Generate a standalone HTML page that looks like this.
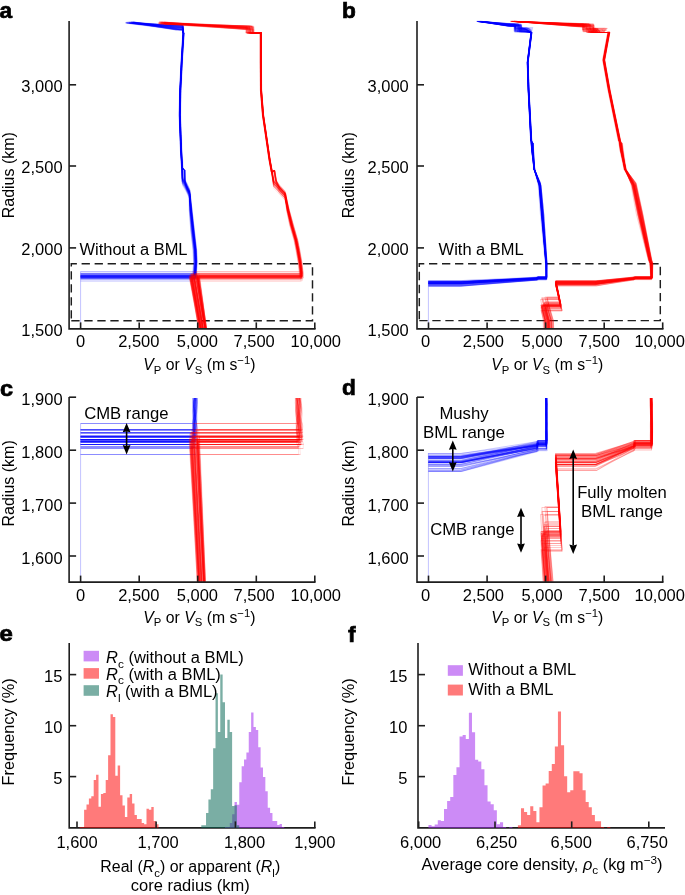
<!DOCTYPE html>
<html><head><meta charset="utf-8"><style>
html,body{margin:0;padding:0;background:#fff;}
svg{display:block;will-change:transform;}
text{font-family:"Liberation Sans",sans-serif;fill:#000;}
</style></head><body>
<svg width="685" height="895" viewBox="0 0 685 895">
<rect width="685" height="895" fill="#fff"/>
<defs><clipPath id="clipA"><rect x="69" y="0" width="260" height="329.3"/></clipPath><clipPath id="clipC"><rect x="69" y="397.9" width="260" height="184.5"/></clipPath><clipPath id="clipB"><rect x="417" y="0" width="260" height="329.3"/></clipPath><clipPath id="clipD"><rect x="417" y="397.9" width="260" height="184.5"/></clipPath></defs>
<path d="M71.3,320.8 H312.5 V263.8 H71.3 V320.8" fill="none" stroke="#1e1e1e" stroke-width="1.45" stroke-dasharray="8.3 4.72" stroke-dashoffset="0"/>
<path d="M419.3,320.6 H660.3 V263.8 H419.3 V320.6" fill="none" stroke="#1e1e1e" stroke-width="1.45" stroke-dasharray="8.3 4.72" stroke-dashoffset="0"/>
<g clip-path="url(#clipA)">
<polyline points="131.9,23.4 176.7,29.4 182.2,29.4 183.1,33.0 183.4,33.0 181.7,60.0 180.2,90.0 179.7,115.0 181.0,150.0 181.9,165.0 182.4,178.9 186.4,185.9 189.5,192.4 190.7,210.0 192.7,230.0 195.0,250.0 195.5,262.0 194.9,272.0 194.9,277.5 80.6,277.5" fill="none" stroke="#0000ff" stroke-width="0.5" stroke-opacity="0.27" stroke-linejoin="miter" stroke-miterlimit="2"/>
<polyline points="131.3,22.5 175.1,26.9 182.3,26.9 182.7,33.0 182.9,33.0 181.2,60.0 179.7,90.0 179.2,115.0 180.5,150.0 181.4,165.0 181.6,167.5 184.0,170.5 184.2,181.4 185.9,187.7 189.0,194.2 189.8,210.0 191.6,230.0 193.9,250.0 194.4,262.0 193.8,272.0 193.8,276.7 80.6,276.7" fill="none" stroke="#0000ff" stroke-width="0.5" stroke-opacity="0.27" stroke-linejoin="miter" stroke-miterlimit="2"/>
<polyline points="130.6,21.8 176.6,27.4 182.7,27.4 183.0,33.0 183.6,33.0 181.9,60.0 180.4,90.0 179.9,115.0 181.2,150.0 182.1,165.0 182.6,181.4 186.6,188.4 189.6,194.9 189.7,210.0 191.2,230.0 193.5,250.0 194.0,262.0 193.4,271.5 80.6,271.5" fill="none" stroke="#0000ff" stroke-width="0.5" stroke-opacity="0.27" stroke-linejoin="miter" stroke-miterlimit="2"/>
<polyline points="128.6,23.2 175.2,25.5 183.0,25.5 182.8,33.0 183.8,33.0 182.1,60.0 180.6,90.0 180.1,115.0 181.4,150.0 182.3,165.0 182.5,167.5 184.9,170.5 185.1,181.6 186.8,188.1 189.9,194.6 191.1,210.0 193.1,230.0 195.4,250.0 195.9,262.0 195.3,272.0 195.2,277.1 80.6,277.1" fill="none" stroke="#0000ff" stroke-width="0.5" stroke-opacity="0.27" stroke-linejoin="miter" stroke-miterlimit="2"/>
<polyline points="133.1,22.2 179.2,29.9 182.6,29.9 182.8,33.0 183.7,33.0 182.0,60.0 180.5,90.0 180.0,115.0 181.3,150.0 182.2,165.0 182.7,180.4 186.7,187.4 189.8,193.9 191.1,210.0 193.2,230.0 195.5,250.0 196.0,262.0 195.4,272.0 195.3,275.5 80.6,275.5" fill="none" stroke="#0000ff" stroke-width="0.5" stroke-opacity="0.27" stroke-linejoin="miter" stroke-miterlimit="2"/>
<polyline points="128.6,22.2 176.3,29.8 182.3,29.8 182.8,33.0 183.6,33.0 181.9,60.0 180.4,90.0 179.9,115.0 181.2,150.0 182.1,165.0 182.6,185.5 186.6,192.5 189.6,199.0 190.2,210.0 192.0,230.0 194.3,250.0 194.8,262.0 194.2,272.0 194.1,278.0 80.6,278.0" fill="none" stroke="#0000ff" stroke-width="0.5" stroke-opacity="0.27" stroke-linejoin="miter" stroke-miterlimit="2"/>
<polyline points="126.4,23.2 175.9,25.9 183.3,25.9 182.8,33.0 183.3,33.0 181.6,60.0 180.1,90.0 179.6,115.0 180.9,150.0 181.8,165.0 182.3,178.9 186.3,185.9 189.4,192.4 191.3,210.0 193.5,230.0 195.8,250.0 196.3,262.0 195.7,272.0 195.7,277.5 80.6,277.5" fill="none" stroke="#0000ff" stroke-width="0.5" stroke-opacity="0.27" stroke-linejoin="miter" stroke-miterlimit="2"/>
<polyline points="129.4,23.2 178.5,26.8 182.7,26.8 183.7,33.0 183.3,33.0 181.6,60.0 180.1,90.0 179.6,115.0 180.9,150.0 181.8,165.0 182.3,183.0 186.3,190.0 189.5,196.5 191.5,210.0 193.8,230.0 196.1,250.0 196.6,262.0 196.0,272.0 195.9,279.0 80.6,279.0" fill="none" stroke="#0000ff" stroke-width="0.5" stroke-opacity="0.27" stroke-linejoin="miter" stroke-miterlimit="2"/>
<polyline points="130.4,23.3 179.6,27.5 182.7,27.5 183.3,33.0 183.3,33.0 181.6,60.0 180.1,90.0 179.6,115.0 180.9,150.0 181.8,165.0 182.3,183.4 186.3,190.4 189.3,196.9 189.9,210.0 191.7,230.0 194.0,250.0 194.5,262.0 193.9,272.0 193.8,275.9 80.6,275.9" fill="none" stroke="#0000ff" stroke-width="0.5" stroke-opacity="0.27" stroke-linejoin="miter" stroke-miterlimit="2"/>
<polyline points="131.7,22.0 179.0,25.8 183.4,25.8 183.8,33.0 183.4,33.0 181.7,60.0 180.2,90.0 179.7,115.0 181.0,150.0 181.9,165.0 182.1,167.5 184.5,170.5 184.7,181.5 186.4,187.9 189.4,194.4 189.5,210.0 191.1,230.0 193.4,250.0 193.9,262.0 193.3,272.0 193.2,281.0 80.6,281.0" fill="none" stroke="#0000ff" stroke-width="0.5" stroke-opacity="0.27" stroke-linejoin="miter" stroke-miterlimit="2"/>
<polyline points="132.4,22.0 180.8,29.9 182.4,29.9 182.6,33.0 183.3,33.0 181.6,60.0 180.1,90.0 179.6,115.0 180.9,150.0 181.8,165.0 182.0,167.5 184.4,170.5 184.6,181.0 186.3,186.9 189.4,193.4 190.7,210.0 192.7,230.0 195.0,250.0 195.5,262.0 194.9,272.0 194.9,276.4 80.6,276.4" fill="none" stroke="#0000ff" stroke-width="0.5" stroke-opacity="0.27" stroke-linejoin="miter" stroke-miterlimit="2"/>
<polyline points="128.4,23.3 178.3,27.3 182.4,27.3 182.8,33.0 183.2,33.0 181.5,60.0 180.0,90.0 179.5,115.0 180.8,150.0 181.7,165.0 182.2,183.6 186.2,190.6 189.3,197.1 190.9,210.0 193.1,230.0 195.4,250.0 195.9,262.0 195.3,272.0 195.3,274.3 80.6,274.3" fill="none" stroke="#0000ff" stroke-width="0.5" stroke-opacity="0.27" stroke-linejoin="miter" stroke-miterlimit="2"/>
<polyline points="132.7,22.6 177.6,25.5 183.3,25.5 183.1,33.0 183.3,33.0 181.6,60.0 180.1,90.0 179.6,115.0 180.9,150.0 181.8,165.0 182.3,180.7 186.3,187.7 189.3,194.2 189.8,210.0 191.5,230.0 193.8,250.0 194.3,262.0 193.7,272.0 193.6,278.5 80.6,278.5" fill="none" stroke="#0000ff" stroke-width="0.5" stroke-opacity="0.27" stroke-linejoin="miter" stroke-miterlimit="2"/>
<polyline points="129.3,23.3 176.6,25.8 183.6,25.8 183.3,33.0 183.7,33.0 182.0,60.0 180.5,90.0 180.0,115.0 181.3,150.0 182.2,165.0 182.4,167.5 184.8,170.5 185.0,180.7 186.7,186.4 189.8,192.9 191.6,210.0 193.8,230.0 196.1,250.0 196.6,262.0 196.0,272.0 195.9,278.0 80.6,278.0" fill="none" stroke="#0000ff" stroke-width="0.5" stroke-opacity="0.27" stroke-linejoin="miter" stroke-miterlimit="2"/>
<polyline points="131.7,22.4 180.3,28.3 182.5,28.3 183.8,33.0 183.5,33.0 181.8,60.0 180.3,90.0 179.8,115.0 181.1,150.0 182.0,165.0 182.5,179.4 186.5,186.4 189.7,192.9 191.4,210.0 193.6,230.0 195.9,250.0 196.4,262.0 195.8,272.0 195.7,277.1 80.6,277.1" fill="none" stroke="#0000ff" stroke-width="0.5" stroke-opacity="0.27" stroke-linejoin="miter" stroke-miterlimit="2"/>
<polyline points="132.8,22.8 178.4,25.5 183.0,25.5 183.4,33.0 183.0,33.0 181.3,60.0 179.8,90.0 179.3,115.0 180.6,150.0 181.5,165.0 182.0,181.3 186.0,188.3 189.1,194.8 190.7,210.0 192.8,230.0 195.1,250.0 195.6,262.0 195.0,271.5 80.6,271.5" fill="none" stroke="#0000ff" stroke-width="0.5" stroke-opacity="0.27" stroke-linejoin="miter" stroke-miterlimit="2"/>
<polyline points="131.1,22.0 175.5,28.1 182.4,28.1 183.5,33.0 183.2,33.0 181.5,60.0 180.0,90.0 179.5,115.0 180.8,150.0 181.7,165.0 181.9,167.5 184.3,170.5 184.5,179.4 186.2,183.9 189.3,190.4 190.3,210.0 192.2,230.0 194.5,250.0 195.0,262.0 194.4,272.0 194.3,279.3 80.6,279.3" fill="none" stroke="#0000ff" stroke-width="0.5" stroke-opacity="0.27" stroke-linejoin="miter" stroke-miterlimit="2"/>
<polyline points="133.8,22.7 176.3,26.0 182.2,26.0 183.2,33.0 183.4,33.0 181.7,60.0 180.2,90.0 179.7,115.0 181.0,150.0 181.9,165.0 182.4,178.5 186.4,185.5 189.5,192.0 190.8,210.0 192.9,230.0 195.2,250.0 195.7,262.0 195.1,272.0 195.0,275.5 80.6,275.5" fill="none" stroke="#0000ff" stroke-width="0.5" stroke-opacity="0.27" stroke-linejoin="miter" stroke-miterlimit="2"/>
<polyline points="133.6,23.2 179.3,25.6 182.5,25.6 183.0,33.0 183.5,33.0 181.8,60.0 180.3,90.0 179.8,115.0 181.1,150.0 182.0,165.0 182.5,176.2 186.5,183.2 189.5,189.7 189.3,210.0 190.7,230.0 193.0,250.0 193.5,262.0 192.9,272.0 192.8,274.3 80.6,274.3" fill="none" stroke="#0000ff" stroke-width="0.5" stroke-opacity="0.27" stroke-linejoin="miter" stroke-miterlimit="2"/>
<polyline points="125.7,22.5 179.4,28.6 183.2,28.6 183.4,33.0 183.5,33.0 181.8,60.0 180.3,90.0 179.8,115.0 181.1,150.0 182.0,165.0 182.2,167.5 184.6,170.5 184.8,182.2 186.5,189.4 189.6,195.9 190.5,210.0 192.4,230.0 194.7,250.0 195.2,262.0 194.6,272.0 194.6,279.3 80.6,279.3" fill="none" stroke="#0000ff" stroke-width="0.5" stroke-opacity="0.27" stroke-linejoin="miter" stroke-miterlimit="2"/>
<polyline points="129.3,22.1 175.8,30.0 182.1,30.0 183.0,33.0 183.8,33.0 182.1,60.0 180.6,90.0 180.1,115.0 181.4,150.0 182.3,165.0 182.5,167.5 184.9,170.5 185.1,183.1 186.8,191.3 189.9,197.8 191.4,210.0 193.6,230.0 195.9,250.0 196.4,262.0 195.8,272.0 195.7,275.5 80.6,275.5" fill="none" stroke="#0000ff" stroke-width="0.5" stroke-opacity="0.27" stroke-linejoin="miter" stroke-miterlimit="2"/>
<polyline points="132.9,21.8 180.2,29.8 182.1,29.8 183.5,33.0 183.5,33.0 181.8,60.0 180.3,90.0 179.8,115.0 181.1,150.0 182.0,165.0 182.5,178.2 186.5,185.2 189.6,191.7 191.1,210.0 193.2,230.0 195.5,250.0 196.0,262.0 195.4,272.0 195.4,275.5 80.6,275.5" fill="none" stroke="#0000ff" stroke-width="0.5" stroke-opacity="0.27" stroke-linejoin="miter" stroke-miterlimit="2"/>
<polyline points="127.4,22.8 180.5,28.9 182.5,28.9 182.8,33.0 183.5,33.0 181.8,60.0 180.3,90.0 179.8,115.0 181.1,150.0 182.0,165.0 182.5,179.8 186.5,186.8 189.6,193.3 190.8,210.0 192.8,230.0 195.1,250.0 195.6,262.0 195.0,272.0 195.0,276.4 80.6,276.4" fill="none" stroke="#0000ff" stroke-width="0.5" stroke-opacity="0.27" stroke-linejoin="miter" stroke-miterlimit="2"/>
<polyline points="131.4,22.2 177.5,27.5 183.1,27.5 183.7,33.0 183.4,33.0 181.7,60.0 180.2,90.0 179.7,115.0 181.0,150.0 181.9,165.0 182.1,167.5 184.5,170.5 184.7,180.9 186.4,186.9 189.5,193.4 190.8,210.0 192.8,230.0 195.1,250.0 195.6,262.0 195.0,272.0 195.0,276.4 80.6,276.4" fill="none" stroke="#0000ff" stroke-width="0.5" stroke-opacity="0.27" stroke-linejoin="miter" stroke-miterlimit="2"/>
<polyline points="131.3,22.0 180.7,27.1 182.6,27.1 182.9,33.0 183.8,33.0 182.1,60.0 180.6,90.0 180.1,115.0 181.4,150.0 182.3,165.0 182.5,167.5 184.9,170.5 185.1,181.7 186.8,188.3 190.0,194.8 191.4,210.0 193.5,230.0 195.8,250.0 196.3,262.0 195.7,272.0 195.7,277.5 80.6,277.5" fill="none" stroke="#0000ff" stroke-width="0.5" stroke-opacity="0.27" stroke-linejoin="miter" stroke-miterlimit="2"/>
<polyline points="126.4,22.1 180.8,29.8 182.6,29.8 183.6,33.0 183.4,33.0 181.7,60.0 180.2,90.0 179.7,115.0 181.0,150.0 181.9,165.0 182.4,179.7 186.4,186.7 189.6,193.2 191.2,210.0 193.4,230.0 195.7,250.0 196.2,262.0 195.6,272.0 195.6,275.5 80.6,275.5" fill="none" stroke="#0000ff" stroke-width="0.5" stroke-opacity="0.27" stroke-linejoin="miter" stroke-miterlimit="2"/>
<polyline points="133.9,22.2 178.7,26.4 183.1,26.4 183.0,33.0 183.5,33.0 181.8,60.0 180.3,90.0 179.8,115.0 181.1,150.0 182.0,165.0 182.5,178.9 186.5,185.9 189.6,192.4 190.8,210.0 192.8,230.0 195.1,250.0 195.6,262.0 195.0,272.0 194.9,276.4 80.6,276.4" fill="none" stroke="#0000ff" stroke-width="0.5" stroke-opacity="0.27" stroke-linejoin="miter" stroke-miterlimit="2"/>
<polyline points="128.6,21.9 179.7,26.6 182.3,26.6 183.5,33.0 183.6,33.0 181.9,60.0 180.4,90.0 179.9,115.0 181.2,150.0 182.1,165.0 182.3,167.5 184.7,170.5 184.9,180.3 186.6,185.6 189.7,192.1 190.6,210.0 192.5,230.0 194.8,250.0 195.3,262.0 194.7,272.0 194.7,276.4 80.6,276.4" fill="none" stroke="#0000ff" stroke-width="0.5" stroke-opacity="0.27" stroke-linejoin="miter" stroke-miterlimit="2"/>
<polyline points="132.9,22.7 176.8,25.6 182.6,25.6 183.5,33.0 183.3,33.0 181.6,60.0 180.1,90.0 179.6,115.0 180.9,150.0 181.8,165.0 182.0,167.5 184.4,170.5 184.6,179.8 186.3,184.6 189.4,191.1 190.7,210.0 192.7,230.0 195.0,250.0 195.5,262.0 194.9,272.0 194.9,276.4 80.6,276.4" fill="none" stroke="#0000ff" stroke-width="0.5" stroke-opacity="0.27" stroke-linejoin="miter" stroke-miterlimit="2"/>
<polyline points="130.5,22.4 180.6,29.9 183.4,29.9 183.1,33.0 183.5,33.0 181.8,60.0 180.3,90.0 179.8,115.0 181.1,150.0 182.0,165.0 182.2,167.5 184.6,170.5 184.8,181.5 186.5,187.9 189.6,194.4 191.0,210.0 193.1,230.0 195.4,250.0 195.9,262.0 195.3,272.0 195.3,276.7 80.6,276.7" fill="none" stroke="#0000ff" stroke-width="0.5" stroke-opacity="0.27" stroke-linejoin="miter" stroke-miterlimit="2"/>
<polyline points="125.9,22.4 175.6,27.7 182.9,27.7 183.4,33.0 183.6,33.0 181.9,60.0 180.4,90.0 179.9,115.0 181.2,150.0 182.1,165.0 182.6,183.4 186.6,190.4 189.7,196.9 191.2,210.0 193.3,230.0 195.6,250.0 196.1,262.0 195.5,272.0 195.4,275.5 80.6,275.5" fill="none" stroke="#0000ff" stroke-width="0.5" stroke-opacity="0.27" stroke-linejoin="miter" stroke-miterlimit="2"/>
<polyline points="126.8,22.7 175.1,27.3 183.0,27.3 183.7,33.0 183.7,33.0 182.0,60.0 180.5,90.0 180.0,115.0 181.3,150.0 182.2,165.0 182.4,167.5 184.8,170.5 185.0,179.3 186.7,183.6 189.8,190.1 191.6,210.0 193.8,230.0 196.1,250.0 196.6,262.0 196.0,272.0 195.9,279.0 80.6,279.0" fill="none" stroke="#0000ff" stroke-width="0.5" stroke-opacity="0.27" stroke-linejoin="miter" stroke-miterlimit="2"/>
<polyline points="132.7,23.1 176.0,28.1 182.4,28.1 183.1,33.0 184.1,33.0 182.4,60.0 180.9,90.0 180.4,115.0 181.7,150.0 182.6,165.0 182.8,167.5 185.2,170.5 185.4,182.4 187.1,189.8 190.3,196.3 192.0,210.0 194.2,230.0 196.5,250.0 197.0,262.0 196.4,272.0 196.4,278.0 80.6,278.0" fill="none" stroke="#0000ff" stroke-width="0.5" stroke-opacity="0.27" stroke-linejoin="miter" stroke-miterlimit="2"/>
<polyline points="131.2,22.5 177.7,27.1 182.0,27.1 183.3,33.0 183.4,33.0 181.7,60.0 180.2,90.0 179.7,115.0 181.0,150.0 181.9,165.0 182.4,177.7 186.4,184.7 189.5,191.2 191.1,210.0 193.2,230.0 195.5,250.0 196.0,262.0 195.4,272.0 195.4,275.5 80.6,275.5" fill="none" stroke="#0000ff" stroke-width="0.5" stroke-opacity="0.27" stroke-linejoin="miter" stroke-miterlimit="2"/>
<polyline points="133.9,23.2 175.8,26.9 183.6,26.9 183.5,33.0 183.6,33.0 181.9,60.0 180.4,90.0 179.9,115.0 181.2,150.0 182.1,165.0 182.6,180.8 186.6,187.8 189.7,194.3 191.0,210.0 193.1,230.0 195.4,250.0 195.9,262.0 195.3,272.0 195.2,274.3 80.6,274.3" fill="none" stroke="#0000ff" stroke-width="0.5" stroke-opacity="0.27" stroke-linejoin="miter" stroke-miterlimit="2"/>
<polyline points="126.9,23.3 176.0,25.2 183.1,25.2 183.7,33.0 183.4,33.0 181.7,60.0 180.2,90.0 179.7,115.0 181.0,150.0 181.9,165.0 182.1,167.5 184.5,170.5 184.7,180.1 186.4,185.2 189.5,191.7 190.6,210.0 192.6,230.0 194.9,250.0 195.4,262.0 194.8,272.0 194.8,278.0 80.6,278.0" fill="none" stroke="#0000ff" stroke-width="0.5" stroke-opacity="0.27" stroke-linejoin="miter" stroke-miterlimit="2"/>
<polyline points="132.0,23.1 175.3,25.9 182.4,25.9 183.4,33.0 183.2,33.0 181.5,60.0 180.0,90.0 179.5,115.0 180.8,150.0 181.7,165.0 182.2,177.8 186.2,184.8 189.4,191.3 191.3,210.0 193.5,230.0 195.8,250.0 196.3,262.0 195.7,272.0 195.7,277.1 80.6,277.1" fill="none" stroke="#0000ff" stroke-width="0.5" stroke-opacity="0.27" stroke-linejoin="miter" stroke-miterlimit="2"/>
<polyline points="129.6,23.3 175.8,28.1 182.4,28.1 182.8,33.0 183.4,33.0 181.7,60.0 180.2,90.0 179.7,115.0 181.0,150.0 181.9,165.0 182.1,167.5 184.5,170.5 184.7,180.4 186.4,185.9 189.5,192.4 190.6,210.0 192.5,230.0 194.8,250.0 195.3,262.0 194.7,272.0 194.6,281.0 80.6,281.0" fill="none" stroke="#0000ff" stroke-width="0.5" stroke-opacity="0.27" stroke-linejoin="miter" stroke-miterlimit="2"/>
<polyline points="125.4,23.3 178.3,28.9 182.2,28.9 182.8,33.0 183.2,33.0 181.5,60.0 180.0,90.0 179.5,115.0 180.8,150.0 181.7,165.0 182.2,180.7 186.2,187.7 189.3,194.2 190.0,210.0 191.8,230.0 194.1,250.0 194.6,262.0 194.0,272.0 194.0,275.9 80.6,275.9" fill="none" stroke="#0000ff" stroke-width="0.5" stroke-opacity="0.27" stroke-linejoin="miter" stroke-miterlimit="2"/>
<polyline points="132.9,22.2 179.3,28.5 182.9,28.5 183.1,33.0 183.2,33.0 181.5,60.0 180.0,90.0 179.5,115.0 180.8,150.0 181.7,165.0 182.2,178.3 186.2,185.3 189.3,191.8 191.2,210.0 193.5,230.0 195.8,250.0 196.3,262.0 195.7,272.0 195.7,277.1 80.6,277.1" fill="none" stroke="#0000ff" stroke-width="0.5" stroke-opacity="0.27" stroke-linejoin="miter" stroke-miterlimit="2"/>
<polyline points="129.5,22.9 180.0,29.9 183.4,29.9 183.1,33.0 183.9,33.0 182.2,60.0 180.7,90.0 180.2,115.0 181.5,150.0 182.4,165.0 182.9,177.2 186.9,184.2 189.9,190.7 191.0,210.0 193.0,230.0 195.3,250.0 195.8,262.0 195.2,272.0 195.1,277.1 80.6,277.1" fill="none" stroke="#0000ff" stroke-width="0.5" stroke-opacity="0.27" stroke-linejoin="miter" stroke-miterlimit="2"/>
<polyline points="133.3,23.2 175.4,29.1 183.5,29.1 183.7,33.0 183.5,33.0 181.8,60.0 180.3,90.0 179.8,115.0 181.1,150.0 182.0,165.0 182.2,167.5 184.6,170.5 184.8,179.8 186.5,184.6 189.7,191.1 191.6,210.0 193.9,230.0 196.2,250.0 196.7,262.0 196.1,272.0 196.0,277.1 80.6,277.1" fill="none" stroke="#0000ff" stroke-width="0.5" stroke-opacity="0.27" stroke-linejoin="miter" stroke-miterlimit="2"/>
<polyline points="134.0,23.2 178.0,26.6 183.0,26.6 182.6,33.0 183.5,33.0 181.8,60.0 180.3,90.0 179.8,115.0 181.1,150.0 182.0,165.0 182.5,178.1 186.5,185.1 189.5,191.6 190.3,210.0 192.1,230.0 194.4,250.0 194.9,262.0 194.3,272.0 194.2,278.5 80.6,278.5" fill="none" stroke="#0000ff" stroke-width="0.5" stroke-opacity="0.27" stroke-linejoin="miter" stroke-miterlimit="2"/>
<polyline points="133.8,22.1 176.7,26.3 183.1,26.3 183.2,33.0 182.7,33.0 181.0,60.0 179.5,90.0 179.0,115.0 180.3,150.0 181.2,165.0 181.4,167.5 183.8,170.5 184.0,179.9 185.7,184.8 188.8,191.3 190.8,210.0 193.1,230.0 195.4,250.0 195.9,262.0 195.3,272.0 195.3,277.1 80.6,277.1" fill="none" stroke="#0000ff" stroke-width="0.5" stroke-opacity="0.27" stroke-linejoin="miter" stroke-miterlimit="2"/>
<polyline points="130.1,23.0 179.5,27.3 183.0,27.3 183.0,33.0 183.2,33.0 181.5,60.0 180.0,90.0 179.5,115.0 180.8,150.0 181.7,165.0 182.2,179.0 186.2,186.0 189.3,192.5 190.4,210.0 192.3,230.0 194.6,250.0 195.1,262.0 194.5,272.0 194.5,276.7 80.6,276.7" fill="none" stroke="#0000ff" stroke-width="0.5" stroke-opacity="0.27" stroke-linejoin="miter" stroke-miterlimit="2"/>
<polyline points="127.0,23.0 180.9,26.6 182.2,26.6 183.8,33.0 183.7,33.0 182.0,60.0 180.5,90.0 180.0,115.0 181.3,150.0 182.2,165.0 182.4,167.5 184.8,170.5 185.0,180.4 186.7,185.8 189.8,192.3 191.0,210.0 193.0,230.0 195.3,250.0 195.8,262.0 195.2,272.0 195.1,275.2 80.6,275.2" fill="none" stroke="#0000ff" stroke-width="0.5" stroke-opacity="0.27" stroke-linejoin="miter" stroke-miterlimit="2"/>
<polyline points="133.5,22.7 177.6,28.7 183.2,28.7 183.1,33.0 183.3,33.0 181.6,60.0 180.1,90.0 179.6,115.0 180.9,150.0 181.8,165.0 182.3,178.8 186.3,185.8 189.4,192.3 190.8,210.0 192.8,230.0 195.1,250.0 195.6,262.0 195.0,272.0 195.0,273.7 80.6,273.7" fill="none" stroke="#0000ff" stroke-width="0.5" stroke-opacity="0.27" stroke-linejoin="miter" stroke-miterlimit="2"/>
<polyline points="131.2,22.4 179.7,25.9 182.8,25.9 183.8,33.0 183.0,33.0 181.3,60.0 179.8,90.0 179.3,115.0 180.6,150.0 181.5,165.0 181.7,167.5 184.1,170.5 184.3,180.0 186.0,184.9 189.0,191.4 189.2,210.0 190.8,230.0 193.1,250.0 193.6,262.0 193.0,272.0 192.9,276.4 80.6,276.4" fill="none" stroke="#0000ff" stroke-width="0.5" stroke-opacity="0.27" stroke-linejoin="miter" stroke-miterlimit="2"/>
<polyline points="128.5,22.2 175.3,29.9 182.6,29.9 182.6,33.0 183.4,33.0 181.7,60.0 180.2,90.0 179.7,115.0 181.0,150.0 181.9,165.0 182.4,179.0 186.4,186.0 189.4,192.5 190.2,210.0 192.0,230.0 194.3,250.0 194.8,262.0 194.2,272.0 194.1,278.0 80.6,278.0" fill="none" stroke="#0000ff" stroke-width="0.5" stroke-opacity="0.27" stroke-linejoin="miter" stroke-miterlimit="2"/>
<polyline points="132.6,22.3 177.8,29.1 182.9,29.1 182.8,33.0 183.9,33.0 182.2,60.0 180.7,90.0 180.2,115.0 181.5,150.0 182.4,165.0 182.9,178.3 186.9,185.3 190.0,191.8 191.8,210.0 194.0,230.0 196.3,250.0 196.8,262.0 196.2,272.0 196.2,278.0 80.6,278.0" fill="none" stroke="#0000ff" stroke-width="0.5" stroke-opacity="0.27" stroke-linejoin="miter" stroke-miterlimit="2"/>
<polyline points="133.5,22.0 179.7,29.1 183.3,29.1 183.4,33.0 183.1,33.0 181.4,60.0 179.9,90.0 179.4,115.0 180.7,150.0 181.6,165.0 182.1,179.5 186.1,186.5 189.2,193.0 190.4,210.0 192.5,230.0 194.8,250.0 195.3,262.0 194.7,272.0 194.6,276.4 80.6,276.4" fill="none" stroke="#0000ff" stroke-width="0.5" stroke-opacity="0.27" stroke-linejoin="miter" stroke-miterlimit="2"/>
<polyline points="132.0,23.2 177.6,27.7 182.9,27.7 182.9,33.0 184.0,33.0 182.3,60.0 180.8,90.0 180.3,115.0 181.6,150.0 182.5,165.0 182.7,167.5 185.1,170.5 185.3,181.5 187.0,188.0 190.2,194.5 192.1,210.0 194.4,230.0 196.7,250.0 197.2,262.0 196.6,272.0 196.6,278.0 80.6,278.0" fill="none" stroke="#0000ff" stroke-width="0.5" stroke-opacity="0.27" stroke-linejoin="miter" stroke-miterlimit="2"/>
<polyline points="125.6,22.9 178.7,28.2 183.5,28.2 183.0,33.0 182.8,33.0 181.1,60.0 179.6,90.0 179.1,115.0 180.4,150.0 181.3,165.0 181.8,181.3 185.8,188.3 189.0,194.8 190.8,210.0 193.0,230.0 195.3,250.0 195.8,262.0 195.2,272.0 195.2,275.2 80.6,275.2" fill="none" stroke="#0000ff" stroke-width="0.5" stroke-opacity="0.27" stroke-linejoin="miter" stroke-miterlimit="2"/>
<polyline points="134.1,23.1 178.9,27.5 182.5,27.5 183.0,33.0 183.8,33.0 182.1,60.0 180.6,90.0 180.1,115.0 181.4,150.0 182.3,165.0 182.5,167.5 184.9,170.5 185.1,180.2 186.8,185.4 189.9,191.9 191.1,210.0 193.1,230.0 195.4,250.0 195.9,262.0 195.3,272.0 195.3,273.3 80.6,273.3" fill="none" stroke="#0000ff" stroke-width="0.5" stroke-opacity="0.27" stroke-linejoin="miter" stroke-miterlimit="2"/>
<polyline points="131.4,22.9 176.3,28.0 182.7,28.0 183.5,33.0 183.2,33.0 181.5,60.0 180.0,90.0 179.5,115.0 180.8,150.0 181.7,165.0 181.9,167.5 184.3,170.5 184.5,179.9 186.2,184.8 189.3,191.3 190.8,210.0 192.9,230.0 195.2,250.0 195.7,262.0 195.1,272.0 195.0,275.9 80.6,275.9" fill="none" stroke="#0000ff" stroke-width="0.5" stroke-opacity="0.27" stroke-linejoin="miter" stroke-miterlimit="2"/>
<polyline points="129.3,22.4 175.1,29.6 182.9,29.6 183.7,33.0 183.8,33.0 182.1,60.0 180.6,90.0 180.1,115.0 181.4,150.0 182.3,165.0 182.8,181.0 186.8,188.0 189.8,194.5 190.4,210.0 192.2,230.0 194.5,250.0 195.0,262.0 194.4,272.0 194.3,275.9 80.6,275.9" fill="none" stroke="#0000ff" stroke-width="0.5" stroke-opacity="0.27" stroke-linejoin="miter" stroke-miterlimit="2"/>
<polyline points="131.7,23.0 180.1,28.9 182.1,28.9 183.4,33.0 183.5,33.0 181.8,60.0 180.3,90.0 179.8,115.0 181.1,150.0 182.0,165.0 182.5,180.6 186.5,187.6 189.6,194.1 190.7,210.0 192.6,230.0 194.9,250.0 195.4,262.0 194.8,272.0 194.8,273.3 80.6,273.3" fill="none" stroke="#0000ff" stroke-width="0.5" stroke-opacity="0.27" stroke-linejoin="miter" stroke-miterlimit="2"/>
<polyline points="131.1,22.5 178.8,26.8 182.6,26.8 183.5,33.0 184.0,33.0 182.3,60.0 180.8,90.0 180.3,115.0 181.6,150.0 182.5,165.0 183.0,182.2 187.0,189.2 190.2,195.7 192.1,210.0 194.4,230.0 196.7,250.0 197.2,262.0 196.6,272.0 196.6,273.3 80.6,273.3" fill="none" stroke="#0000ff" stroke-width="0.5" stroke-opacity="0.27" stroke-linejoin="miter" stroke-miterlimit="2"/>
<polyline points="125.3,22.5 176.6,26.4 182.9,26.4 183.6,33.0 183.3,33.0 181.6,60.0 180.1,90.0 179.6,115.0 180.9,150.0 181.8,165.0 182.3,177.8 186.3,184.8 189.4,191.3 190.8,210.0 192.8,230.0 195.1,250.0 195.6,262.0 195.0,272.0 195.0,274.7 80.6,274.7" fill="none" stroke="#0000ff" stroke-width="0.5" stroke-opacity="0.27" stroke-linejoin="miter" stroke-miterlimit="2"/>
<polyline points="132.1,22.5 179.7,26.3 182.1,26.3 183.6,33.0 183.3,33.0 181.6,60.0 180.1,90.0 179.6,115.0 180.9,150.0 181.8,165.0 182.3,178.7 186.3,185.7 189.4,192.2 190.7,210.0 192.7,230.0 195.0,250.0 195.5,262.0 194.9,272.0 194.9,276.4 80.6,276.4" fill="none" stroke="#0000ff" stroke-width="0.5" stroke-opacity="0.27" stroke-linejoin="miter" stroke-miterlimit="2"/>
<polyline points="132.4,22.8 175.9,28.2 182.6,28.2 183.2,33.0 184.5,33.0 182.8,60.0 181.3,90.0 180.8,115.0 182.1,150.0 183.0,165.0 183.5,180.7 187.5,187.7 190.6,194.2 191.9,210.0 194.0,230.0 196.3,250.0 196.8,262.0 196.2,272.0 196.1,278.0 80.6,278.0" fill="none" stroke="#0000ff" stroke-width="0.5" stroke-opacity="0.27" stroke-linejoin="miter" stroke-miterlimit="2"/>
<polyline points="125.9,22.4 178.6,29.5 182.2,29.5 183.8,33.0 183.6,33.0 181.9,60.0 180.4,90.0 179.9,115.0 181.2,150.0 182.1,165.0 182.3,167.5 184.7,170.5 184.9,178.7 186.6,182.3 189.7,188.8 191.2,210.0 193.4,230.0 195.7,250.0 196.2,262.0 195.6,272.0 195.5,273.3 80.6,273.3" fill="none" stroke="#0000ff" stroke-width="0.5" stroke-opacity="0.27" stroke-linejoin="miter" stroke-miterlimit="2"/>
<polyline points="125.8,23.0 175.9,29.9 183.5,29.9 183.4,33.0 184.0,33.0 182.3,60.0 180.8,90.0 180.3,115.0 181.6,150.0 182.5,165.0 183.0,177.2 187.0,184.2 190.1,190.7 191.1,210.0 193.0,230.0 195.3,250.0 195.8,262.0 195.2,272.0 195.2,276.4 80.6,276.4" fill="none" stroke="#0000ff" stroke-width="0.5" stroke-opacity="0.27" stroke-linejoin="miter" stroke-miterlimit="2"/>
<polyline points="133.7,22.8 180.1,25.5 182.7,25.5 183.0,33.0 183.3,33.0 181.6,60.0 180.1,90.0 179.6,115.0 180.9,150.0 181.8,165.0 182.3,181.4 186.3,188.4 189.4,194.9 191.1,210.0 193.2,230.0 195.5,250.0 196.0,262.0 195.4,272.0 195.4,277.1 80.6,277.1" fill="none" stroke="#0000ff" stroke-width="0.5" stroke-opacity="0.27" stroke-linejoin="miter" stroke-miterlimit="2"/>
<polyline points="125.8,22.9 180.4,29.9 182.3,29.9 183.2,33.0 183.2,33.0 181.5,60.0 180.0,90.0 179.5,115.0 180.8,150.0 181.7,165.0 181.9,167.5 184.3,170.5 184.5,180.7 186.2,186.4 189.3,192.9 190.4,210.0 192.4,230.0 194.7,250.0 195.2,262.0 194.6,272.0 194.6,274.7 80.6,274.7" fill="none" stroke="#0000ff" stroke-width="0.5" stroke-opacity="0.27" stroke-linejoin="miter" stroke-miterlimit="2"/>
<polyline points="127.3,22.0 178.4,29.6 182.3,29.6 183.5,33.0 183.5,33.0 181.8,60.0 180.3,90.0 179.8,115.0 181.1,150.0 182.0,165.0 182.5,180.8 186.5,187.8 189.6,194.3 191.3,210.0 193.5,230.0 195.8,250.0 196.3,262.0 195.7,272.0 195.7,274.3 80.6,274.3" fill="none" stroke="#0000ff" stroke-width="0.5" stroke-opacity="0.27" stroke-linejoin="miter" stroke-miterlimit="2"/>
<polyline points="129.7,23.3 175.1,29.3 182.8,29.3 183.6,33.0 184.0,33.0 182.3,60.0 180.8,90.0 180.3,115.0 181.6,150.0 182.5,165.0 183.0,183.3 187.0,190.3 190.1,196.8 191.3,210.0 193.3,230.0 195.6,250.0 196.1,262.0 195.5,272.0 195.4,273.7 80.6,273.7" fill="none" stroke="#0000ff" stroke-width="0.5" stroke-opacity="0.27" stroke-linejoin="miter" stroke-miterlimit="2"/>
<polyline points="130.1,21.8 178.2,27.6 183.5,27.6 182.9,33.0 183.0,33.0 181.3,60.0 179.8,90.0 179.3,115.0 180.6,150.0 181.5,165.0 181.7,167.5 184.1,170.5 184.3,182.1 186.0,189.2 189.0,195.7 190.1,210.0 192.0,230.0 194.3,250.0 194.8,262.0 194.2,272.0 194.1,277.5 80.6,277.5" fill="none" stroke="#0000ff" stroke-width="0.5" stroke-opacity="0.27" stroke-linejoin="miter" stroke-miterlimit="2"/>
<polyline points="129.0,22.7 175.8,25.6 183.4,25.6 182.8,33.0 183.8,33.0 182.1,60.0 180.6,90.0 180.1,115.0 181.4,150.0 182.3,165.0 182.5,167.5 184.9,170.5 185.1,181.0 186.8,187.0 189.8,193.5 190.2,210.0 191.9,230.0 194.2,250.0 194.7,262.0 194.1,272.0 194.1,275.5 80.6,275.5" fill="none" stroke="#0000ff" stroke-width="0.5" stroke-opacity="0.27" stroke-linejoin="miter" stroke-miterlimit="2"/>
<polyline points="133.7,22.5 176.5,29.8 183.0,29.8 183.0,33.0 183.8,33.0 182.1,60.0 180.6,90.0 180.1,115.0 181.4,150.0 182.3,165.0 182.8,182.3 186.8,189.3 189.9,195.8 191.3,210.0 193.4,230.0 195.7,250.0 196.2,262.0 195.6,272.0 195.5,276.7 80.6,276.7" fill="none" stroke="#0000ff" stroke-width="0.5" stroke-opacity="0.27" stroke-linejoin="miter" stroke-miterlimit="2"/>
<polyline points="164.8,23.5 248.5,28.2 248.7,33.0 261.4,33.0 260.6,33.0 260.6,60.0 260.8,90.0 262.8,115.0 269.4,160.0 271.6,172.0 273.4,181.9 279.3,187.9 284.7,193.9 287.2,210.0 290.7,225.0 295.0,240.0 297.0,250.0 299.1,262.0 300.3,272.0 300.6,277.5 193.8,277.5" fill="none" stroke="#ff0000" stroke-width="0.5" stroke-opacity="0.27" stroke-linejoin="miter" stroke-miterlimit="2"/>
<polyline points="164.8,22.9 246.6,27.5 246.7,33.0 261.7,33.0 260.1,33.0 260.1,60.0 260.3,90.0 262.3,115.0 268.9,160.0 271.1,172.0 273.6,170.5 275.3,181.9 278.8,189.7 284.4,195.7 287.7,210.0 291.5,225.0 295.8,240.0 297.8,250.0 299.9,262.0 301.1,272.0 301.3,276.7 191.9,276.7" fill="none" stroke="#ff0000" stroke-width="0.5" stroke-opacity="0.27" stroke-linejoin="miter" stroke-miterlimit="2"/>
<polyline points="165.0,23.9 252.2,26.2 252.8,33.0 261.2,33.0 261.0,33.0 261.0,60.0 261.2,90.0 263.2,115.0 269.8,160.0 272.0,172.0 273.8,184.4 279.7,190.4 285.1,196.4 287.4,210.0 290.7,225.0 295.0,240.0 297.0,250.0 299.1,262.0 300.3,271.5 193.2,271.5" fill="none" stroke="#ff0000" stroke-width="0.5" stroke-opacity="0.27" stroke-linejoin="miter" stroke-miterlimit="2"/>
<polyline points="165.7,23.0 249.7,29.2 248.9,33.0 260.9,33.0 260.7,33.0 260.7,60.0 260.9,90.0 262.9,115.0 269.5,160.0 271.7,172.0 274.2,170.5 275.9,182.1 279.4,190.1 284.9,196.1 287.5,210.0 291.0,225.0 295.3,240.0 297.3,250.0 299.4,262.0 300.6,272.0 300.9,277.1 197.7,277.1" fill="none" stroke="#ff0000" stroke-width="0.5" stroke-opacity="0.27" stroke-linejoin="miter" stroke-miterlimit="2"/>
<polyline points="164.6,23.8 252.4,29.7 252.9,33.0 261.0,33.0 261.1,33.0 261.1,60.0 261.3,90.0 263.3,115.0 269.9,160.0 272.1,172.0 273.9,183.4 279.8,189.4 285.2,195.4 287.4,210.0 290.7,225.0 295.0,240.0 297.0,250.0 299.1,262.0 300.3,272.0 300.5,275.5 194.4,275.5" fill="none" stroke="#ff0000" stroke-width="0.5" stroke-opacity="0.27" stroke-linejoin="miter" stroke-miterlimit="2"/>
<polyline points="164.2,23.4 246.7,28.5 247.5,33.0 261.6,33.0 261.2,33.0 261.2,60.0 261.4,90.0 263.4,115.0 270.0,160.0 272.2,172.0 274.0,188.5 279.9,194.5 285.4,200.5 288.2,210.0 291.8,225.0 296.1,240.0 298.1,250.0 300.2,262.0 301.4,272.0 301.7,278.0 190.9,278.0" fill="none" stroke="#ff0000" stroke-width="0.5" stroke-opacity="0.27" stroke-linejoin="miter" stroke-miterlimit="2"/>
<polyline points="165.6,23.1 251.2,26.1 252.1,33.0 261.2,33.0 261.0,33.0 261.0,60.0 261.2,90.0 263.2,115.0 269.8,160.0 272.0,172.0 273.8,181.9 279.7,187.9 285.0,193.9 286.5,210.0 289.5,225.0 293.8,240.0 295.8,250.0 297.9,262.0 299.1,272.0 299.4,277.5 198.2,277.5" fill="none" stroke="#ff0000" stroke-width="0.5" stroke-opacity="0.27" stroke-linejoin="miter" stroke-miterlimit="2"/>
<polyline points="159.3,23.7 246.0,27.7 245.4,33.0 261.3,33.0 260.8,33.0 260.8,60.0 261.0,90.0 263.0,115.0 269.6,160.0 271.8,172.0 273.6,186.0 279.5,192.0 285.0,198.0 287.7,210.0 291.2,225.0 295.5,240.0 297.5,250.0 299.6,262.0 300.8,272.0 301.2,279.0 192.4,279.0" fill="none" stroke="#ff0000" stroke-width="0.5" stroke-opacity="0.27" stroke-linejoin="miter" stroke-miterlimit="2"/>
<polyline points="163.4,24.1 253.0,29.6 252.5,33.0 261.4,33.0 260.7,33.0 260.7,60.0 260.9,90.0 262.9,115.0 269.5,160.0 271.7,172.0 273.5,186.4 279.4,192.4 284.9,198.4 287.7,210.0 291.3,225.0 295.6,240.0 297.6,250.0 299.7,262.0 300.9,272.0 301.1,275.9 198.9,275.9" fill="none" stroke="#ff0000" stroke-width="0.5" stroke-opacity="0.27" stroke-linejoin="miter" stroke-miterlimit="2"/>
<polyline points="164.5,22.8 247.3,29.8 247.3,33.0 261.1,33.0 261.3,33.0 261.3,60.0 261.5,90.0 263.5,115.0 270.1,160.0 272.3,172.0 274.8,170.5 276.5,182.0 280.0,189.9 285.5,195.9 288.4,210.0 292.1,225.0 296.4,240.0 298.4,250.0 300.5,262.0 301.7,272.0 302.2,281.0 196.6,281.0" fill="none" stroke="#ff0000" stroke-width="0.5" stroke-opacity="0.27" stroke-linejoin="miter" stroke-miterlimit="2"/>
<polyline points="159.0,23.2 253.4,27.0 253.8,33.0 260.9,33.0 261.2,33.0 261.2,60.0 261.4,90.0 263.4,115.0 270.0,160.0 272.2,172.0 274.7,170.5 276.4,181.5 279.9,188.9 285.3,194.9 287.7,210.0 291.2,225.0 295.5,240.0 297.5,250.0 299.6,262.0 300.8,272.0 301.0,276.4 189.6,276.4" fill="none" stroke="#ff0000" stroke-width="0.5" stroke-opacity="0.27" stroke-linejoin="miter" stroke-miterlimit="2"/>
<polyline points="159.4,22.5 248.5,26.2 249.0,33.0 261.1,33.0 261.4,33.0 261.4,60.0 261.6,90.0 263.6,115.0 270.2,160.0 272.4,172.0 274.2,186.6 280.1,192.6 285.5,198.6 288.0,210.0 291.5,225.0 295.8,240.0 297.8,250.0 299.9,262.0 301.1,272.0 301.2,274.3 192.6,274.3" fill="none" stroke="#ff0000" stroke-width="0.5" stroke-opacity="0.27" stroke-linejoin="miter" stroke-miterlimit="2"/>
<polyline points="161.0,21.9 248.8,28.4 248.0,33.0 260.9,33.0 260.7,33.0 260.7,60.0 260.9,90.0 262.9,115.0 269.5,160.0 271.7,172.0 273.5,183.7 279.4,189.7 284.9,195.7 287.7,210.0 291.3,225.0 295.6,240.0 297.6,250.0 299.7,262.0 300.9,272.0 301.2,278.5 196.8,278.5" fill="none" stroke="#ff0000" stroke-width="0.5" stroke-opacity="0.27" stroke-linejoin="miter" stroke-miterlimit="2"/>
<polyline points="160.9,23.0 249.8,26.0 249.2,33.0 261.3,33.0 260.7,33.0 260.7,60.0 260.9,90.0 262.9,115.0 269.5,160.0 271.7,172.0 274.2,170.5 275.9,181.2 279.4,188.4 285.0,194.4 288.2,210.0 292.0,225.0 296.3,240.0 298.3,250.0 300.4,262.0 301.6,272.0 301.9,278.0 189.9,278.0" fill="none" stroke="#ff0000" stroke-width="0.5" stroke-opacity="0.27" stroke-linejoin="miter" stroke-miterlimit="2"/>
<polyline points="163.7,22.1 252.5,28.4 252.5,33.0 261.3,33.0 261.3,33.0 261.3,60.0 261.5,90.0 263.5,115.0 270.1,160.0 272.3,172.0 274.1,182.4 280.0,188.4 285.6,194.4 289.1,210.0 293.0,225.0 297.3,240.0 299.3,250.0 301.4,262.0 302.6,272.0 302.8,277.1 197.8,277.1" fill="none" stroke="#ff0000" stroke-width="0.5" stroke-opacity="0.27" stroke-linejoin="miter" stroke-miterlimit="2"/>
<polyline points="162.1,22.0 251.3,27.9 251.7,33.0 261.1,33.0 260.8,33.0 260.8,60.0 261.0,90.0 263.0,115.0 269.6,160.0 271.8,172.0 273.6,184.3 279.5,190.3 285.1,196.3 288.2,210.0 292.0,225.0 296.3,240.0 298.3,250.0 300.4,262.0 301.5,271.5 196.7,271.5" fill="none" stroke="#ff0000" stroke-width="0.5" stroke-opacity="0.27" stroke-linejoin="miter" stroke-miterlimit="2"/>
<polyline points="163.2,23.0 248.3,28.6 248.3,33.0 261.3,33.0 261.1,33.0 261.1,60.0 261.3,90.0 263.3,115.0 269.9,160.0 272.1,172.0 274.6,170.5 276.3,179.9 279.8,185.9 285.4,191.9 288.8,210.0 292.7,225.0 297.0,240.0 299.0,250.0 301.1,262.0 302.3,272.0 302.7,279.3 190.2,279.3" fill="none" stroke="#ff0000" stroke-width="0.5" stroke-opacity="0.27" stroke-linejoin="miter" stroke-miterlimit="2"/>
<polyline points="163.4,24.0 247.9,29.4 247.8,33.0 260.8,33.0 261.2,33.0 261.2,60.0 261.4,90.0 263.4,115.0 270.0,160.0 272.2,172.0 274.0,181.5 279.9,187.5 285.5,193.5 288.9,210.0 292.8,225.0 297.1,240.0 299.1,250.0 301.2,262.0 302.4,272.0 302.6,275.5 193.7,275.5" fill="none" stroke="#ff0000" stroke-width="0.5" stroke-opacity="0.27" stroke-linejoin="miter" stroke-miterlimit="2"/>
<polyline points="158.6,22.5 252.7,26.2 253.5,33.0 261.0,33.0 260.8,33.0 260.8,60.0 261.0,90.0 263.0,115.0 269.6,160.0 271.8,172.0 273.6,179.2 279.5,185.2 285.2,191.2 289.2,210.0 293.3,225.0 297.6,240.0 299.6,250.0 301.7,262.0 302.9,272.0 303.1,274.3 191.8,274.3" fill="none" stroke="#ff0000" stroke-width="0.5" stroke-opacity="0.27" stroke-linejoin="miter" stroke-miterlimit="2"/>
<polyline points="160.5,23.6 248.4,27.8 249.3,33.0 261.1,33.0 260.3,33.0 260.3,60.0 260.5,90.0 262.5,115.0 269.1,160.0 271.3,172.0 273.8,170.5 275.5,182.7 279.0,191.4 284.4,197.4 287.0,210.0 290.5,225.0 294.8,240.0 296.8,250.0 298.9,262.0 300.1,272.0 300.5,279.3 194.9,279.3" fill="none" stroke="#ff0000" stroke-width="0.5" stroke-opacity="0.27" stroke-linejoin="miter" stroke-miterlimit="2"/>
<polyline points="161.1,22.7 250.2,27.6 249.9,33.0 260.9,33.0 260.6,33.0 260.6,60.0 260.8,90.0 262.8,115.0 269.4,160.0 271.6,172.0 274.1,170.5 275.8,183.6 279.3,193.3 284.8,199.3 287.8,210.0 291.5,225.0 295.8,240.0 297.8,250.0 299.9,262.0 301.1,272.0 301.3,275.5 191.9,275.5" fill="none" stroke="#ff0000" stroke-width="0.5" stroke-opacity="0.27" stroke-linejoin="miter" stroke-miterlimit="2"/>
<polyline points="165.2,23.9 252.6,27.5 253.5,33.0 261.0,33.0 260.8,33.0 260.8,60.0 261.0,90.0 263.0,115.0 269.6,160.0 271.8,172.0 273.6,181.2 279.5,187.2 285.0,193.2 288.0,210.0 291.7,225.0 296.0,240.0 298.0,250.0 300.1,262.0 301.3,272.0 301.5,275.5 194.5,275.5" fill="none" stroke="#ff0000" stroke-width="0.5" stroke-opacity="0.27" stroke-linejoin="miter" stroke-miterlimit="2"/>
<polyline points="160.9,23.2 247.8,28.2 246.8,33.0 261.1,33.0 260.4,33.0 260.4,60.0 260.6,90.0 262.6,115.0 269.2,160.0 271.4,172.0 273.2,182.8 279.1,188.8 284.8,194.8 288.3,210.0 292.2,225.0 296.5,240.0 298.5,250.0 300.6,262.0 301.8,272.0 302.1,276.4 193.8,276.4" fill="none" stroke="#ff0000" stroke-width="0.5" stroke-opacity="0.27" stroke-linejoin="miter" stroke-miterlimit="2"/>
<polyline points="159.4,23.6 252.4,28.6 252.4,33.0 261.0,33.0 261.3,33.0 261.3,60.0 261.5,90.0 263.5,115.0 270.1,160.0 272.3,172.0 274.8,170.5 276.5,181.4 280.0,188.9 285.6,194.9 288.8,210.0 292.7,225.0 297.0,240.0 299.0,250.0 301.1,262.0 302.3,272.0 302.5,276.4 197.6,276.4" fill="none" stroke="#ff0000" stroke-width="0.5" stroke-opacity="0.27" stroke-linejoin="miter" stroke-miterlimit="2"/>
<polyline points="163.7,24.0 254.0,29.4 253.6,33.0 261.0,33.0 260.7,33.0 260.7,60.0 260.9,90.0 262.9,115.0 269.5,160.0 271.7,172.0 274.2,170.5 275.9,182.2 279.4,190.3 284.9,196.3 287.6,210.0 291.2,225.0 295.5,240.0 297.5,250.0 299.6,262.0 300.8,272.0 301.1,277.5 198.8,277.5" fill="none" stroke="#ff0000" stroke-width="0.5" stroke-opacity="0.27" stroke-linejoin="miter" stroke-miterlimit="2"/>
<polyline points="165.2,22.7 247.5,27.4 248.3,33.0 260.8,33.0 260.8,33.0 260.8,60.0 261.0,90.0 263.0,115.0 269.6,160.0 271.8,172.0 273.6,182.7 279.5,188.7 284.9,194.7 286.9,210.0 290.1,225.0 294.4,240.0 296.4,250.0 298.5,262.0 299.7,272.0 299.9,275.5 197.1,275.5" fill="none" stroke="#ff0000" stroke-width="0.5" stroke-opacity="0.27" stroke-linejoin="miter" stroke-miterlimit="2"/>
<polyline points="159.7,24.1 249.8,26.1 250.7,33.0 261.2,33.0 261.4,33.0 261.4,60.0 261.6,90.0 263.6,115.0 270.2,160.0 272.4,172.0 274.2,181.9 280.1,187.9 285.6,193.9 288.4,210.0 292.1,225.0 296.4,240.0 298.4,250.0 300.5,262.0 301.7,272.0 301.9,276.4 191.6,276.4" fill="none" stroke="#ff0000" stroke-width="0.5" stroke-opacity="0.27" stroke-linejoin="miter" stroke-miterlimit="2"/>
<polyline points="165.6,24.2 253.1,27.2 252.6,33.0 260.9,33.0 261.1,33.0 261.1,60.0 261.3,90.0 263.3,115.0 269.9,160.0 272.1,172.0 274.6,170.5 276.3,180.8 279.8,187.6 285.4,193.6 288.7,210.0 292.5,225.0 296.8,240.0 298.8,250.0 300.9,262.0 302.1,272.0 302.3,276.4 196.5,276.4" fill="none" stroke="#ff0000" stroke-width="0.5" stroke-opacity="0.27" stroke-linejoin="miter" stroke-miterlimit="2"/>
<polyline points="161.0,23.0 253.9,27.2 253.4,33.0 261.6,33.0 260.3,33.0 260.3,60.0 260.5,90.0 262.5,115.0 269.1,160.0 271.3,172.0 273.8,170.5 275.5,180.3 279.0,186.6 284.6,192.6 287.7,210.0 291.5,225.0 295.8,240.0 297.8,250.0 299.9,262.0 301.1,272.0 301.3,276.4 195.9,276.4" fill="none" stroke="#ff0000" stroke-width="0.5" stroke-opacity="0.27" stroke-linejoin="miter" stroke-miterlimit="2"/>
<polyline points="162.8,22.7 247.7,28.3 247.0,33.0 261.0,33.0 261.1,33.0 261.1,60.0 261.3,90.0 263.3,115.0 269.9,160.0 272.1,172.0 274.6,170.5 276.3,182.0 279.8,189.9 285.3,195.9 288.1,210.0 291.6,225.0 295.9,240.0 297.9,250.0 300.0,262.0 301.2,272.0 301.5,276.7 195.8,276.7" fill="none" stroke="#ff0000" stroke-width="0.5" stroke-opacity="0.27" stroke-linejoin="miter" stroke-miterlimit="2"/>
<polyline points="160.3,22.7 250.5,29.6 250.4,33.0 261.7,33.0 261.1,33.0 261.1,60.0 261.3,90.0 263.3,115.0 269.9,160.0 272.1,172.0 273.9,186.4 279.8,192.4 285.3,198.4 288.3,210.0 292.0,225.0 296.3,240.0 298.3,250.0 300.4,262.0 301.6,272.0 301.7,275.5 199.5,275.5" fill="none" stroke="#ff0000" stroke-width="0.5" stroke-opacity="0.27" stroke-linejoin="miter" stroke-miterlimit="2"/>
<polyline points="160.1,24.0 250.2,26.6 249.4,33.0 261.3,33.0 260.2,33.0 260.2,60.0 260.4,90.0 262.4,115.0 269.0,160.0 271.2,172.0 273.7,170.5 275.4,179.8 278.9,185.6 284.5,191.6 287.8,210.0 291.6,225.0 295.9,240.0 297.9,250.0 300.0,262.0 301.2,272.0 301.6,279.0 191.1,279.0" fill="none" stroke="#ff0000" stroke-width="0.5" stroke-opacity="0.27" stroke-linejoin="miter" stroke-miterlimit="2"/>
<polyline points="158.8,23.5 248.0,27.5 248.8,33.0 260.8,33.0 261.1,33.0 261.1,60.0 261.3,90.0 263.3,115.0 269.9,160.0 272.1,172.0 274.6,170.5 276.3,182.9 279.8,191.8 285.1,197.8 287.1,210.0 290.3,225.0 294.6,240.0 296.6,250.0 298.7,262.0 299.9,272.0 300.3,278.0 194.9,278.0" fill="none" stroke="#ff0000" stroke-width="0.5" stroke-opacity="0.27" stroke-linejoin="miter" stroke-miterlimit="2"/>
<polyline points="159.2,22.1 249.8,27.7 249.0,33.0 261.2,33.0 260.6,33.0 260.6,60.0 260.8,90.0 262.8,115.0 269.4,160.0 271.6,172.0 273.4,180.7 279.3,186.7 284.9,192.7 288.1,210.0 292.0,225.0 296.3,240.0 298.3,250.0 300.4,262.0 301.6,272.0 301.8,275.5 194.4,275.5" fill="none" stroke="#ff0000" stroke-width="0.5" stroke-opacity="0.27" stroke-linejoin="miter" stroke-miterlimit="2"/>
<polyline points="164.1,22.0 253.4,26.6 253.1,33.0 261.6,33.0 260.4,33.0 260.4,60.0 260.6,90.0 262.6,115.0 269.2,160.0 271.4,172.0 273.2,183.8 279.1,189.8 284.5,195.8 287.0,210.0 290.5,225.0 294.8,240.0 296.8,250.0 298.9,262.0 300.1,272.0 300.2,274.3 190.7,274.3" fill="none" stroke="#ff0000" stroke-width="0.5" stroke-opacity="0.27" stroke-linejoin="miter" stroke-miterlimit="2"/>
<polyline points="160.7,23.1 253.0,28.4 253.1,33.0 261.7,33.0 260.9,33.0 260.9,60.0 261.1,90.0 263.1,115.0 269.7,160.0 271.9,172.0 274.4,170.5 276.1,180.6 279.6,187.2 285.3,193.2 289.4,210.0 293.6,225.0 297.9,240.0 299.9,250.0 302.0,262.0 303.2,272.0 303.5,278.0 195.6,278.0" fill="none" stroke="#ff0000" stroke-width="0.5" stroke-opacity="0.27" stroke-linejoin="miter" stroke-miterlimit="2"/>
<polyline points="162.7,23.0 249.5,26.6 250.2,33.0 260.9,33.0 260.6,33.0 260.6,60.0 260.8,90.0 262.8,115.0 269.4,160.0 271.6,172.0 273.4,180.8 279.3,186.8 284.8,192.8 287.6,210.0 291.1,225.0 295.4,240.0 297.4,250.0 299.5,262.0 300.7,272.0 301.0,277.1 191.4,277.1" fill="none" stroke="#ff0000" stroke-width="0.5" stroke-opacity="0.27" stroke-linejoin="miter" stroke-miterlimit="2"/>
<polyline points="159.9,23.3 246.1,27.5 246.2,33.0 261.2,33.0 260.9,33.0 260.9,60.0 261.1,90.0 263.1,115.0 269.7,160.0 271.9,172.0 274.4,170.5 276.1,180.9 279.6,187.9 285.0,193.9 287.5,210.0 290.9,225.0 295.2,240.0 297.2,250.0 299.3,262.0 300.5,272.0 301.0,281.0 198.8,281.0" fill="none" stroke="#ff0000" stroke-width="0.5" stroke-opacity="0.27" stroke-linejoin="miter" stroke-miterlimit="2"/>
<polyline points="158.2,23.7 253.1,27.1 253.5,33.0 260.8,33.0 260.7,33.0 260.7,60.0 260.9,90.0 262.9,115.0 269.5,160.0 271.7,172.0 273.5,183.7 279.4,189.7 284.9,195.7 287.3,210.0 290.7,225.0 295.0,240.0 297.0,250.0 299.1,262.0 300.3,272.0 300.5,275.9 197.9,275.9" fill="none" stroke="#ff0000" stroke-width="0.5" stroke-opacity="0.27" stroke-linejoin="miter" stroke-miterlimit="2"/>
<polyline points="159.5,21.8 253.0,29.7 252.6,33.0 261.0,33.0 260.8,33.0 260.8,60.0 261.0,90.0 263.0,115.0 269.6,160.0 271.8,172.0 273.6,181.3 279.5,187.3 285.0,193.3 287.8,210.0 291.3,225.0 295.6,240.0 297.6,250.0 299.7,262.0 300.9,272.0 301.2,277.1 196.8,277.1" fill="none" stroke="#ff0000" stroke-width="0.5" stroke-opacity="0.27" stroke-linejoin="miter" stroke-miterlimit="2"/>
<polyline points="159.0,22.1 246.2,29.5 247.1,33.0 261.1,33.0 260.5,33.0 260.5,60.0 260.7,90.0 262.7,115.0 269.3,160.0 271.5,172.0 273.3,180.2 279.2,186.2 284.6,192.2 286.7,210.0 290.0,225.0 294.3,240.0 296.3,250.0 298.4,262.0 299.6,272.0 299.9,277.1 190.5,277.1" fill="none" stroke="#ff0000" stroke-width="0.5" stroke-opacity="0.27" stroke-linejoin="miter" stroke-miterlimit="2"/>
<polyline points="164.3,23.8 251.1,29.2 251.3,33.0 261.1,33.0 261.2,33.0 261.2,60.0 261.4,90.0 263.4,115.0 270.0,160.0 272.2,172.0 274.7,170.5 276.4,180.3 279.9,186.6 285.5,192.6 288.5,210.0 292.1,225.0 296.4,240.0 298.4,250.0 300.5,262.0 301.7,272.0 302.0,277.1 197.0,277.1" fill="none" stroke="#ff0000" stroke-width="0.5" stroke-opacity="0.27" stroke-linejoin="miter" stroke-miterlimit="2"/>
<polyline points="164.7,23.8 246.7,26.8 246.1,33.0 260.8,33.0 261.1,33.0 261.1,60.0 261.3,90.0 263.3,115.0 269.9,160.0 272.1,172.0 273.9,181.1 279.8,187.1 285.3,193.1 288.4,210.0 292.2,225.0 296.5,240.0 298.5,250.0 300.6,262.0 301.8,272.0 302.1,278.5 191.1,278.5" fill="none" stroke="#ff0000" stroke-width="0.5" stroke-opacity="0.27" stroke-linejoin="miter" stroke-miterlimit="2"/>
<polyline points="164.1,22.7 251.0,28.6 250.8,33.0 261.2,33.0 261.0,33.0 261.0,60.0 261.2,90.0 263.2,115.0 269.8,160.0 272.0,172.0 274.5,170.5 276.2,180.4 279.7,186.8 285.2,192.8 288.2,210.0 291.8,225.0 296.1,240.0 298.1,250.0 300.2,262.0 301.4,272.0 301.7,277.1 198.3,277.1" fill="none" stroke="#ff0000" stroke-width="0.5" stroke-opacity="0.27" stroke-linejoin="miter" stroke-miterlimit="2"/>
<polyline points="164.0,22.1 250.6,27.7 250.6,33.0 261.7,33.0 260.8,33.0 260.8,60.0 261.0,90.0 263.0,115.0 269.6,160.0 271.8,172.0 273.6,182.0 279.5,188.0 285.0,194.0 288.1,210.0 291.8,225.0 296.1,240.0 298.1,250.0 300.2,262.0 301.4,272.0 301.7,276.7 191.5,276.7" fill="none" stroke="#ff0000" stroke-width="0.5" stroke-opacity="0.27" stroke-linejoin="miter" stroke-miterlimit="2"/>
<polyline points="161.3,23.3 247.6,28.8 246.8,33.0 261.0,33.0 260.8,33.0 260.8,60.0 261.0,90.0 263.0,115.0 269.6,160.0 271.8,172.0 274.3,170.5 276.0,180.9 279.5,187.8 285.0,193.8 287.7,210.0 291.2,225.0 295.5,240.0 297.5,250.0 299.6,262.0 300.8,272.0 301.0,275.2 193.2,275.2" fill="none" stroke="#ff0000" stroke-width="0.5" stroke-opacity="0.27" stroke-linejoin="miter" stroke-miterlimit="2"/>
<polyline points="162.9,22.6 249.6,28.6 249.9,33.0 260.9,33.0 260.8,33.0 260.8,60.0 261.0,90.0 263.0,115.0 269.6,160.0 271.8,172.0 273.6,181.8 279.5,187.8 285.2,193.8 288.8,210.0 292.8,225.0 297.1,240.0 299.1,250.0 301.2,262.0 302.4,272.0 302.5,273.7 193.4,273.7" fill="none" stroke="#ff0000" stroke-width="0.5" stroke-opacity="0.27" stroke-linejoin="miter" stroke-miterlimit="2"/>
<polyline points="162.0,23.2 246.8,29.6 246.9,33.0 261.5,33.0 260.5,33.0 260.5,60.0 260.7,90.0 262.7,115.0 269.3,160.0 271.5,172.0 274.0,170.5 275.7,180.5 279.2,186.9 284.6,192.9 286.7,210.0 289.9,225.0 294.2,240.0 296.2,250.0 298.3,262.0 299.5,272.0 299.8,276.4 197.7,276.4" fill="none" stroke="#ff0000" stroke-width="0.5" stroke-opacity="0.27" stroke-linejoin="miter" stroke-miterlimit="2"/>
<polyline points="165.3,22.3 250.2,28.8 250.8,33.0 261.2,33.0 260.5,33.0 260.5,60.0 260.7,90.0 262.7,115.0 269.3,160.0 271.5,172.0 273.3,182.0 279.2,188.0 284.7,194.0 287.8,210.0 291.5,225.0 295.8,240.0 297.8,250.0 299.9,262.0 301.1,272.0 301.4,278.0 191.2,278.0" fill="none" stroke="#ff0000" stroke-width="0.5" stroke-opacity="0.27" stroke-linejoin="miter" stroke-miterlimit="2"/>
<polyline points="159.8,22.2 249.4,27.4 248.4,33.0 261.5,33.0 260.9,33.0 260.9,60.0 261.1,90.0 263.1,115.0 269.7,160.0 271.9,172.0 273.7,181.3 279.6,187.3 285.1,193.3 287.8,210.0 291.4,225.0 295.7,240.0 297.7,250.0 299.8,262.0 301.0,272.0 301.3,278.0 192.2,278.0" fill="none" stroke="#ff0000" stroke-width="0.5" stroke-opacity="0.27" stroke-linejoin="miter" stroke-miterlimit="2"/>
<polyline points="159.7,22.6 252.2,26.5 251.5,33.0 261.7,33.0 261.4,33.0 261.4,60.0 261.6,90.0 263.6,115.0 270.2,160.0 272.4,172.0 274.2,182.5 280.1,188.5 285.6,194.5 288.4,210.0 292.0,225.0 296.3,240.0 298.3,250.0 300.4,262.0 301.6,272.0 301.9,276.4 197.3,276.4" fill="none" stroke="#ff0000" stroke-width="0.5" stroke-opacity="0.27" stroke-linejoin="miter" stroke-miterlimit="2"/>
<polyline points="159.0,23.0 249.9,27.8 250.0,33.0 261.7,33.0 261.0,33.0 261.0,60.0 261.2,90.0 263.2,115.0 269.8,160.0 272.0,172.0 274.5,170.5 276.2,182.0 279.7,190.0 285.4,196.0 289.1,210.0 293.2,225.0 297.5,240.0 299.5,250.0 301.6,262.0 302.8,272.0 303.1,278.0 193.9,278.0" fill="none" stroke="#ff0000" stroke-width="0.5" stroke-opacity="0.27" stroke-linejoin="miter" stroke-miterlimit="2"/>
<polyline points="160.5,22.7 252.9,28.4 252.8,33.0 261.3,33.0 261.2,33.0 261.2,60.0 261.4,90.0 263.4,115.0 270.0,160.0 272.2,172.0 274.0,184.3 279.9,190.3 285.4,196.3 288.2,210.0 291.7,225.0 296.0,240.0 298.0,250.0 300.1,262.0 301.3,272.0 301.5,275.2 197.1,275.2" fill="none" stroke="#ff0000" stroke-width="0.5" stroke-opacity="0.27" stroke-linejoin="miter" stroke-miterlimit="2"/>
<polyline points="163.6,23.1 253.1,26.2 252.2,33.0 261.1,33.0 261.0,33.0 261.0,60.0 261.2,90.0 263.2,115.0 269.8,160.0 272.0,172.0 274.5,170.5 276.2,180.7 279.7,187.4 285.2,193.4 288.4,210.0 292.1,225.0 296.4,240.0 298.4,250.0 300.5,262.0 301.7,272.0 301.8,273.3 198.7,273.3" fill="none" stroke="#ff0000" stroke-width="0.5" stroke-opacity="0.27" stroke-linejoin="miter" stroke-miterlimit="2"/>
<polyline points="164.4,23.1 252.3,27.4 251.8,33.0 261.1,33.0 260.5,33.0 260.5,60.0 260.7,90.0 262.7,115.0 269.3,160.0 271.5,172.0 274.0,170.5 275.7,180.4 279.2,186.8 284.7,192.8 287.7,210.0 291.4,225.0 295.7,240.0 297.7,250.0 299.8,262.0 301.0,272.0 301.2,275.9 193.4,275.9" fill="none" stroke="#ff0000" stroke-width="0.5" stroke-opacity="0.27" stroke-linejoin="miter" stroke-miterlimit="2"/>
<polyline points="159.5,21.8 247.2,28.4 246.2,33.0 261.5,33.0 261.0,33.0 261.0,60.0 261.2,90.0 263.2,115.0 269.8,160.0 272.0,172.0 273.8,184.0 279.7,190.0 285.4,196.0 289.1,210.0 293.2,225.0 297.5,240.0 299.5,250.0 301.6,262.0 302.8,272.0 303.0,275.9 189.9,275.9" fill="none" stroke="#ff0000" stroke-width="0.5" stroke-opacity="0.27" stroke-linejoin="miter" stroke-miterlimit="2"/>
<polyline points="157.9,23.8 251.2,26.0 250.4,33.0 261.1,33.0 261.4,33.0 261.4,60.0 261.6,90.0 263.6,115.0 270.2,160.0 272.4,172.0 274.2,183.6 280.1,189.6 285.5,195.6 287.7,210.0 291.1,225.0 295.4,240.0 297.4,250.0 299.5,262.0 300.7,272.0 300.7,273.3 196.7,273.3" fill="none" stroke="#ff0000" stroke-width="0.5" stroke-opacity="0.27" stroke-linejoin="miter" stroke-miterlimit="2"/>
<polyline points="165.6,23.8 251.6,26.2 251.3,33.0 261.4,33.0 260.3,33.0 260.3,60.0 260.5,90.0 262.5,115.0 269.1,160.0 271.3,172.0 273.1,185.2 279.0,191.2 284.7,197.2 288.5,210.0 292.5,225.0 296.8,240.0 298.8,250.0 300.9,262.0 302.1,272.0 302.2,273.3 195.3,273.3" fill="none" stroke="#ff0000" stroke-width="0.5" stroke-opacity="0.27" stroke-linejoin="miter" stroke-miterlimit="2"/>
<polyline points="164.6,23.4 252.5,27.0 253.3,33.0 261.1,33.0 260.4,33.0 260.4,60.0 260.6,90.0 262.6,115.0 269.2,160.0 271.4,172.0 273.2,180.8 279.1,186.8 284.5,192.8 287.2,210.0 290.8,225.0 295.1,240.0 297.1,250.0 299.2,262.0 300.4,272.0 300.6,274.7 189.9,274.7" fill="none" stroke="#ff0000" stroke-width="0.5" stroke-opacity="0.27" stroke-linejoin="miter" stroke-miterlimit="2"/>
<polyline points="162.0,23.2 249.8,29.4 249.2,33.0 261.0,33.0 260.4,33.0 260.4,60.0 260.6,90.0 262.6,115.0 269.2,160.0 271.4,172.0 273.2,181.7 279.1,187.7 284.7,193.7 287.8,210.0 291.5,225.0 295.8,240.0 297.8,250.0 299.9,262.0 301.1,272.0 301.4,276.4 192.8,276.4" fill="none" stroke="#ff0000" stroke-width="0.5" stroke-opacity="0.27" stroke-linejoin="miter" stroke-miterlimit="2"/>
<polyline points="164.0,24.1 249.4,27.0 249.9,33.0 261.6,33.0 261.1,33.0 261.1,60.0 261.3,90.0 263.3,115.0 269.9,160.0 272.1,172.0 273.9,183.7 279.8,189.7 285.3,195.7 288.2,210.0 291.8,225.0 296.1,240.0 298.1,250.0 300.2,262.0 301.4,272.0 301.7,278.0 199.1,278.0" fill="none" stroke="#ff0000" stroke-width="0.5" stroke-opacity="0.27" stroke-linejoin="miter" stroke-miterlimit="2"/>
<polyline points="160.9,22.2 249.6,28.5 250.5,33.0 261.8,33.0 260.1,33.0 260.1,60.0 260.3,90.0 262.3,115.0 268.9,160.0 271.1,172.0 273.6,170.5 275.3,179.2 278.8,184.3 284.3,190.3 287.2,210.0 290.8,225.0 295.1,240.0 297.1,250.0 299.2,262.0 300.4,272.0 300.5,273.3 191.7,273.3" fill="none" stroke="#ff0000" stroke-width="0.5" stroke-opacity="0.27" stroke-linejoin="miter" stroke-miterlimit="2"/>
<polyline points="161.7,22.4 247.3,26.5 246.6,33.0 261.5,33.0 261.0,33.0 261.0,60.0 261.2,90.0 263.2,115.0 269.8,160.0 272.0,172.0 273.8,180.2 279.7,186.2 285.3,192.2 288.8,210.0 292.7,225.0 297.0,240.0 299.0,250.0 301.1,262.0 302.3,272.0 302.5,276.4 189.1,276.4" fill="none" stroke="#ff0000" stroke-width="0.5" stroke-opacity="0.27" stroke-linejoin="miter" stroke-miterlimit="2"/>
<polyline points="158.3,23.1 251.7,26.8 251.0,33.0 261.7,33.0 261.3,33.0 261.3,60.0 261.5,90.0 263.5,115.0 270.1,160.0 272.3,172.0 274.1,184.4 280.0,190.4 285.5,196.4 288.2,210.0 291.8,225.0 296.1,240.0 298.1,250.0 300.2,262.0 301.4,272.0 301.7,277.1 190.6,277.1" fill="none" stroke="#ff0000" stroke-width="0.5" stroke-opacity="0.27" stroke-linejoin="miter" stroke-miterlimit="2"/>
<polyline points="158.6,24.0 248.3,29.5 247.4,33.0 261.5,33.0 260.8,33.0 260.8,60.0 261.0,90.0 263.0,115.0 269.6,160.0 271.8,172.0 274.3,170.5 276.0,181.2 279.5,188.4 285.1,194.4 288.3,210.0 292.1,225.0 296.4,240.0 298.4,250.0 300.5,262.0 301.7,272.0 301.8,274.7 192.1,274.7" fill="none" stroke="#ff0000" stroke-width="0.5" stroke-opacity="0.27" stroke-linejoin="miter" stroke-miterlimit="2"/>
<polyline points="161.8,22.3 248.2,28.3 248.4,33.0 261.5,33.0 261.0,33.0 261.0,60.0 261.2,90.0 263.2,115.0 269.8,160.0 272.0,172.0 273.8,183.8 279.7,189.8 285.3,195.8 288.3,210.0 292.0,225.0 296.3,240.0 298.3,250.0 300.4,262.0 301.6,272.0 301.8,274.3 191.1,274.3" fill="none" stroke="#ff0000" stroke-width="0.5" stroke-opacity="0.27" stroke-linejoin="miter" stroke-miterlimit="2"/>
<polyline points="157.8,22.9 250.2,28.3 250.2,33.0 260.9,33.0 261.0,33.0 261.0,60.0 261.2,90.0 263.2,115.0 269.8,160.0 272.0,172.0 273.8,186.3 279.7,192.3 285.3,198.3 288.4,210.0 292.2,225.0 296.5,240.0 298.5,250.0 300.6,262.0 301.8,272.0 301.9,273.7 196.5,273.7" fill="none" stroke="#ff0000" stroke-width="0.5" stroke-opacity="0.27" stroke-linejoin="miter" stroke-miterlimit="2"/>
<polyline points="158.6,22.3 251.6,26.1 250.6,33.0 261.4,33.0 261.5,33.0 261.5,60.0 261.7,90.0 263.7,115.0 270.3,160.0 272.5,172.0 275.0,170.5 276.7,182.6 280.2,191.2 285.5,197.2 287.8,210.0 291.1,225.0 295.4,240.0 297.4,250.0 299.5,262.0 300.7,272.0 301.0,277.5 196.4,277.5" fill="none" stroke="#ff0000" stroke-width="0.5" stroke-opacity="0.27" stroke-linejoin="miter" stroke-miterlimit="2"/>
<polyline points="164.5,22.7 250.2,27.6 251.1,33.0 261.6,33.0 261.1,33.0 261.1,60.0 261.3,90.0 263.3,115.0 269.9,160.0 272.1,172.0 274.6,170.5 276.3,181.5 279.8,189.0 285.2,195.0 287.6,210.0 291.1,225.0 295.4,240.0 297.4,250.0 299.5,262.0 300.7,272.0 300.9,275.5 192.6,275.5" fill="none" stroke="#ff0000" stroke-width="0.5" stroke-opacity="0.27" stroke-linejoin="miter" stroke-miterlimit="2"/>
<polyline points="158.9,23.7 253.8,26.1 254.6,33.0 261.4,33.0 261.1,33.0 261.1,60.0 261.3,90.0 263.3,115.0 269.9,160.0 272.1,172.0 273.9,185.3 279.8,191.3 285.3,197.3 288.5,210.0 292.3,225.0 296.6,240.0 298.6,250.0 300.7,262.0 301.9,272.0 302.2,276.7 198.3,276.7" fill="none" stroke="#ff0000" stroke-width="0.5" stroke-opacity="0.27" stroke-linejoin="miter" stroke-miterlimit="2"/>
<polyline points="193.8,277.5 203.3,328.6" fill="none" stroke="#ff0000" stroke-width="0.6" stroke-opacity="0.5" stroke-linejoin="miter" stroke-miterlimit="2"/>
<polyline points="191.9,276.7 200.0,328.6" fill="none" stroke="#ff0000" stroke-width="0.6" stroke-opacity="0.5" stroke-linejoin="miter" stroke-miterlimit="2"/>
<polyline points="193.2,271.5 202.6,328.6" fill="none" stroke="#ff0000" stroke-width="0.6" stroke-opacity="0.5" stroke-linejoin="miter" stroke-miterlimit="2"/>
<polyline points="197.7,277.1 205.9,328.6" fill="none" stroke="#ff0000" stroke-width="0.6" stroke-opacity="0.5" stroke-linejoin="miter" stroke-miterlimit="2"/>
<polyline points="194.4,275.5 202.9,328.6" fill="none" stroke="#ff0000" stroke-width="0.6" stroke-opacity="0.5" stroke-linejoin="miter" stroke-miterlimit="2"/>
<polyline points="190.9,278.0 199.6,328.6" fill="none" stroke="#ff0000" stroke-width="0.6" stroke-opacity="0.5" stroke-linejoin="miter" stroke-miterlimit="2"/>
<polyline points="198.2,277.5 206.0,328.6" fill="none" stroke="#ff0000" stroke-width="0.6" stroke-opacity="0.5" stroke-linejoin="miter" stroke-miterlimit="2"/>
<polyline points="192.4,279.0 200.8,328.6" fill="none" stroke="#ff0000" stroke-width="0.6" stroke-opacity="0.5" stroke-linejoin="miter" stroke-miterlimit="2"/>
<polyline points="198.9,275.9 206.6,328.6" fill="none" stroke="#ff0000" stroke-width="0.6" stroke-opacity="0.5" stroke-linejoin="miter" stroke-miterlimit="2"/>
<polyline points="196.6,281.0 205.3,328.6" fill="none" stroke="#ff0000" stroke-width="0.6" stroke-opacity="0.5" stroke-linejoin="miter" stroke-miterlimit="2"/>
<polyline points="189.6,276.4 199.1,328.6" fill="none" stroke="#ff0000" stroke-width="0.6" stroke-opacity="0.5" stroke-linejoin="miter" stroke-miterlimit="2"/>
<polyline points="192.6,274.3 201.6,328.6" fill="none" stroke="#ff0000" stroke-width="0.6" stroke-opacity="0.5" stroke-linejoin="miter" stroke-miterlimit="2"/>
<polyline points="196.8,278.5 204.8,328.6" fill="none" stroke="#ff0000" stroke-width="0.6" stroke-opacity="0.5" stroke-linejoin="miter" stroke-miterlimit="2"/>
<polyline points="189.9,278.0 199.6,328.6" fill="none" stroke="#ff0000" stroke-width="0.6" stroke-opacity="0.5" stroke-linejoin="miter" stroke-miterlimit="2"/>
<polyline points="197.8,277.1 205.9,328.6" fill="none" stroke="#ff0000" stroke-width="0.6" stroke-opacity="0.5" stroke-linejoin="miter" stroke-miterlimit="2"/>
<polyline points="196.7,271.5 204.8,328.6" fill="none" stroke="#ff0000" stroke-width="0.6" stroke-opacity="0.5" stroke-linejoin="miter" stroke-miterlimit="2"/>
<polyline points="190.2,279.3 200.2,328.6" fill="none" stroke="#ff0000" stroke-width="0.6" stroke-opacity="0.5" stroke-linejoin="miter" stroke-miterlimit="2"/>
<polyline points="193.7,275.5 202.4,328.6" fill="none" stroke="#ff0000" stroke-width="0.6" stroke-opacity="0.5" stroke-linejoin="miter" stroke-miterlimit="2"/>
<polyline points="191.8,274.3 200.5,328.6" fill="none" stroke="#ff0000" stroke-width="0.6" stroke-opacity="0.5" stroke-linejoin="miter" stroke-miterlimit="2"/>
<polyline points="194.9,279.3 203.0,328.6" fill="none" stroke="#ff0000" stroke-width="0.6" stroke-opacity="0.5" stroke-linejoin="miter" stroke-miterlimit="2"/>
<polyline points="191.9,275.5 201.3,328.6" fill="none" stroke="#ff0000" stroke-width="0.6" stroke-opacity="0.5" stroke-linejoin="miter" stroke-miterlimit="2"/>
<polyline points="194.5,275.5 203.2,328.6" fill="none" stroke="#ff0000" stroke-width="0.6" stroke-opacity="0.5" stroke-linejoin="miter" stroke-miterlimit="2"/>
<polyline points="193.8,276.4 203.3,328.6" fill="none" stroke="#ff0000" stroke-width="0.6" stroke-opacity="0.5" stroke-linejoin="miter" stroke-miterlimit="2"/>
<polyline points="197.6,276.4 205.3,328.6" fill="none" stroke="#ff0000" stroke-width="0.6" stroke-opacity="0.5" stroke-linejoin="miter" stroke-miterlimit="2"/>
<polyline points="198.8,277.5 206.4,328.6" fill="none" stroke="#ff0000" stroke-width="0.6" stroke-opacity="0.5" stroke-linejoin="miter" stroke-miterlimit="2"/>
<polyline points="197.1,275.5 205.5,328.6" fill="none" stroke="#ff0000" stroke-width="0.6" stroke-opacity="0.5" stroke-linejoin="miter" stroke-miterlimit="2"/>
<polyline points="191.6,276.4 200.2,328.6" fill="none" stroke="#ff0000" stroke-width="0.6" stroke-opacity="0.5" stroke-linejoin="miter" stroke-miterlimit="2"/>
<polyline points="196.5,276.4 204.9,328.6" fill="none" stroke="#ff0000" stroke-width="0.6" stroke-opacity="0.5" stroke-linejoin="miter" stroke-miterlimit="2"/>
<polyline points="195.9,276.4 204.3,328.6" fill="none" stroke="#ff0000" stroke-width="0.6" stroke-opacity="0.5" stroke-linejoin="miter" stroke-miterlimit="2"/>
<polyline points="195.8,276.7 204.9,328.6" fill="none" stroke="#ff0000" stroke-width="0.6" stroke-opacity="0.5" stroke-linejoin="miter" stroke-miterlimit="2"/>
<polyline points="199.5,275.5 206.5,328.6" fill="none" stroke="#ff0000" stroke-width="0.6" stroke-opacity="0.5" stroke-linejoin="miter" stroke-miterlimit="2"/>
<polyline points="191.1,279.0 199.0,328.6" fill="none" stroke="#ff0000" stroke-width="0.6" stroke-opacity="0.5" stroke-linejoin="miter" stroke-miterlimit="2"/>
<polyline points="194.9,278.0 203.4,328.6" fill="none" stroke="#ff0000" stroke-width="0.6" stroke-opacity="0.5" stroke-linejoin="miter" stroke-miterlimit="2"/>
<polyline points="194.4,275.5 203.2,328.6" fill="none" stroke="#ff0000" stroke-width="0.6" stroke-opacity="0.5" stroke-linejoin="miter" stroke-miterlimit="2"/>
<polyline points="190.7,274.3 200.4,328.6" fill="none" stroke="#ff0000" stroke-width="0.6" stroke-opacity="0.5" stroke-linejoin="miter" stroke-miterlimit="2"/>
<polyline points="195.6,278.0 205.1,328.6" fill="none" stroke="#ff0000" stroke-width="0.6" stroke-opacity="0.5" stroke-linejoin="miter" stroke-miterlimit="2"/>
<polyline points="191.4,277.1 200.6,328.6" fill="none" stroke="#ff0000" stroke-width="0.6" stroke-opacity="0.5" stroke-linejoin="miter" stroke-miterlimit="2"/>
<polyline points="198.8,281.0 206.0,328.6" fill="none" stroke="#ff0000" stroke-width="0.6" stroke-opacity="0.5" stroke-linejoin="miter" stroke-miterlimit="2"/>
<polyline points="197.9,275.9 205.6,328.6" fill="none" stroke="#ff0000" stroke-width="0.6" stroke-opacity="0.5" stroke-linejoin="miter" stroke-miterlimit="2"/>
<polyline points="196.8,277.1 203.4,328.6" fill="none" stroke="#ff0000" stroke-width="0.6" stroke-opacity="0.5" stroke-linejoin="miter" stroke-miterlimit="2"/>
<polyline points="190.5,277.1 200.2,328.6" fill="none" stroke="#ff0000" stroke-width="0.6" stroke-opacity="0.5" stroke-linejoin="miter" stroke-miterlimit="2"/>
<polyline points="197.0,277.1 205.1,328.6" fill="none" stroke="#ff0000" stroke-width="0.6" stroke-opacity="0.5" stroke-linejoin="miter" stroke-miterlimit="2"/>
<polyline points="191.1,278.5 200.7,328.6" fill="none" stroke="#ff0000" stroke-width="0.6" stroke-opacity="0.5" stroke-linejoin="miter" stroke-miterlimit="2"/>
<polyline points="198.3,277.1 205.8,328.6" fill="none" stroke="#ff0000" stroke-width="0.6" stroke-opacity="0.5" stroke-linejoin="miter" stroke-miterlimit="2"/>
<polyline points="191.5,276.7 200.9,328.6" fill="none" stroke="#ff0000" stroke-width="0.6" stroke-opacity="0.5" stroke-linejoin="miter" stroke-miterlimit="2"/>
<polyline points="193.2,275.2 202.1,328.6" fill="none" stroke="#ff0000" stroke-width="0.6" stroke-opacity="0.5" stroke-linejoin="miter" stroke-miterlimit="2"/>
<polyline points="193.4,273.7 202.3,328.6" fill="none" stroke="#ff0000" stroke-width="0.6" stroke-opacity="0.5" stroke-linejoin="miter" stroke-miterlimit="2"/>
<polyline points="197.7,276.4 205.4,328.6" fill="none" stroke="#ff0000" stroke-width="0.6" stroke-opacity="0.5" stroke-linejoin="miter" stroke-miterlimit="2"/>
<polyline points="191.2,278.0 201.3,328.6" fill="none" stroke="#ff0000" stroke-width="0.6" stroke-opacity="0.5" stroke-linejoin="miter" stroke-miterlimit="2"/>
<polyline points="192.2,278.0 201.7,328.6" fill="none" stroke="#ff0000" stroke-width="0.6" stroke-opacity="0.5" stroke-linejoin="miter" stroke-miterlimit="2"/>
<polyline points="197.3,276.4 205.8,328.6" fill="none" stroke="#ff0000" stroke-width="0.6" stroke-opacity="0.5" stroke-linejoin="miter" stroke-miterlimit="2"/>
<polyline points="193.9,278.0 202.7,328.6" fill="none" stroke="#ff0000" stroke-width="0.6" stroke-opacity="0.5" stroke-linejoin="miter" stroke-miterlimit="2"/>
<polyline points="197.1,275.2 205.1,328.6" fill="none" stroke="#ff0000" stroke-width="0.6" stroke-opacity="0.5" stroke-linejoin="miter" stroke-miterlimit="2"/>
<polyline points="198.7,273.3 206.2,328.6" fill="none" stroke="#ff0000" stroke-width="0.6" stroke-opacity="0.5" stroke-linejoin="miter" stroke-miterlimit="2"/>
<polyline points="193.4,275.9 201.9,328.6" fill="none" stroke="#ff0000" stroke-width="0.6" stroke-opacity="0.5" stroke-linejoin="miter" stroke-miterlimit="2"/>
<polyline points="189.9,275.9 200.6,328.6" fill="none" stroke="#ff0000" stroke-width="0.6" stroke-opacity="0.5" stroke-linejoin="miter" stroke-miterlimit="2"/>
<polyline points="196.7,273.3 205.2,328.6" fill="none" stroke="#ff0000" stroke-width="0.6" stroke-opacity="0.5" stroke-linejoin="miter" stroke-miterlimit="2"/>
<polyline points="195.3,273.3 203.4,328.6" fill="none" stroke="#ff0000" stroke-width="0.6" stroke-opacity="0.5" stroke-linejoin="miter" stroke-miterlimit="2"/>
<polyline points="189.9,274.7 198.5,328.6" fill="none" stroke="#ff0000" stroke-width="0.6" stroke-opacity="0.5" stroke-linejoin="miter" stroke-miterlimit="2"/>
<polyline points="192.8,276.4 202.6,328.6" fill="none" stroke="#ff0000" stroke-width="0.6" stroke-opacity="0.5" stroke-linejoin="miter" stroke-miterlimit="2"/>
<polyline points="199.1,278.0 206.6,328.6" fill="none" stroke="#ff0000" stroke-width="0.6" stroke-opacity="0.5" stroke-linejoin="miter" stroke-miterlimit="2"/>
<polyline points="191.7,273.3 201.0,328.6" fill="none" stroke="#ff0000" stroke-width="0.6" stroke-opacity="0.5" stroke-linejoin="miter" stroke-miterlimit="2"/>
<polyline points="189.1,276.4 198.9,328.6" fill="none" stroke="#ff0000" stroke-width="0.6" stroke-opacity="0.5" stroke-linejoin="miter" stroke-miterlimit="2"/>
<polyline points="190.6,277.1 200.7,328.6" fill="none" stroke="#ff0000" stroke-width="0.6" stroke-opacity="0.5" stroke-linejoin="miter" stroke-miterlimit="2"/>
<polyline points="192.1,274.7 201.2,328.6" fill="none" stroke="#ff0000" stroke-width="0.6" stroke-opacity="0.5" stroke-linejoin="miter" stroke-miterlimit="2"/>
<polyline points="191.1,274.3 199.7,328.6" fill="none" stroke="#ff0000" stroke-width="0.6" stroke-opacity="0.5" stroke-linejoin="miter" stroke-miterlimit="2"/>
<polyline points="196.5,273.7 205.0,328.6" fill="none" stroke="#ff0000" stroke-width="0.6" stroke-opacity="0.5" stroke-linejoin="miter" stroke-miterlimit="2"/>
<polyline points="196.4,277.5 204.2,328.6" fill="none" stroke="#ff0000" stroke-width="0.6" stroke-opacity="0.5" stroke-linejoin="miter" stroke-miterlimit="2"/>
<polyline points="192.6,275.5 201.6,328.6" fill="none" stroke="#ff0000" stroke-width="0.6" stroke-opacity="0.5" stroke-linejoin="miter" stroke-miterlimit="2"/>
<polyline points="198.3,276.7 204.8,328.6" fill="none" stroke="#ff0000" stroke-width="0.6" stroke-opacity="0.5" stroke-linejoin="miter" stroke-miterlimit="2"/>
</g><g clip-path="url(#clipC)">
<polyline points="80.6,442.5 192.8,442.5" fill="none" stroke="#0000ff" stroke-width="1.0" stroke-opacity="0.26" stroke-linejoin="miter" stroke-miterlimit="2"/>
<polyline points="80.6,440.5 195.4,440.5" fill="none" stroke="#0000ff" stroke-width="1.0" stroke-opacity="0.26" stroke-linejoin="miter" stroke-miterlimit="2"/>
<polyline points="80.6,423.5 194.7,423.5" fill="none" stroke="#0000ff" stroke-width="1.0" stroke-opacity="0.26" stroke-linejoin="miter" stroke-miterlimit="2"/>
<polyline points="80.6,441.5 195.0,441.5" fill="none" stroke="#0000ff" stroke-width="1.0" stroke-opacity="0.26" stroke-linejoin="miter" stroke-miterlimit="2"/>
<polyline points="80.6,436.5 193.8,436.5" fill="none" stroke="#0000ff" stroke-width="1.0" stroke-opacity="0.26" stroke-linejoin="miter" stroke-miterlimit="2"/>
<polyline points="80.6,444.5 195.4,444.5" fill="none" stroke="#0000ff" stroke-width="1.0" stroke-opacity="0.26" stroke-linejoin="miter" stroke-miterlimit="2"/>
<polyline points="80.6,442.5 194.6,442.5" fill="none" stroke="#0000ff" stroke-width="1.0" stroke-opacity="0.26" stroke-linejoin="miter" stroke-miterlimit="2"/>
<polyline points="80.6,447.5 194.5,447.5" fill="none" stroke="#0000ff" stroke-width="1.0" stroke-opacity="0.26" stroke-linejoin="miter" stroke-miterlimit="2"/>
<polyline points="80.6,437.5 195.5,437.5" fill="none" stroke="#0000ff" stroke-width="1.0" stroke-opacity="0.26" stroke-linejoin="miter" stroke-miterlimit="2"/>
<polyline points="80.6,454.5 195.6,454.5" fill="none" stroke="#0000ff" stroke-width="1.0" stroke-opacity="0.26" stroke-linejoin="miter" stroke-miterlimit="2"/>
<polyline points="80.6,439.5 193.7,439.5" fill="none" stroke="#0000ff" stroke-width="1.0" stroke-opacity="0.26" stroke-linejoin="miter" stroke-miterlimit="2"/>
<polyline points="80.6,432.5 193.5,432.5" fill="none" stroke="#0000ff" stroke-width="1.0" stroke-opacity="0.26" stroke-linejoin="miter" stroke-miterlimit="2"/>
<polyline points="80.6,446.5 193.3,446.5" fill="none" stroke="#0000ff" stroke-width="1.0" stroke-opacity="0.26" stroke-linejoin="miter" stroke-miterlimit="2"/>
<polyline points="80.6,444.5 195.5,444.5" fill="none" stroke="#0000ff" stroke-width="1.0" stroke-opacity="0.26" stroke-linejoin="miter" stroke-miterlimit="2"/>
<polyline points="80.6,441.5 193.8,441.5" fill="none" stroke="#0000ff" stroke-width="1.0" stroke-opacity="0.26" stroke-linejoin="miter" stroke-miterlimit="2"/>
<polyline points="80.6,423.5 192.7,423.5" fill="none" stroke="#0000ff" stroke-width="1.0" stroke-opacity="0.26" stroke-linejoin="miter" stroke-miterlimit="2"/>
<polyline points="80.6,448.5 193.1,448.5" fill="none" stroke="#0000ff" stroke-width="1.0" stroke-opacity="0.26" stroke-linejoin="miter" stroke-miterlimit="2"/>
<polyline points="80.6,436.5 194.3,436.5" fill="none" stroke="#0000ff" stroke-width="1.0" stroke-opacity="0.26" stroke-linejoin="miter" stroke-miterlimit="2"/>
<polyline points="80.6,432.5 194.3,432.5" fill="none" stroke="#0000ff" stroke-width="1.0" stroke-opacity="0.26" stroke-linejoin="miter" stroke-miterlimit="2"/>
<polyline points="80.6,448.5 193.9,448.5" fill="none" stroke="#0000ff" stroke-width="1.0" stroke-opacity="0.26" stroke-linejoin="miter" stroke-miterlimit="2"/>
<polyline points="80.6,436.5 195.4,436.5" fill="none" stroke="#0000ff" stroke-width="1.0" stroke-opacity="0.26" stroke-linejoin="miter" stroke-miterlimit="2"/>
<polyline points="80.6,436.5 193.8,436.5" fill="none" stroke="#0000ff" stroke-width="1.0" stroke-opacity="0.26" stroke-linejoin="miter" stroke-miterlimit="2"/>
<polyline points="80.6,439.5 194.0,439.5" fill="none" stroke="#0000ff" stroke-width="1.0" stroke-opacity="0.26" stroke-linejoin="miter" stroke-miterlimit="2"/>
<polyline points="80.6,439.5 192.2,439.5" fill="none" stroke="#0000ff" stroke-width="1.0" stroke-opacity="0.26" stroke-linejoin="miter" stroke-miterlimit="2"/>
<polyline points="80.6,442.5 192.3,442.5" fill="none" stroke="#0000ff" stroke-width="1.0" stroke-opacity="0.26" stroke-linejoin="miter" stroke-miterlimit="2"/>
<polyline points="80.6,436.5 193.7,436.5" fill="none" stroke="#0000ff" stroke-width="1.0" stroke-opacity="0.26" stroke-linejoin="miter" stroke-miterlimit="2"/>
<polyline points="80.6,439.5 196.1,439.5" fill="none" stroke="#0000ff" stroke-width="1.0" stroke-opacity="0.26" stroke-linejoin="miter" stroke-miterlimit="2"/>
<polyline points="80.6,439.5 193.5,439.5" fill="none" stroke="#0000ff" stroke-width="1.0" stroke-opacity="0.26" stroke-linejoin="miter" stroke-miterlimit="2"/>
<polyline points="80.6,439.5 192.8,439.5" fill="none" stroke="#0000ff" stroke-width="1.0" stroke-opacity="0.26" stroke-linejoin="miter" stroke-miterlimit="2"/>
<polyline points="80.6,440.5 196.5,440.5" fill="none" stroke="#0000ff" stroke-width="1.0" stroke-opacity="0.26" stroke-linejoin="miter" stroke-miterlimit="2"/>
<polyline points="80.6,436.5 194.8,436.5" fill="none" stroke="#0000ff" stroke-width="1.0" stroke-opacity="0.26" stroke-linejoin="miter" stroke-miterlimit="2"/>
<polyline points="80.6,447.5 196.0,447.5" fill="none" stroke="#0000ff" stroke-width="1.0" stroke-opacity="0.26" stroke-linejoin="miter" stroke-miterlimit="2"/>
<polyline points="80.6,444.5 193.5,444.5" fill="none" stroke="#0000ff" stroke-width="1.0" stroke-opacity="0.26" stroke-linejoin="miter" stroke-miterlimit="2"/>
<polyline points="80.6,436.5 192.9,436.5" fill="none" stroke="#0000ff" stroke-width="1.0" stroke-opacity="0.26" stroke-linejoin="miter" stroke-miterlimit="2"/>
<polyline points="80.6,432.5 194.0,432.5" fill="none" stroke="#0000ff" stroke-width="1.0" stroke-opacity="0.26" stroke-linejoin="miter" stroke-miterlimit="2"/>
<polyline points="80.6,444.5 195.5,444.5" fill="none" stroke="#0000ff" stroke-width="1.0" stroke-opacity="0.26" stroke-linejoin="miter" stroke-miterlimit="2"/>
<polyline points="80.6,441.5 193.2,441.5" fill="none" stroke="#0000ff" stroke-width="1.0" stroke-opacity="0.26" stroke-linejoin="miter" stroke-miterlimit="2"/>
<polyline points="80.6,454.5 195.8,454.5" fill="none" stroke="#0000ff" stroke-width="1.0" stroke-opacity="0.26" stroke-linejoin="miter" stroke-miterlimit="2"/>
<polyline points="80.6,437.5 195.8,437.5" fill="none" stroke="#0000ff" stroke-width="1.0" stroke-opacity="0.26" stroke-linejoin="miter" stroke-miterlimit="2"/>
<polyline points="80.6,441.5 194.7,441.5" fill="none" stroke="#0000ff" stroke-width="1.0" stroke-opacity="0.26" stroke-linejoin="miter" stroke-miterlimit="2"/>
<polyline points="80.6,441.5 193.9,441.5" fill="none" stroke="#0000ff" stroke-width="1.0" stroke-opacity="0.26" stroke-linejoin="miter" stroke-miterlimit="2"/>
<polyline points="80.6,441.5 193.0,441.5" fill="none" stroke="#0000ff" stroke-width="1.0" stroke-opacity="0.26" stroke-linejoin="miter" stroke-miterlimit="2"/>
<polyline points="80.6,446.5 194.8,446.5" fill="none" stroke="#0000ff" stroke-width="1.0" stroke-opacity="0.26" stroke-linejoin="miter" stroke-miterlimit="2"/>
<polyline points="80.6,441.5 195.9,441.5" fill="none" stroke="#0000ff" stroke-width="1.0" stroke-opacity="0.26" stroke-linejoin="miter" stroke-miterlimit="2"/>
<polyline points="80.6,440.5 194.5,440.5" fill="none" stroke="#0000ff" stroke-width="1.0" stroke-opacity="0.26" stroke-linejoin="miter" stroke-miterlimit="2"/>
<polyline points="80.6,435.5 193.5,435.5" fill="none" stroke="#0000ff" stroke-width="1.0" stroke-opacity="0.26" stroke-linejoin="miter" stroke-miterlimit="2"/>
<polyline points="80.6,430.5 195.4,430.5" fill="none" stroke="#0000ff" stroke-width="1.0" stroke-opacity="0.26" stroke-linejoin="miter" stroke-miterlimit="2"/>
<polyline points="80.6,439.5 195.7,439.5" fill="none" stroke="#0000ff" stroke-width="1.0" stroke-opacity="0.26" stroke-linejoin="miter" stroke-miterlimit="2"/>
<polyline points="80.6,444.5 193.6,444.5" fill="none" stroke="#0000ff" stroke-width="1.0" stroke-opacity="0.26" stroke-linejoin="miter" stroke-miterlimit="2"/>
<polyline points="80.6,444.5 194.0,444.5" fill="none" stroke="#0000ff" stroke-width="1.0" stroke-opacity="0.26" stroke-linejoin="miter" stroke-miterlimit="2"/>
<polyline points="80.6,439.5 195.3,439.5" fill="none" stroke="#0000ff" stroke-width="1.0" stroke-opacity="0.26" stroke-linejoin="miter" stroke-miterlimit="2"/>
<polyline points="80.6,444.5 192.8,444.5" fill="none" stroke="#0000ff" stroke-width="1.0" stroke-opacity="0.26" stroke-linejoin="miter" stroke-miterlimit="2"/>
<polyline points="80.6,435.5 196.6,435.5" fill="none" stroke="#0000ff" stroke-width="1.0" stroke-opacity="0.26" stroke-linejoin="miter" stroke-miterlimit="2"/>
<polyline points="80.6,429.5 195.9,429.5" fill="none" stroke="#0000ff" stroke-width="1.0" stroke-opacity="0.26" stroke-linejoin="miter" stroke-miterlimit="2"/>
<polyline points="80.6,437.5 195.3,437.5" fill="none" stroke="#0000ff" stroke-width="1.0" stroke-opacity="0.26" stroke-linejoin="miter" stroke-miterlimit="2"/>
<polyline points="80.6,437.5 194.2,437.5" fill="none" stroke="#0000ff" stroke-width="1.0" stroke-opacity="0.26" stroke-linejoin="miter" stroke-miterlimit="2"/>
<polyline points="80.6,429.5 194.7,429.5" fill="none" stroke="#0000ff" stroke-width="1.0" stroke-opacity="0.26" stroke-linejoin="miter" stroke-miterlimit="2"/>
<polyline points="80.6,429.5 196.7,429.5" fill="none" stroke="#0000ff" stroke-width="1.0" stroke-opacity="0.26" stroke-linejoin="miter" stroke-miterlimit="2"/>
<polyline points="80.6,433.5 195.9,433.5" fill="none" stroke="#0000ff" stroke-width="1.0" stroke-opacity="0.26" stroke-linejoin="miter" stroke-miterlimit="2"/>
<polyline points="80.6,439.5 192.9,439.5" fill="none" stroke="#0000ff" stroke-width="1.0" stroke-opacity="0.26" stroke-linejoin="miter" stroke-miterlimit="2"/>
<polyline points="80.6,444.5 195.8,444.5" fill="none" stroke="#0000ff" stroke-width="1.0" stroke-opacity="0.26" stroke-linejoin="miter" stroke-miterlimit="2"/>
<polyline points="80.6,429.5 195.8,429.5" fill="none" stroke="#0000ff" stroke-width="1.0" stroke-opacity="0.26" stroke-linejoin="miter" stroke-miterlimit="2"/>
<polyline points="80.6,439.5 193.0,439.5" fill="none" stroke="#0000ff" stroke-width="1.0" stroke-opacity="0.26" stroke-linejoin="miter" stroke-miterlimit="2"/>
<polyline points="80.6,441.5 195.6,441.5" fill="none" stroke="#0000ff" stroke-width="1.0" stroke-opacity="0.26" stroke-linejoin="miter" stroke-miterlimit="2"/>
<polyline points="80.6,433.5 194.9,433.5" fill="none" stroke="#0000ff" stroke-width="1.0" stroke-opacity="0.26" stroke-linejoin="miter" stroke-miterlimit="2"/>
<polyline points="80.6,432.5 194.6,432.5" fill="none" stroke="#0000ff" stroke-width="1.0" stroke-opacity="0.26" stroke-linejoin="miter" stroke-miterlimit="2"/>
<polyline points="80.6,430.5 193.6,430.5" fill="none" stroke="#0000ff" stroke-width="1.0" stroke-opacity="0.26" stroke-linejoin="miter" stroke-miterlimit="2"/>
<polyline points="80.6,442.5 194.0,442.5" fill="none" stroke="#0000ff" stroke-width="1.0" stroke-opacity="0.26" stroke-linejoin="miter" stroke-miterlimit="2"/>
<polyline points="80.6,436.5 195.2,436.5" fill="none" stroke="#0000ff" stroke-width="1.0" stroke-opacity="0.26" stroke-linejoin="miter" stroke-miterlimit="2"/>
<polyline points="80.6,440.5 193.1,440.5" fill="none" stroke="#0000ff" stroke-width="1.0" stroke-opacity="0.26" stroke-linejoin="miter" stroke-miterlimit="2"/>
<polyline points="194.3,394.6 193.5,398.6 192.8,402.6 192.6,406.6 192.9,410.6 193.5,414.7 194.0,418.7 194.0,422.7 193.5,426.7 192.8,430.7 192.3,434.8 192.3,438.8 192.8,442.5" fill="none" stroke="#0000ff" stroke-width="0.5" stroke-opacity="0.18" stroke-linejoin="miter" stroke-miterlimit="2"/>
<polyline points="195.7,394.6 196.6,398.4 197.1,402.2 196.6,406.0 195.7,409.8 195.1,413.6 195.4,417.4 196.3,421.2 196.7,425.1 196.1,428.9 195.2,432.7 194.8,436.5 195.4,440.5" fill="none" stroke="#0000ff" stroke-width="0.5" stroke-opacity="0.18" stroke-linejoin="miter" stroke-miterlimit="2"/>
<polyline points="195.3,394.6 195.7,397.0 196.1,399.3 196.2,401.7 196.1,404.1 195.8,406.5 195.3,408.9 194.8,411.3 194.4,413.7 194.1,416.1 194.1,418.5 194.3,420.9 194.7,423.5" fill="none" stroke="#0000ff" stroke-width="0.5" stroke-opacity="0.18" stroke-linejoin="miter" stroke-miterlimit="2"/>
<polyline points="194.8,394.6 195.6,398.5 195.3,402.4 194.2,406.3 193.6,410.2 194.3,414.1 195.1,418.0 195.0,421.9 194.0,425.9 193.3,429.8 193.9,433.7 194.9,437.6 195.0,441.5" fill="none" stroke="#0000ff" stroke-width="0.5" stroke-opacity="0.18" stroke-linejoin="miter" stroke-miterlimit="2"/>
<polyline points="194.1,394.6 193.8,398.0 193.9,401.5 194.3,405.0 194.8,408.5 195.2,412.0 195.2,415.5 194.9,419.0 194.2,422.5 193.6,425.9 193.3,429.4 193.4,432.9 193.8,436.5" fill="none" stroke="#0000ff" stroke-width="0.5" stroke-opacity="0.18" stroke-linejoin="miter" stroke-miterlimit="2"/>
<polyline points="196.4,394.6 197.2,398.7 197.5,402.8 197.1,407.0 196.2,411.1 195.5,415.3 195.7,419.4 196.4,423.6 197.1,427.7 197.0,431.9 196.2,436.0 195.4,440.2 195.4,444.5" fill="none" stroke="#0000ff" stroke-width="0.5" stroke-opacity="0.18" stroke-linejoin="miter" stroke-miterlimit="2"/>
<polyline points="195.1,394.6 195.6,398.6 195.0,402.6 193.9,406.6 193.8,410.6 194.7,414.7 195.3,418.7 194.7,422.7 193.6,426.7 193.5,430.7 194.4,434.8 195.1,438.8 194.6,442.5" fill="none" stroke="#0000ff" stroke-width="0.5" stroke-opacity="0.18" stroke-linejoin="miter" stroke-miterlimit="2"/>
<polyline points="195.8,394.6 196.3,399.0 195.1,403.4 194.3,407.8 195.2,412.2 196.0,416.7 195.0,421.1 194.0,425.5 194.8,429.9 195.8,434.3 195.1,438.8 194.0,443.2 194.5,447.5" fill="none" stroke="#0000ff" stroke-width="0.5" stroke-opacity="0.18" stroke-linejoin="miter" stroke-miterlimit="2"/>
<polyline points="194.5,394.6 194.2,398.2 194.5,401.7 195.2,405.3 195.7,408.9 195.7,412.5 195.1,416.1 194.2,419.7 193.8,423.3 193.9,426.9 194.6,430.5 195.3,434.1 195.5,437.5" fill="none" stroke="#0000ff" stroke-width="0.5" stroke-opacity="0.18" stroke-linejoin="miter" stroke-miterlimit="2"/>
<polyline points="197.5,394.6 196.4,399.5 195.9,404.5 196.5,409.4 197.4,414.4 197.3,419.4 196.2,424.3 195.5,429.3 195.9,434.3 196.9,439.2 197.2,444.2 196.5,449.1 195.6,454.5" fill="none" stroke="#0000ff" stroke-width="0.5" stroke-opacity="0.18" stroke-linejoin="miter" stroke-miterlimit="2"/>
<polyline points="196.0,394.6 195.6,398.3 195.0,402.0 194.3,405.7 193.9,409.4 194.0,413.2 194.5,416.9 195.0,420.6 195.4,424.3 195.3,428.0 194.9,431.8 194.2,435.5 193.7,439.5" fill="none" stroke="#0000ff" stroke-width="0.5" stroke-opacity="0.18" stroke-linejoin="miter" stroke-miterlimit="2"/>
<polyline points="195.0,394.6 195.3,397.7 194.7,400.9 193.8,404.0 193.3,407.2 193.5,410.4 194.3,413.5 194.8,416.7 194.7,419.9 193.9,423.0 193.2,426.2 193.0,429.3 193.5,432.5" fill="none" stroke="#0000ff" stroke-width="0.5" stroke-opacity="0.18" stroke-linejoin="miter" stroke-miterlimit="2"/>
<polyline points="194.6,394.6 195.3,398.9 195.5,403.1 195.1,407.4 194.2,411.7 193.6,416.0 193.5,420.3 194.1,424.6 194.8,428.9 195.1,433.2 194.7,437.5 193.9,441.8 193.3,446.5" fill="none" stroke="#0000ff" stroke-width="0.5" stroke-opacity="0.18" stroke-linejoin="miter" stroke-miterlimit="2"/>
<polyline points="196.2,394.6 196.3,398.7 197.1,402.8 197.7,407.0 197.3,411.1 196.3,415.3 195.7,419.4 196.0,423.6 196.9,427.7 197.4,431.9 196.9,436.0 195.9,440.2 195.5,444.5" fill="none" stroke="#0000ff" stroke-width="0.5" stroke-opacity="0.18" stroke-linejoin="miter" stroke-miterlimit="2"/>
<polyline points="192.8,394.6 192.9,398.5 193.4,402.4 193.9,406.3 194.3,410.2 194.2,414.1 193.6,418.0 192.9,421.9 192.4,425.9 192.3,429.8 192.6,433.7 193.2,437.6 193.8,441.5" fill="none" stroke="#0000ff" stroke-width="0.5" stroke-opacity="0.18" stroke-linejoin="miter" stroke-miterlimit="2"/>
<polyline points="192.9,394.6 192.7,397.0 192.6,399.3 192.8,401.7 193.1,404.1 193.5,406.5 193.8,408.9 194.1,411.3 194.1,413.7 193.9,416.1 193.6,418.5 193.1,420.9 192.7,423.5" fill="none" stroke="#0000ff" stroke-width="0.5" stroke-opacity="0.18" stroke-linejoin="miter" stroke-miterlimit="2"/>
<polyline points="193.0,394.6 192.9,399.1 193.5,403.6 194.2,408.1 194.3,412.6 193.7,417.2 192.8,421.7 192.3,426.2 192.7,430.7 193.5,435.2 194.0,439.8 193.8,444.3 193.1,448.5" fill="none" stroke="#0000ff" stroke-width="0.5" stroke-opacity="0.18" stroke-linejoin="miter" stroke-miterlimit="2"/>
<polyline points="193.4,394.6 193.1,398.0 193.3,401.5 193.9,405.0 194.5,408.5 194.6,412.0 194.2,415.5 193.4,419.0 192.8,422.5 192.6,425.9 193.1,429.4 193.8,432.9 194.3,436.5" fill="none" stroke="#0000ff" stroke-width="0.5" stroke-opacity="0.18" stroke-linejoin="miter" stroke-miterlimit="2"/>
<polyline points="194.0,394.6 194.6,397.7 195.3,400.9 195.6,404.0 195.3,407.2 194.5,410.4 193.8,413.5 193.6,416.7 194.0,419.9 194.7,423.0 195.2,426.2 195.0,429.3 194.3,432.5" fill="none" stroke="#0000ff" stroke-width="0.5" stroke-opacity="0.18" stroke-linejoin="miter" stroke-miterlimit="2"/>
<polyline points="193.8,394.6 192.8,399.1 193.2,403.6 194.2,408.1 194.0,412.6 192.8,417.2 192.4,421.7 193.5,426.2 194.0,430.7 193.1,435.2 192.2,439.8 192.8,444.3 193.9,448.5" fill="none" stroke="#0000ff" stroke-width="0.5" stroke-opacity="0.18" stroke-linejoin="miter" stroke-miterlimit="2"/>
<polyline points="194.7,394.6 194.8,398.0 195.2,401.5 195.7,405.0 196.1,408.5 196.2,412.0 195.8,415.5 195.1,419.0 194.5,422.5 194.2,425.9 194.3,429.4 194.8,432.9 195.4,436.5" fill="none" stroke="#0000ff" stroke-width="0.5" stroke-opacity="0.18" stroke-linejoin="miter" stroke-miterlimit="2"/>
<polyline points="195.3,394.6 194.4,398.0 194.5,401.5 195.5,405.0 195.9,408.5 195.2,412.0 194.1,415.5 194.1,419.0 195.0,422.5 195.6,425.9 195.1,429.4 194.1,432.9 193.8,436.5" fill="none" stroke="#0000ff" stroke-width="0.5" stroke-opacity="0.18" stroke-linejoin="miter" stroke-miterlimit="2"/>
<polyline points="193.1,394.6 193.2,398.3 193.8,402.0 194.4,405.7 194.6,409.4 194.1,413.2 193.3,416.9 192.6,420.6 192.6,424.3 193.2,428.0 193.9,431.8 194.3,435.5 194.0,439.5" fill="none" stroke="#0000ff" stroke-width="0.5" stroke-opacity="0.18" stroke-linejoin="miter" stroke-miterlimit="2"/>
<polyline points="193.8,394.6 194.4,398.3 194.4,402.0 193.7,405.7 192.8,409.4 192.4,413.2 192.8,416.9 193.5,420.6 194.0,424.3 193.8,428.0 193.1,431.8 192.4,435.5 192.2,439.5" fill="none" stroke="#0000ff" stroke-width="0.5" stroke-opacity="0.18" stroke-linejoin="miter" stroke-miterlimit="2"/>
<polyline points="194.7,394.6 194.4,398.6 193.7,402.6 193.0,406.6 192.6,410.6 192.7,414.7 193.2,418.7 193.8,422.7 194.1,426.7 194.0,430.7 193.4,434.8 192.8,438.8 192.3,442.5" fill="none" stroke="#0000ff" stroke-width="0.5" stroke-opacity="0.18" stroke-linejoin="miter" stroke-miterlimit="2"/>
<polyline points="196.0,394.6 195.9,398.0 195.2,401.5 194.4,405.0 194.0,408.5 194.1,412.0 194.7,415.5 195.3,419.0 195.5,422.5 195.1,425.9 194.4,429.4 193.8,432.9 193.7,436.5" fill="none" stroke="#0000ff" stroke-width="0.5" stroke-opacity="0.18" stroke-linejoin="miter" stroke-miterlimit="2"/>
<polyline points="197.7,394.6 197.6,398.3 197.1,402.0 196.4,405.7 195.8,409.4 195.6,413.2 195.8,416.9 196.3,420.6 196.8,424.3 197.2,428.0 197.1,431.8 196.7,435.5 196.1,439.5" fill="none" stroke="#0000ff" stroke-width="0.5" stroke-opacity="0.18" stroke-linejoin="miter" stroke-miterlimit="2"/>
<polyline points="194.2,394.6 193.4,398.3 192.8,402.0 192.8,405.7 193.4,409.4 194.0,413.2 194.3,416.9 193.9,420.6 193.2,424.3 192.5,428.0 192.3,431.8 192.8,435.5 193.5,439.5" fill="none" stroke="#0000ff" stroke-width="0.5" stroke-opacity="0.18" stroke-linejoin="miter" stroke-miterlimit="2"/>
<polyline points="194.4,394.6 194.9,398.3 194.8,402.0 194.2,405.7 193.4,409.4 192.9,413.2 193.0,416.9 193.6,420.6 194.2,424.3 194.4,428.0 194.1,431.8 193.4,435.5 192.8,439.5" fill="none" stroke="#0000ff" stroke-width="0.5" stroke-opacity="0.18" stroke-linejoin="miter" stroke-miterlimit="2"/>
<polyline points="195.7,394.6 196.6,398.4 197.1,402.2 196.5,406.0 195.4,409.8 195.2,413.6 196.0,417.4 196.7,421.2 196.3,425.1 195.3,428.9 194.9,432.7 195.7,436.5 196.5,440.5" fill="none" stroke="#0000ff" stroke-width="0.5" stroke-opacity="0.18" stroke-linejoin="miter" stroke-miterlimit="2"/>
<polyline points="195.9,394.6 195.5,398.0 194.6,401.5 194.0,405.0 194.1,408.5 194.8,412.0 195.4,415.5 195.4,419.0 194.7,422.5 193.9,425.9 193.6,429.4 194.0,432.9 194.8,436.5" fill="none" stroke="#0000ff" stroke-width="0.5" stroke-opacity="0.18" stroke-linejoin="miter" stroke-miterlimit="2"/>
<polyline points="196.7,394.6 196.4,399.0 195.4,403.4 194.7,407.8 194.8,412.2 195.6,416.7 196.2,421.1 195.9,425.5 195.0,429.9 194.3,434.3 194.5,438.8 195.4,443.2 196.0,447.5" fill="none" stroke="#0000ff" stroke-width="0.5" stroke-opacity="0.18" stroke-linejoin="miter" stroke-miterlimit="2"/>
<polyline points="194.9,394.6 195.2,398.7 194.6,402.8 193.7,407.0 193.1,411.1 193.4,415.3 194.1,419.4 194.7,423.6 194.5,427.7 193.7,431.9 193.0,436.0 192.9,440.2 193.5,444.5" fill="none" stroke="#0000ff" stroke-width="0.5" stroke-opacity="0.18" stroke-linejoin="miter" stroke-miterlimit="2"/>
<polyline points="195.0,394.6 194.4,398.0 193.7,401.5 193.3,405.0 193.3,408.5 193.7,412.0 194.3,415.5 194.7,419.0 194.8,422.5 194.5,425.9 193.9,429.4 193.3,432.9 192.9,436.5" fill="none" stroke="#0000ff" stroke-width="0.5" stroke-opacity="0.18" stroke-linejoin="miter" stroke-miterlimit="2"/>
<polyline points="194.5,394.6 194.4,397.7 194.6,400.9 195.1,404.0 195.5,407.2 195.8,410.4 195.9,413.5 195.6,416.7 195.1,419.9 194.5,423.0 194.1,426.2 193.9,429.3 194.0,432.5" fill="none" stroke="#0000ff" stroke-width="0.5" stroke-opacity="0.18" stroke-linejoin="miter" stroke-miterlimit="2"/>
<polyline points="195.5,394.6 195.6,398.7 196.3,402.8 196.9,407.0 196.9,411.1 196.1,415.3 195.3,419.4 195.0,423.6 195.5,427.7 196.3,431.9 196.7,436.0 196.3,440.2 195.5,444.5" fill="none" stroke="#0000ff" stroke-width="0.5" stroke-opacity="0.18" stroke-linejoin="miter" stroke-miterlimit="2"/>
<polyline points="195.6,394.6 194.9,398.5 193.8,402.4 193.8,406.3 194.8,410.2 195.2,414.1 194.3,418.0 193.3,421.9 193.7,425.9 194.8,429.8 194.9,433.7 193.8,437.6 193.2,441.5" fill="none" stroke="#0000ff" stroke-width="0.5" stroke-opacity="0.18" stroke-linejoin="miter" stroke-miterlimit="2"/>
<polyline points="196.0,394.6 195.1,399.5 194.8,404.5 195.3,409.4 196.0,414.4 196.3,419.4 195.7,424.3 194.8,429.3 194.4,434.3 194.7,439.2 195.5,444.2 196.1,449.1 195.8,454.5" fill="none" stroke="#0000ff" stroke-width="0.5" stroke-opacity="0.18" stroke-linejoin="miter" stroke-miterlimit="2"/>
<polyline points="197.1,394.6 197.3,398.2 196.7,401.7 195.8,405.3 195.3,408.9 195.6,412.5 196.4,416.1 196.9,419.7 196.6,423.3 195.8,426.9 195.1,430.5 195.1,434.1 195.8,437.5" fill="none" stroke="#0000ff" stroke-width="0.5" stroke-opacity="0.18" stroke-linejoin="miter" stroke-miterlimit="2"/>
<polyline points="194.9,394.6 195.6,398.5 196.1,402.4 196.1,406.3 195.5,410.2 194.6,414.1 194.1,418.0 194.2,421.9 194.8,425.9 195.5,429.8 195.8,433.7 195.4,437.6 194.7,441.5" fill="none" stroke="#0000ff" stroke-width="0.5" stroke-opacity="0.18" stroke-linejoin="miter" stroke-miterlimit="2"/>
<polyline points="194.5,394.6 195.1,398.5 194.5,402.4 193.4,406.3 193.3,410.2 194.2,414.1 194.8,418.0 194.1,421.9 193.0,425.9 193.0,429.8 194.0,433.7 194.6,437.6 193.9,441.5" fill="none" stroke="#0000ff" stroke-width="0.5" stroke-opacity="0.18" stroke-linejoin="miter" stroke-miterlimit="2"/>
<polyline points="195.1,394.6 194.0,398.5 193.3,402.4 193.9,406.3 194.8,410.2 194.5,414.1 193.4,418.0 192.9,421.9 193.8,425.9 194.6,429.8 194.1,433.7 193.0,437.6 193.0,441.5" fill="none" stroke="#0000ff" stroke-width="0.5" stroke-opacity="0.18" stroke-linejoin="miter" stroke-miterlimit="2"/>
<polyline points="195.7,394.6 195.3,398.9 194.4,403.1 193.7,407.4 193.8,411.7 194.5,416.0 195.2,420.3 195.0,424.6 194.2,428.9 193.5,433.2 193.4,437.5 194.0,441.8 194.8,446.5" fill="none" stroke="#0000ff" stroke-width="0.5" stroke-opacity="0.18" stroke-linejoin="miter" stroke-miterlimit="2"/>
<polyline points="195.2,394.6 194.9,398.5 195.1,402.4 195.7,406.3 196.3,410.2 196.4,414.1 196.0,418.0 195.3,421.9 194.6,425.9 194.4,429.8 194.7,433.7 195.3,437.6 195.9,441.5" fill="none" stroke="#0000ff" stroke-width="0.5" stroke-opacity="0.18" stroke-linejoin="miter" stroke-miterlimit="2"/>
<polyline points="195.3,394.6 195.0,398.4 195.8,402.2 196.5,406.0 196.4,409.8 195.4,413.6 194.6,417.4 194.9,421.2 195.8,425.1 196.3,428.9 195.6,432.7 194.7,436.5 194.5,440.5" fill="none" stroke="#0000ff" stroke-width="0.5" stroke-opacity="0.18" stroke-linejoin="miter" stroke-miterlimit="2"/>
<polyline points="195.0,394.6 194.3,397.9 193.9,401.3 193.9,404.7 194.3,408.1 194.8,411.5 195.3,414.9 195.4,418.3 195.1,421.7 194.6,425.0 194.0,428.4 193.5,431.8 193.5,435.5" fill="none" stroke="#0000ff" stroke-width="0.5" stroke-opacity="0.18" stroke-linejoin="miter" stroke-miterlimit="2"/>
<polyline points="195.6,394.6 195.9,397.5 196.4,400.5 196.8,403.5 197.0,406.5 196.9,409.5 196.6,412.5 196.1,415.5 195.5,418.5 195.1,421.4 194.9,424.4 195.0,427.4 195.4,430.5" fill="none" stroke="#0000ff" stroke-width="0.5" stroke-opacity="0.18" stroke-linejoin="miter" stroke-miterlimit="2"/>
<polyline points="194.6,394.6 194.8,398.3 195.4,402.0 195.9,405.7 196.1,409.4 195.9,413.2 195.2,416.9 194.5,420.6 194.1,424.3 194.2,428.0 194.7,431.8 195.3,435.5 195.7,439.5" fill="none" stroke="#0000ff" stroke-width="0.5" stroke-opacity="0.18" stroke-linejoin="miter" stroke-miterlimit="2"/>
<polyline points="195.6,394.6 194.6,398.7 193.8,402.8 194.1,407.0 195.1,411.1 195.3,415.3 194.5,419.4 193.5,423.6 193.6,427.7 194.5,431.9 195.1,436.0 194.6,440.2 193.6,444.5" fill="none" stroke="#0000ff" stroke-width="0.5" stroke-opacity="0.18" stroke-linejoin="miter" stroke-miterlimit="2"/>
<polyline points="195.6,394.6 194.6,398.7 193.8,402.8 194.0,407.0 194.9,411.1 195.4,415.3 194.7,419.4 193.7,423.6 193.4,427.7 194.2,431.9 195.1,436.0 194.9,440.2 194.0,444.5" fill="none" stroke="#0000ff" stroke-width="0.5" stroke-opacity="0.18" stroke-linejoin="miter" stroke-miterlimit="2"/>
<polyline points="196.8,394.6 196.2,398.3 195.2,402.0 194.9,405.7 195.6,409.4 196.4,413.2 196.2,416.9 195.1,420.6 194.5,424.3 195.0,428.0 196.0,431.8 196.2,435.5 195.3,439.5" fill="none" stroke="#0000ff" stroke-width="0.5" stroke-opacity="0.18" stroke-linejoin="miter" stroke-miterlimit="2"/>
<polyline points="195.0,394.6 194.1,398.7 193.1,402.8 193.3,407.0 194.4,411.1 194.4,415.3 193.3,419.4 192.6,423.6 193.5,427.7 194.4,431.9 193.8,436.0 192.7,440.2 192.8,444.5" fill="none" stroke="#0000ff" stroke-width="0.5" stroke-opacity="0.18" stroke-linejoin="miter" stroke-miterlimit="2"/>
<polyline points="197.3,394.6 197.6,397.9 197.5,401.3 197.0,404.7 196.3,408.1 195.8,411.5 195.5,414.9 195.7,418.3 196.2,421.7 196.7,425.0 197.1,428.4 197.0,431.8 196.6,435.5" fill="none" stroke="#0000ff" stroke-width="0.5" stroke-opacity="0.18" stroke-linejoin="miter" stroke-miterlimit="2"/>
<polyline points="196.6,394.6 196.4,397.5 196.1,400.3 195.5,403.2 195.0,406.1 194.6,409.0 194.5,411.9 194.6,414.8 195.0,417.7 195.5,420.6 195.8,423.5 196.0,426.4 195.9,429.5" fill="none" stroke="#0000ff" stroke-width="0.5" stroke-opacity="0.18" stroke-linejoin="miter" stroke-miterlimit="2"/>
<polyline points="196.7,394.6 195.9,398.2 195.4,401.7 195.3,405.3 195.7,408.9 196.3,412.5 196.8,416.1 196.7,419.7 196.2,423.3 195.5,426.9 195.0,430.5 194.9,434.1 195.3,437.5" fill="none" stroke="#0000ff" stroke-width="0.5" stroke-opacity="0.18" stroke-linejoin="miter" stroke-miterlimit="2"/>
<polyline points="195.8,394.6 194.8,398.2 194.2,401.7 194.7,405.3 195.6,408.9 195.8,412.5 194.9,416.1 194.0,419.7 194.0,423.3 194.9,426.9 195.6,430.5 195.2,434.1 194.2,437.5" fill="none" stroke="#0000ff" stroke-width="0.5" stroke-opacity="0.18" stroke-linejoin="miter" stroke-miterlimit="2"/>
<polyline points="194.6,394.6 195.0,397.5 195.2,400.3 195.1,403.2 194.8,406.1 194.2,409.0 193.6,411.9 193.3,414.8 193.2,417.7 193.4,420.6 193.8,423.5 194.3,426.4 194.7,429.5" fill="none" stroke="#0000ff" stroke-width="0.5" stroke-opacity="0.18" stroke-linejoin="miter" stroke-miterlimit="2"/>
<polyline points="195.5,394.6 195.6,397.5 196.2,400.3 196.8,403.2 197.1,406.1 196.8,409.0 196.1,411.9 195.4,414.8 195.1,417.7 195.2,420.6 195.8,423.5 196.4,426.4 196.7,429.5" fill="none" stroke="#0000ff" stroke-width="0.5" stroke-opacity="0.18" stroke-linejoin="miter" stroke-miterlimit="2"/>
<polyline points="197.0,394.6 197.3,397.8 197.2,401.1 196.6,404.3 195.9,407.6 195.4,410.9 195.3,414.1 195.6,417.4 196.2,420.7 196.7,423.9 196.8,427.2 196.5,430.4 195.9,433.5" fill="none" stroke="#0000ff" stroke-width="0.5" stroke-opacity="0.18" stroke-linejoin="miter" stroke-miterlimit="2"/>
<polyline points="194.7,394.6 194.0,398.3 193.5,402.0 193.3,405.7 193.5,409.4 194.1,413.2 194.6,416.9 194.8,420.6 194.6,424.3 194.1,428.0 193.5,431.8 193.0,435.5 192.9,439.5" fill="none" stroke="#0000ff" stroke-width="0.5" stroke-opacity="0.18" stroke-linejoin="miter" stroke-miterlimit="2"/>
<polyline points="195.8,394.6 196.1,398.7 196.8,402.8 197.3,407.0 197.1,411.1 196.3,415.3 195.5,419.4 195.3,423.6 195.8,427.7 196.6,431.9 197.0,436.0 196.6,440.2 195.8,444.5" fill="none" stroke="#0000ff" stroke-width="0.5" stroke-opacity="0.18" stroke-linejoin="miter" stroke-miterlimit="2"/>
<polyline points="196.3,394.6 196.4,397.5 196.3,400.3 195.9,403.2 195.4,406.1 194.9,409.0 194.5,411.9 194.3,414.8 194.4,417.7 194.6,420.6 195.0,423.5 195.5,426.4 195.8,429.5" fill="none" stroke="#0000ff" stroke-width="0.5" stroke-opacity="0.18" stroke-linejoin="miter" stroke-miterlimit="2"/>
<polyline points="193.7,394.6 194.5,398.3 194.7,402.0 194.0,405.7 193.1,409.4 192.7,413.2 193.3,416.9 194.1,420.6 194.3,424.3 193.7,428.0 192.8,431.8 192.5,435.5 193.0,439.5" fill="none" stroke="#0000ff" stroke-width="0.5" stroke-opacity="0.18" stroke-linejoin="miter" stroke-miterlimit="2"/>
<polyline points="194.9,394.6 195.8,398.5 196.0,402.4 195.0,406.3 194.1,410.2 194.3,414.1 195.3,418.0 195.7,421.9 194.9,425.9 194.0,429.8 194.0,433.7 194.9,437.6 195.6,441.5" fill="none" stroke="#0000ff" stroke-width="0.5" stroke-opacity="0.18" stroke-linejoin="miter" stroke-miterlimit="2"/>
<polyline points="195.8,394.6 195.5,397.8 195.0,401.1 194.4,404.3 193.9,407.6 193.7,410.9 193.7,414.1 194.0,417.4 194.5,420.7 194.9,423.9 195.2,427.2 195.2,430.4 194.9,433.5" fill="none" stroke="#0000ff" stroke-width="0.5" stroke-opacity="0.18" stroke-linejoin="miter" stroke-miterlimit="2"/>
<polyline points="195.1,394.6 194.3,397.7 193.5,400.9 193.2,404.0 193.8,407.2 194.6,410.4 194.8,413.5 194.1,416.7 193.2,419.9 192.9,423.0 193.4,426.2 194.2,429.3 194.6,432.5" fill="none" stroke="#0000ff" stroke-width="0.5" stroke-opacity="0.18" stroke-linejoin="miter" stroke-miterlimit="2"/>
<polyline points="195.5,394.6 194.8,397.5 194.1,400.5 193.8,403.5 194.0,406.5 194.6,409.5 195.2,412.5 195.4,415.5 195.1,418.5 194.4,421.4 193.7,424.4 193.4,427.4 193.6,430.5" fill="none" stroke="#0000ff" stroke-width="0.5" stroke-opacity="0.18" stroke-linejoin="miter" stroke-miterlimit="2"/>
<polyline points="193.3,394.6 193.0,398.6 193.1,402.6 193.7,406.6 194.2,410.6 194.5,414.7 194.1,418.7 193.4,422.7 192.7,426.7 192.4,430.7 192.7,434.8 193.3,438.8 194.0,442.5" fill="none" stroke="#0000ff" stroke-width="0.5" stroke-opacity="0.18" stroke-linejoin="miter" stroke-miterlimit="2"/>
<polyline points="196.3,394.6 197.0,398.0 197.3,401.5 196.9,405.0 196.1,408.5 195.4,412.0 195.3,415.5 195.8,419.0 196.5,422.5 196.9,425.9 196.6,429.4 195.8,432.9 195.2,436.5" fill="none" stroke="#0000ff" stroke-width="0.5" stroke-opacity="0.18" stroke-linejoin="miter" stroke-miterlimit="2"/>
<polyline points="194.7,394.6 194.2,398.4 193.4,402.2 192.7,406.0 192.8,409.8 193.4,413.6 194.0,417.4 194.2,421.2 193.7,425.1 192.9,428.9 192.4,432.7 192.5,436.5 193.1,440.5" fill="none" stroke="#0000ff" stroke-width="0.5" stroke-opacity="0.18" stroke-linejoin="miter" stroke-miterlimit="2"/>
<polyline points="300.2,442.5 193.8,442.5" fill="none" stroke="#ff0000" stroke-width="1.0" stroke-opacity="0.26" stroke-linejoin="miter" stroke-miterlimit="2"/>
<polyline points="299.8,440.5 191.9,440.5" fill="none" stroke="#ff0000" stroke-width="1.0" stroke-opacity="0.26" stroke-linejoin="miter" stroke-miterlimit="2"/>
<polyline points="296.4,423.5 193.2,423.5" fill="none" stroke="#ff0000" stroke-width="1.0" stroke-opacity="0.26" stroke-linejoin="miter" stroke-miterlimit="2"/>
<polyline points="298.5,441.5 197.7,441.5" fill="none" stroke="#ff0000" stroke-width="1.0" stroke-opacity="0.26" stroke-linejoin="miter" stroke-miterlimit="2"/>
<polyline points="297.3,436.5 194.4,436.5" fill="none" stroke="#ff0000" stroke-width="1.0" stroke-opacity="0.26" stroke-linejoin="miter" stroke-miterlimit="2"/>
<polyline points="303.5,444.5 190.9,444.5" fill="none" stroke="#ff0000" stroke-width="1.0" stroke-opacity="0.26" stroke-linejoin="miter" stroke-miterlimit="2"/>
<polyline points="300.4,442.5 198.2,442.5" fill="none" stroke="#ff0000" stroke-width="1.0" stroke-opacity="0.26" stroke-linejoin="miter" stroke-miterlimit="2"/>
<polyline points="299.2,447.5 192.4,447.5" fill="none" stroke="#ff0000" stroke-width="1.0" stroke-opacity="0.26" stroke-linejoin="miter" stroke-miterlimit="2"/>
<polyline points="299.2,437.5 198.9,437.5" fill="none" stroke="#ff0000" stroke-width="1.0" stroke-opacity="0.26" stroke-linejoin="miter" stroke-miterlimit="2"/>
<polyline points="298.5,454.5 196.6,454.5" fill="none" stroke="#ff0000" stroke-width="1.0" stroke-opacity="0.26" stroke-linejoin="miter" stroke-miterlimit="2"/>
<polyline points="299.8,439.5 189.6,439.5" fill="none" stroke="#ff0000" stroke-width="1.0" stroke-opacity="0.26" stroke-linejoin="miter" stroke-miterlimit="2"/>
<polyline points="297.8,432.5 192.6,432.5" fill="none" stroke="#ff0000" stroke-width="1.0" stroke-opacity="0.26" stroke-linejoin="miter" stroke-miterlimit="2"/>
<polyline points="299.2,446.5 196.8,446.5" fill="none" stroke="#ff0000" stroke-width="1.0" stroke-opacity="0.26" stroke-linejoin="miter" stroke-miterlimit="2"/>
<polyline points="300.8,444.5 189.9,444.5" fill="none" stroke="#ff0000" stroke-width="1.0" stroke-opacity="0.26" stroke-linejoin="miter" stroke-miterlimit="2"/>
<polyline points="300.2,441.5 197.8,441.5" fill="none" stroke="#ff0000" stroke-width="1.0" stroke-opacity="0.26" stroke-linejoin="miter" stroke-miterlimit="2"/>
<polyline points="298.5,423.5 196.7,423.5" fill="none" stroke="#ff0000" stroke-width="1.0" stroke-opacity="0.26" stroke-linejoin="miter" stroke-miterlimit="2"/>
<polyline points="303.3,448.5 190.2,448.5" fill="none" stroke="#ff0000" stroke-width="1.0" stroke-opacity="0.26" stroke-linejoin="miter" stroke-miterlimit="2"/>
<polyline points="299.6,436.5 193.7,436.5" fill="none" stroke="#ff0000" stroke-width="1.0" stroke-opacity="0.26" stroke-linejoin="miter" stroke-miterlimit="2"/>
<polyline points="300.5,432.5 191.8,432.5" fill="none" stroke="#ff0000" stroke-width="1.0" stroke-opacity="0.26" stroke-linejoin="miter" stroke-miterlimit="2"/>
<polyline points="298.6,448.5 194.9,448.5" fill="none" stroke="#ff0000" stroke-width="1.0" stroke-opacity="0.26" stroke-linejoin="miter" stroke-miterlimit="2"/>
<polyline points="299.9,436.5 191.9,436.5" fill="none" stroke="#ff0000" stroke-width="1.0" stroke-opacity="0.26" stroke-linejoin="miter" stroke-miterlimit="2"/>
<polyline points="302.5,436.5 194.5,436.5" fill="none" stroke="#ff0000" stroke-width="1.0" stroke-opacity="0.26" stroke-linejoin="miter" stroke-miterlimit="2"/>
<polyline points="302.5,439.5 193.8,439.5" fill="none" stroke="#ff0000" stroke-width="1.0" stroke-opacity="0.26" stroke-linejoin="miter" stroke-miterlimit="2"/>
<polyline points="299.4,439.5 197.6,439.5" fill="none" stroke="#ff0000" stroke-width="1.0" stroke-opacity="0.26" stroke-linejoin="miter" stroke-miterlimit="2"/>
<polyline points="300.8,442.5 198.8,442.5" fill="none" stroke="#ff0000" stroke-width="1.0" stroke-opacity="0.26" stroke-linejoin="miter" stroke-miterlimit="2"/>
<polyline points="298.2,436.5 197.1,436.5" fill="none" stroke="#ff0000" stroke-width="1.0" stroke-opacity="0.26" stroke-linejoin="miter" stroke-miterlimit="2"/>
<polyline points="303.4,439.5 191.6,439.5" fill="none" stroke="#ff0000" stroke-width="1.0" stroke-opacity="0.26" stroke-linejoin="miter" stroke-miterlimit="2"/>
<polyline points="299.3,439.5 196.5,439.5" fill="none" stroke="#ff0000" stroke-width="1.0" stroke-opacity="0.26" stroke-linejoin="miter" stroke-miterlimit="2"/>
<polyline points="301.6,439.5 195.9,439.5" fill="none" stroke="#ff0000" stroke-width="1.0" stroke-opacity="0.26" stroke-linejoin="miter" stroke-miterlimit="2"/>
<polyline points="298.3,440.5 195.8,440.5" fill="none" stroke="#ff0000" stroke-width="1.0" stroke-opacity="0.26" stroke-linejoin="miter" stroke-miterlimit="2"/>
<polyline points="303.2,436.5 199.5,436.5" fill="none" stroke="#ff0000" stroke-width="1.0" stroke-opacity="0.26" stroke-linejoin="miter" stroke-miterlimit="2"/>
<polyline points="298.0,447.5 191.1,447.5" fill="none" stroke="#ff0000" stroke-width="1.0" stroke-opacity="0.26" stroke-linejoin="miter" stroke-miterlimit="2"/>
<polyline points="301.5,444.5 194.9,444.5" fill="none" stroke="#ff0000" stroke-width="1.0" stroke-opacity="0.26" stroke-linejoin="miter" stroke-miterlimit="2"/>
<polyline points="299.3,436.5 194.4,436.5" fill="none" stroke="#ff0000" stroke-width="1.0" stroke-opacity="0.26" stroke-linejoin="miter" stroke-miterlimit="2"/>
<polyline points="303.0,432.5 190.7,432.5" fill="none" stroke="#ff0000" stroke-width="1.0" stroke-opacity="0.26" stroke-linejoin="miter" stroke-miterlimit="2"/>
<polyline points="300.6,444.5 195.6,444.5" fill="none" stroke="#ff0000" stroke-width="1.0" stroke-opacity="0.26" stroke-linejoin="miter" stroke-miterlimit="2"/>
<polyline points="297.0,441.5 191.4,441.5" fill="none" stroke="#ff0000" stroke-width="1.0" stroke-opacity="0.26" stroke-linejoin="miter" stroke-miterlimit="2"/>
<polyline points="300.4,454.5 198.8,454.5" fill="none" stroke="#ff0000" stroke-width="1.0" stroke-opacity="0.26" stroke-linejoin="miter" stroke-miterlimit="2"/>
<polyline points="301.2,437.5 197.9,437.5" fill="none" stroke="#ff0000" stroke-width="1.0" stroke-opacity="0.26" stroke-linejoin="miter" stroke-miterlimit="2"/>
<polyline points="298.7,441.5 196.8,441.5" fill="none" stroke="#ff0000" stroke-width="1.0" stroke-opacity="0.26" stroke-linejoin="miter" stroke-miterlimit="2"/>
<polyline points="302.4,441.5 190.5,441.5" fill="none" stroke="#ff0000" stroke-width="1.0" stroke-opacity="0.26" stroke-linejoin="miter" stroke-miterlimit="2"/>
<polyline points="297.4,441.5 197.0,441.5" fill="none" stroke="#ff0000" stroke-width="1.0" stroke-opacity="0.26" stroke-linejoin="miter" stroke-miterlimit="2"/>
<polyline points="299.2,446.5 191.1,446.5" fill="none" stroke="#ff0000" stroke-width="1.0" stroke-opacity="0.26" stroke-linejoin="miter" stroke-miterlimit="2"/>
<polyline points="297.8,441.5 198.3,441.5" fill="none" stroke="#ff0000" stroke-width="1.0" stroke-opacity="0.26" stroke-linejoin="miter" stroke-miterlimit="2"/>
<polyline points="302.0,440.5 191.5,440.5" fill="none" stroke="#ff0000" stroke-width="1.0" stroke-opacity="0.26" stroke-linejoin="miter" stroke-miterlimit="2"/>
<polyline points="302.7,435.5 193.2,435.5" fill="none" stroke="#ff0000" stroke-width="1.0" stroke-opacity="0.26" stroke-linejoin="miter" stroke-miterlimit="2"/>
<polyline points="301.9,430.5 193.4,430.5" fill="none" stroke="#ff0000" stroke-width="1.0" stroke-opacity="0.26" stroke-linejoin="miter" stroke-miterlimit="2"/>
<polyline points="301.3,439.5 197.7,439.5" fill="none" stroke="#ff0000" stroke-width="1.0" stroke-opacity="0.26" stroke-linejoin="miter" stroke-miterlimit="2"/>
<polyline points="301.1,444.5 191.2,444.5" fill="none" stroke="#ff0000" stroke-width="1.0" stroke-opacity="0.26" stroke-linejoin="miter" stroke-miterlimit="2"/>
<polyline points="299.8,444.5 192.2,444.5" fill="none" stroke="#ff0000" stroke-width="1.0" stroke-opacity="0.26" stroke-linejoin="miter" stroke-miterlimit="2"/>
<polyline points="300.5,439.5 197.3,439.5" fill="none" stroke="#ff0000" stroke-width="1.0" stroke-opacity="0.26" stroke-linejoin="miter" stroke-miterlimit="2"/>
<polyline points="301.2,444.5 193.9,444.5" fill="none" stroke="#ff0000" stroke-width="1.0" stroke-opacity="0.26" stroke-linejoin="miter" stroke-miterlimit="2"/>
<polyline points="300.5,435.5 197.1,435.5" fill="none" stroke="#ff0000" stroke-width="1.0" stroke-opacity="0.26" stroke-linejoin="miter" stroke-miterlimit="2"/>
<polyline points="302.5,429.5 198.7,429.5" fill="none" stroke="#ff0000" stroke-width="1.0" stroke-opacity="0.26" stroke-linejoin="miter" stroke-miterlimit="2"/>
<polyline points="301.6,437.5 193.4,437.5" fill="none" stroke="#ff0000" stroke-width="1.0" stroke-opacity="0.26" stroke-linejoin="miter" stroke-miterlimit="2"/>
<polyline points="302.9,437.5 189.9,437.5" fill="none" stroke="#ff0000" stroke-width="1.0" stroke-opacity="0.26" stroke-linejoin="miter" stroke-miterlimit="2"/>
<polyline points="299.3,429.5 196.7,429.5" fill="none" stroke="#ff0000" stroke-width="1.0" stroke-opacity="0.26" stroke-linejoin="miter" stroke-miterlimit="2"/>
<polyline points="299.9,429.5 195.3,429.5" fill="none" stroke="#ff0000" stroke-width="1.0" stroke-opacity="0.26" stroke-linejoin="miter" stroke-miterlimit="2"/>
<polyline points="298.1,433.5 189.9,433.5" fill="none" stroke="#ff0000" stroke-width="1.0" stroke-opacity="0.26" stroke-linejoin="miter" stroke-miterlimit="2"/>
<polyline points="299.2,439.5 192.8,439.5" fill="none" stroke="#ff0000" stroke-width="1.0" stroke-opacity="0.26" stroke-linejoin="miter" stroke-miterlimit="2"/>
<polyline points="298.7,444.5 199.1,444.5" fill="none" stroke="#ff0000" stroke-width="1.0" stroke-opacity="0.26" stroke-linejoin="miter" stroke-miterlimit="2"/>
<polyline points="299.0,429.5 191.7,429.5" fill="none" stroke="#ff0000" stroke-width="1.0" stroke-opacity="0.26" stroke-linejoin="miter" stroke-miterlimit="2"/>
<polyline points="299.5,439.5 189.1,439.5" fill="none" stroke="#ff0000" stroke-width="1.0" stroke-opacity="0.26" stroke-linejoin="miter" stroke-miterlimit="2"/>
<polyline points="299.1,441.5 190.6,441.5" fill="none" stroke="#ff0000" stroke-width="1.0" stroke-opacity="0.26" stroke-linejoin="miter" stroke-miterlimit="2"/>
<polyline points="300.5,433.5 192.1,433.5" fill="none" stroke="#ff0000" stroke-width="1.0" stroke-opacity="0.26" stroke-linejoin="miter" stroke-miterlimit="2"/>
<polyline points="299.0,432.5 191.1,432.5" fill="none" stroke="#ff0000" stroke-width="1.0" stroke-opacity="0.26" stroke-linejoin="miter" stroke-miterlimit="2"/>
<polyline points="300.9,430.5 196.5,430.5" fill="none" stroke="#ff0000" stroke-width="1.0" stroke-opacity="0.26" stroke-linejoin="miter" stroke-miterlimit="2"/>
<polyline points="297.7,442.5 196.4,442.5" fill="none" stroke="#ff0000" stroke-width="1.0" stroke-opacity="0.26" stroke-linejoin="miter" stroke-miterlimit="2"/>
<polyline points="299.6,436.5 192.6,436.5" fill="none" stroke="#ff0000" stroke-width="1.0" stroke-opacity="0.26" stroke-linejoin="miter" stroke-miterlimit="2"/>
<polyline points="299.5,440.5 198.3,440.5" fill="none" stroke="#ff0000" stroke-width="1.0" stroke-opacity="0.26" stroke-linejoin="miter" stroke-miterlimit="2"/>
<polyline points="299.0,394.6 297.8,398.6 297.5,402.6 298.8,406.6 299.9,410.6 299.4,414.7 298.2,418.7 298.5,422.7 299.9,426.7 300.5,430.7 299.6,434.8 298.5,438.8 300.2,442.5" fill="none" stroke="#ff0000" stroke-width="0.5" stroke-opacity="0.2" stroke-linejoin="miter" stroke-miterlimit="2"/>
<polyline points="299.0,394.6 298.7,398.4 298.0,402.2 297.5,406.0 297.4,409.8 297.9,413.6 298.7,417.4 299.6,421.2 300.2,425.1 300.1,428.9 299.5,432.7 298.8,436.5 299.8,440.5" fill="none" stroke="#ff0000" stroke-width="0.5" stroke-opacity="0.2" stroke-linejoin="miter" stroke-miterlimit="2"/>
<polyline points="297.0,394.6 296.4,397.0 295.8,399.3 295.4,401.7 295.5,404.1 296.1,406.5 297.0,408.9 297.7,411.3 298.0,413.7 297.8,416.1 297.2,418.5 296.6,420.9 296.4,423.5" fill="none" stroke="#ff0000" stroke-width="0.5" stroke-opacity="0.2" stroke-linejoin="miter" stroke-miterlimit="2"/>
<polyline points="296.2,394.6 295.8,398.5 295.9,402.4 296.5,406.3 297.4,410.2 298.2,414.1 298.7,418.0 298.5,421.9 298.0,425.9 297.3,429.8 296.9,433.7 297.0,437.6 298.5,441.5" fill="none" stroke="#ff0000" stroke-width="0.5" stroke-opacity="0.2" stroke-linejoin="miter" stroke-miterlimit="2"/>
<polyline points="295.3,394.6 296.4,398.0 297.3,401.5 297.3,405.0 296.5,408.5 295.7,412.0 295.8,415.5 296.7,419.0 297.8,422.5 298.2,425.9 297.7,429.4 296.7,432.9 297.3,436.5" fill="none" stroke="#ff0000" stroke-width="0.5" stroke-opacity="0.2" stroke-linejoin="miter" stroke-miterlimit="2"/>
<polyline points="298.8,394.6 299.6,398.7 300.6,402.8 301.3,407.0 301.4,411.1 300.9,415.3 300.1,419.4 299.8,423.6 300.1,427.7 301.0,431.9 301.9,436.0 302.3,440.2 303.5,444.5" fill="none" stroke="#ff0000" stroke-width="0.5" stroke-opacity="0.2" stroke-linejoin="miter" stroke-miterlimit="2"/>
<polyline points="298.0,394.6 298.3,398.6 297.4,402.6 296.6,406.6 296.9,410.6 298.3,414.7 299.1,418.7 298.7,422.7 297.6,426.7 297.3,430.7 298.2,434.8 299.4,438.8 300.4,442.5" fill="none" stroke="#ff0000" stroke-width="0.5" stroke-opacity="0.2" stroke-linejoin="miter" stroke-miterlimit="2"/>
<polyline points="299.3,394.6 299.7,399.0 299.3,403.4 298.5,407.8 298.1,412.2 298.4,416.7 299.4,421.1 300.4,425.5 300.8,429.9 300.3,434.3 299.5,438.8 298.9,443.2 299.2,447.5" fill="none" stroke="#ff0000" stroke-width="0.5" stroke-opacity="0.2" stroke-linejoin="miter" stroke-miterlimit="2"/>
<polyline points="296.1,394.6 297.4,398.2 297.7,401.7 296.8,405.3 296.0,408.9 296.4,412.5 297.7,416.1 298.5,419.7 297.9,423.3 296.9,426.9 296.7,430.5 297.8,434.1 299.2,437.5" fill="none" stroke="#ff0000" stroke-width="0.5" stroke-opacity="0.2" stroke-linejoin="miter" stroke-miterlimit="2"/>
<polyline points="296.2,394.6 297.2,399.5 296.9,404.5 295.8,409.4 295.7,414.4 296.9,419.4 298.1,424.3 297.9,429.3 296.7,434.3 296.3,439.2 297.2,444.2 298.5,449.1 298.5,454.5" fill="none" stroke="#ff0000" stroke-width="0.5" stroke-opacity="0.2" stroke-linejoin="miter" stroke-miterlimit="2"/>
<polyline points="295.4,394.6 295.3,398.3 295.8,402.0 296.8,405.7 297.7,409.4 298.0,413.2 297.6,416.9 296.9,420.6 296.4,424.3 296.4,428.0 297.0,431.8 297.9,435.5 299.8,439.5" fill="none" stroke="#ff0000" stroke-width="0.5" stroke-opacity="0.2" stroke-linejoin="miter" stroke-miterlimit="2"/>
<polyline points="295.1,394.6 296.2,397.7 297.2,400.9 297.1,404.0 296.2,407.2 295.5,410.4 295.9,413.5 297.2,416.7 298.0,419.9 297.6,423.0 296.6,426.2 296.1,429.3 297.8,432.5" fill="none" stroke="#ff0000" stroke-width="0.5" stroke-opacity="0.2" stroke-linejoin="miter" stroke-miterlimit="2"/>
<polyline points="295.5,394.6 296.4,398.9 297.4,403.1 297.9,407.4 297.6,411.7 297.0,416.0 296.4,420.3 296.3,424.6 296.9,428.9 297.9,433.2 298.6,437.5 298.7,441.8 299.2,446.5" fill="none" stroke="#ff0000" stroke-width="0.5" stroke-opacity="0.2" stroke-linejoin="miter" stroke-miterlimit="2"/>
<polyline points="297.9,394.6 296.9,398.7 297.8,402.8 299.3,407.0 299.2,411.1 297.9,415.3 297.9,419.4 299.4,423.6 300.1,427.7 299.0,431.9 298.1,436.0 299.1,440.2 300.8,444.5" fill="none" stroke="#ff0000" stroke-width="0.5" stroke-opacity="0.2" stroke-linejoin="miter" stroke-miterlimit="2"/>
<polyline points="299.9,394.6 299.9,398.5 299.3,402.4 298.5,406.3 298.3,410.2 298.7,414.1 299.7,418.0 300.6,421.9 301.0,425.9 300.7,429.8 299.9,433.7 299.2,437.6 300.2,441.5" fill="none" stroke="#ff0000" stroke-width="0.5" stroke-opacity="0.2" stroke-linejoin="miter" stroke-miterlimit="2"/>
<polyline points="297.8,394.6 298.1,397.0 298.2,399.3 298.1,401.7 297.8,404.1 297.4,406.5 297.1,408.9 296.7,411.3 296.6,413.7 296.6,416.1 296.8,418.5 297.2,420.9 298.5,423.5" fill="none" stroke="#ff0000" stroke-width="0.5" stroke-opacity="0.2" stroke-linejoin="miter" stroke-miterlimit="2"/>
<polyline points="300.8,394.6 299.8,399.1 301.0,403.6 302.4,408.1 301.6,412.6 300.5,417.2 301.6,421.7 303.0,426.2 302.2,430.7 301.0,435.2 301.9,439.8 303.3,444.3 303.3,448.5" fill="none" stroke="#ff0000" stroke-width="0.5" stroke-opacity="0.2" stroke-linejoin="miter" stroke-miterlimit="2"/>
<polyline points="296.4,394.6 296.5,398.0 297.4,401.5 298.5,405.0 299.0,408.5 298.6,412.0 297.8,415.5 297.2,419.0 297.5,422.5 298.5,425.9 299.4,429.4 299.7,432.9 299.6,436.5" fill="none" stroke="#ff0000" stroke-width="0.5" stroke-opacity="0.2" stroke-linejoin="miter" stroke-miterlimit="2"/>
<polyline points="297.1,394.6 297.8,397.7 298.5,400.9 299.1,404.0 299.3,407.2 299.1,410.4 298.7,413.5 298.1,416.7 297.8,419.9 297.7,423.0 298.0,426.2 298.6,429.3 300.5,432.5" fill="none" stroke="#ff0000" stroke-width="0.5" stroke-opacity="0.2" stroke-linejoin="miter" stroke-miterlimit="2"/>
<polyline points="298.8,394.6 298.7,399.1 297.5,403.6 297.4,408.1 298.8,412.6 299.8,417.2 299.0,421.7 298.0,426.2 298.5,430.7 300.0,435.2 300.1,439.8 298.8,444.3 298.6,448.5" fill="none" stroke="#ff0000" stroke-width="0.5" stroke-opacity="0.2" stroke-linejoin="miter" stroke-miterlimit="2"/>
<polyline points="297.3,394.6 297.5,398.0 298.1,401.5 298.9,405.0 299.7,408.5 300.1,412.0 300.1,415.5 299.7,419.0 299.1,422.5 298.6,425.9 298.5,429.4 298.9,432.9 299.9,436.5" fill="none" stroke="#ff0000" stroke-width="0.5" stroke-opacity="0.2" stroke-linejoin="miter" stroke-miterlimit="2"/>
<polyline points="299.1,394.6 300.0,398.0 300.6,401.5 300.7,405.0 300.3,408.5 299.6,412.0 299.1,415.5 299.1,419.0 299.6,422.5 300.5,425.9 301.2,429.4 301.6,432.9 302.5,436.5" fill="none" stroke="#ff0000" stroke-width="0.5" stroke-opacity="0.2" stroke-linejoin="miter" stroke-miterlimit="2"/>
<polyline points="300.9,394.6 299.9,398.3 299.5,402.0 300.1,405.7 301.4,409.4 302.1,413.2 301.6,416.9 300.7,420.6 300.3,424.3 301.0,428.0 302.2,431.8 302.7,435.5 302.5,439.5" fill="none" stroke="#ff0000" stroke-width="0.5" stroke-opacity="0.2" stroke-linejoin="miter" stroke-miterlimit="2"/>
<polyline points="296.8,394.6 297.8,398.3 298.4,402.0 298.4,405.7 297.9,409.4 297.2,413.2 296.8,416.9 297.0,420.6 297.7,424.3 298.6,428.0 299.2,431.8 299.4,435.5 299.4,439.5" fill="none" stroke="#ff0000" stroke-width="0.5" stroke-opacity="0.2" stroke-linejoin="miter" stroke-miterlimit="2"/>
<polyline points="298.7,394.6 298.3,398.6 298.8,402.6 300.1,406.6 300.9,410.6 300.6,414.7 299.7,418.7 299.2,422.7 299.6,426.7 300.8,430.7 301.6,434.8 301.3,438.8 300.8,442.5" fill="none" stroke="#ff0000" stroke-width="0.5" stroke-opacity="0.2" stroke-linejoin="miter" stroke-miterlimit="2"/>
<polyline points="295.0,394.6 295.6,398.0 296.9,401.5 297.6,405.0 296.9,408.5 295.9,412.0 295.9,415.5 297.0,419.0 298.1,422.5 298.0,425.9 296.9,429.4 296.2,432.9 298.2,436.5" fill="none" stroke="#ff0000" stroke-width="0.5" stroke-opacity="0.2" stroke-linejoin="miter" stroke-miterlimit="2"/>
<polyline points="299.6,394.6 299.6,398.3 300.0,402.0 300.9,405.7 301.8,409.4 302.3,413.2 302.2,416.9 301.7,420.6 301.1,424.3 300.6,428.0 300.8,431.8 301.4,435.5 303.4,439.5" fill="none" stroke="#ff0000" stroke-width="0.5" stroke-opacity="0.2" stroke-linejoin="miter" stroke-miterlimit="2"/>
<polyline points="297.8,394.6 298.9,398.3 299.5,402.0 299.2,405.7 298.3,409.4 297.8,413.2 298.0,416.9 299.0,420.6 300.1,424.3 300.4,428.0 299.8,431.8 298.9,435.5 299.3,439.5" fill="none" stroke="#ff0000" stroke-width="0.5" stroke-opacity="0.2" stroke-linejoin="miter" stroke-miterlimit="2"/>
<polyline points="298.5,394.6 299.3,398.3 299.6,402.0 299.4,405.7 298.9,409.4 298.2,413.2 298.0,416.9 298.3,420.6 299.0,424.3 299.9,428.0 300.5,431.8 300.6,435.5 301.6,439.5" fill="none" stroke="#ff0000" stroke-width="0.5" stroke-opacity="0.2" stroke-linejoin="miter" stroke-miterlimit="2"/>
<polyline points="295.8,394.6 296.4,398.4 297.6,402.2 298.4,406.0 298.1,409.8 297.2,413.6 296.7,417.4 297.1,421.2 298.3,425.1 299.1,428.9 299.0,432.7 298.0,436.5 298.3,440.5" fill="none" stroke="#ff0000" stroke-width="0.5" stroke-opacity="0.2" stroke-linejoin="miter" stroke-miterlimit="2"/>
<polyline points="299.5,394.6 300.7,398.0 300.5,401.5 299.4,405.0 298.9,408.5 299.8,412.0 301.2,415.5 301.4,419.0 300.3,422.5 299.6,425.9 300.2,429.4 301.5,432.9 303.2,436.5" fill="none" stroke="#ff0000" stroke-width="0.5" stroke-opacity="0.2" stroke-linejoin="miter" stroke-miterlimit="2"/>
<polyline points="297.4,394.6 296.9,399.0 296.2,403.4 295.9,407.8 296.3,412.2 297.2,416.7 298.2,421.1 298.7,425.5 298.5,429.9 297.8,434.3 297.1,438.8 296.8,443.2 298.0,447.5" fill="none" stroke="#ff0000" stroke-width="0.5" stroke-opacity="0.2" stroke-linejoin="miter" stroke-miterlimit="2"/>
<polyline points="300.7,394.6 301.3,398.7 301.0,402.8 300.2,407.0 299.6,411.1 299.9,415.3 300.9,419.4 302.0,423.6 302.3,427.7 301.8,431.9 300.9,436.0 300.4,440.2 301.5,444.5" fill="none" stroke="#ff0000" stroke-width="0.5" stroke-opacity="0.2" stroke-linejoin="miter" stroke-miterlimit="2"/>
<polyline points="295.8,394.6 297.1,398.0 297.3,401.5 296.4,405.0 295.6,408.5 295.9,412.0 297.2,415.5 298.1,419.0 297.7,422.5 296.7,425.9 296.2,429.4 296.9,432.9 299.3,436.5" fill="none" stroke="#ff0000" stroke-width="0.5" stroke-opacity="0.2" stroke-linejoin="miter" stroke-miterlimit="2"/>
<polyline points="300.0,394.6 300.8,397.7 301.3,400.9 301.1,404.0 300.6,407.2 299.9,410.4 299.6,413.5 299.8,416.7 300.6,419.9 301.5,423.0 302.1,426.2 302.2,429.3 303.0,432.5" fill="none" stroke="#ff0000" stroke-width="0.5" stroke-opacity="0.2" stroke-linejoin="miter" stroke-miterlimit="2"/>
<polyline points="298.8,394.6 297.9,398.7 297.1,402.8 297.5,407.0 298.9,411.1 299.7,415.3 299.2,419.4 298.2,423.6 298.0,427.7 299.0,431.9 300.1,436.0 300.1,440.2 300.6,444.5" fill="none" stroke="#ff0000" stroke-width="0.5" stroke-opacity="0.2" stroke-linejoin="miter" stroke-miterlimit="2"/>
<polyline points="297.0,394.6 296.3,398.5 295.3,402.4 295.5,406.3 296.8,410.2 297.7,414.1 297.1,418.0 296.0,421.9 296.1,425.9 297.4,429.8 298.3,433.7 297.7,437.6 297.0,441.5" fill="none" stroke="#ff0000" stroke-width="0.5" stroke-opacity="0.2" stroke-linejoin="miter" stroke-miterlimit="2"/>
<polyline points="300.0,394.6 300.8,399.5 300.7,404.5 300.0,409.4 299.3,414.4 299.4,419.4 300.4,424.3 301.4,429.3 301.9,434.3 301.5,439.2 300.6,444.2 300.0,449.1 300.4,454.5" fill="none" stroke="#ff0000" stroke-width="0.5" stroke-opacity="0.2" stroke-linejoin="miter" stroke-miterlimit="2"/>
<polyline points="299.5,394.6 298.7,398.2 298.9,401.7 300.0,405.3 301.1,408.9 301.2,412.5 300.4,416.1 299.6,419.7 299.7,423.3 300.7,426.9 301.7,430.5 301.9,434.1 301.2,437.5" fill="none" stroke="#ff0000" stroke-width="0.5" stroke-opacity="0.2" stroke-linejoin="miter" stroke-miterlimit="2"/>
<polyline points="296.9,394.6 296.6,398.5 297.3,402.4 298.6,406.3 299.2,410.2 298.7,414.1 297.8,418.0 297.4,421.9 298.2,425.9 299.3,429.8 299.9,433.7 299.4,437.6 298.7,441.5" fill="none" stroke="#ff0000" stroke-width="0.5" stroke-opacity="0.2" stroke-linejoin="miter" stroke-miterlimit="2"/>
<polyline points="298.4,394.6 299.3,398.5 300.3,402.4 300.9,406.3 300.7,410.2 300.1,414.1 299.4,418.0 299.3,421.9 299.8,425.9 300.7,429.8 301.5,433.7 301.8,437.6 302.4,441.5" fill="none" stroke="#ff0000" stroke-width="0.5" stroke-opacity="0.2" stroke-linejoin="miter" stroke-miterlimit="2"/>
<polyline points="296.7,394.6 297.8,398.5 298.3,402.4 297.8,406.3 296.9,410.2 296.5,414.1 297.1,418.0 298.3,421.9 299.1,425.9 298.9,429.8 298.1,433.7 297.3,437.6 297.4,441.5" fill="none" stroke="#ff0000" stroke-width="0.5" stroke-opacity="0.2" stroke-linejoin="miter" stroke-miterlimit="2"/>
<polyline points="296.2,394.6 295.3,398.9 295.1,403.1 296.0,407.4 297.2,411.7 297.8,416.0 297.3,420.3 296.4,424.6 296.0,428.9 296.6,433.2 297.8,437.5 298.4,441.8 299.2,446.5" fill="none" stroke="#ff0000" stroke-width="0.5" stroke-opacity="0.2" stroke-linejoin="miter" stroke-miterlimit="2"/>
<polyline points="294.9,394.6 295.7,398.5 296.9,402.4 297.5,406.3 296.9,410.2 296.0,414.1 295.8,418.0 296.8,421.9 298.0,425.9 298.2,429.8 297.3,433.7 296.4,437.6 297.8,441.5" fill="none" stroke="#ff0000" stroke-width="0.5" stroke-opacity="0.2" stroke-linejoin="miter" stroke-miterlimit="2"/>
<polyline points="299.1,394.6 300.4,398.4 300.6,402.2 299.7,406.0 298.9,409.8 299.4,413.6 300.7,417.4 301.5,421.2 300.9,425.1 299.8,428.9 299.6,432.7 300.7,436.5 302.0,440.5" fill="none" stroke="#ff0000" stroke-width="0.5" stroke-opacity="0.2" stroke-linejoin="miter" stroke-miterlimit="2"/>
<polyline points="299.4,394.6 298.9,397.9 299.1,401.3 299.9,404.7 300.9,408.1 301.5,411.5 301.5,414.9 301.0,418.3 300.2,421.7 299.9,425.0 300.1,428.4 300.9,431.8 302.7,435.5" fill="none" stroke="#ff0000" stroke-width="0.5" stroke-opacity="0.2" stroke-linejoin="miter" stroke-miterlimit="2"/>
<polyline points="298.4,394.6 299.3,397.5 300.1,400.5 300.5,403.5 300.3,406.5 299.6,409.5 299.0,412.5 298.7,415.5 299.0,418.5 299.8,421.4 300.7,424.4 301.2,427.4 301.9,430.5" fill="none" stroke="#ff0000" stroke-width="0.5" stroke-opacity="0.2" stroke-linejoin="miter" stroke-miterlimit="2"/>
<polyline points="298.3,394.6 299.1,398.3 299.8,402.0 300.0,405.7 299.7,409.4 299.1,413.2 298.5,416.9 298.4,420.6 298.7,424.3 299.3,428.0 300.1,431.8 300.7,435.5 301.3,439.5" fill="none" stroke="#ff0000" stroke-width="0.5" stroke-opacity="0.2" stroke-linejoin="miter" stroke-miterlimit="2"/>
<polyline points="298.9,394.6 299.9,398.7 301.1,402.8 301.4,407.0 300.9,411.1 300.0,415.3 299.8,419.4 300.5,423.6 301.7,427.7 302.3,431.9 301.8,436.0 300.8,440.2 301.1,444.5" fill="none" stroke="#ff0000" stroke-width="0.5" stroke-opacity="0.2" stroke-linejoin="miter" stroke-miterlimit="2"/>
<polyline points="298.9,394.6 299.5,398.7 299.3,402.8 298.5,407.0 297.9,411.1 298.1,415.3 299.0,419.4 300.1,423.6 300.5,427.7 300.2,431.9 299.3,436.0 298.6,440.2 299.8,444.5" fill="none" stroke="#ff0000" stroke-width="0.5" stroke-opacity="0.2" stroke-linejoin="miter" stroke-miterlimit="2"/>
<polyline points="300.0,394.6 300.0,398.3 299.4,402.0 298.7,405.7 298.4,409.4 298.7,413.2 299.5,416.9 300.5,420.6 301.1,424.3 301.0,428.0 300.3,431.8 299.6,435.5 300.5,439.5" fill="none" stroke="#ff0000" stroke-width="0.5" stroke-opacity="0.2" stroke-linejoin="miter" stroke-miterlimit="2"/>
<polyline points="297.9,394.6 298.9,398.7 299.8,402.8 300.2,407.0 300.0,411.1 299.3,415.3 298.7,419.4 298.7,423.6 299.2,427.7 300.2,431.9 300.9,436.0 301.1,440.2 301.2,444.5" fill="none" stroke="#ff0000" stroke-width="0.5" stroke-opacity="0.2" stroke-linejoin="miter" stroke-miterlimit="2"/>
<polyline points="297.1,394.6 297.9,397.9 298.7,401.3 299.3,404.7 299.6,408.1 299.3,411.5 298.8,414.9 298.2,418.3 297.9,421.7 298.1,425.0 298.6,428.4 299.4,431.8 300.5,435.5" fill="none" stroke="#ff0000" stroke-width="0.5" stroke-opacity="0.2" stroke-linejoin="miter" stroke-miterlimit="2"/>
<polyline points="300.0,394.6 300.1,397.5 299.8,400.3 299.3,403.2 298.8,406.1 298.5,409.0 298.5,411.9 298.8,414.8 299.4,417.7 300.2,420.6 300.8,423.5 301.2,426.4 302.5,429.5" fill="none" stroke="#ff0000" stroke-width="0.5" stroke-opacity="0.2" stroke-linejoin="miter" stroke-miterlimit="2"/>
<polyline points="298.0,394.6 298.9,398.2 300.2,401.7 300.4,405.3 299.4,408.9 298.7,412.5 299.3,416.1 300.6,419.7 301.2,423.3 300.4,426.9 299.4,430.5 299.5,434.1 301.6,437.5" fill="none" stroke="#ff0000" stroke-width="0.5" stroke-opacity="0.2" stroke-linejoin="miter" stroke-miterlimit="2"/>
<polyline points="299.2,394.6 299.6,398.2 300.9,401.7 301.7,405.3 301.0,408.9 300.0,412.5 300.1,416.1 301.5,419.7 302.4,423.3 301.8,426.9 300.6,430.5 300.6,434.1 302.9,437.5" fill="none" stroke="#ff0000" stroke-width="0.5" stroke-opacity="0.2" stroke-linejoin="miter" stroke-miterlimit="2"/>
<polyline points="299.3,394.6 298.8,397.5 298.1,400.3 297.6,403.2 297.7,406.1 298.3,409.0 299.2,411.9 300.0,414.8 300.2,417.7 299.9,420.6 299.3,423.5 298.6,426.4 299.3,429.5" fill="none" stroke="#ff0000" stroke-width="0.5" stroke-opacity="0.2" stroke-linejoin="miter" stroke-miterlimit="2"/>
<polyline points="298.3,394.6 298.0,397.5 297.5,400.3 297.1,403.2 296.8,406.1 296.9,409.0 297.2,411.9 297.9,414.8 298.6,417.7 299.2,420.6 299.6,423.5 299.6,426.4 299.9,429.5" fill="none" stroke="#ff0000" stroke-width="0.5" stroke-opacity="0.2" stroke-linejoin="miter" stroke-miterlimit="2"/>
<polyline points="297.5,394.6 297.0,397.8 296.5,401.1 296.2,404.3 296.3,407.6 296.8,410.9 297.5,414.1 298.2,417.4 298.8,420.7 299.1,423.9 298.9,427.2 298.3,430.4 298.1,433.5" fill="none" stroke="#ff0000" stroke-width="0.5" stroke-opacity="0.2" stroke-linejoin="miter" stroke-miterlimit="2"/>
<polyline points="299.5,394.6 299.9,398.3 299.6,402.0 298.9,405.7 298.3,409.4 298.4,413.2 299.2,416.9 300.3,420.6 300.9,424.3 300.7,428.0 299.9,431.8 299.1,435.5 299.2,439.5" fill="none" stroke="#ff0000" stroke-width="0.5" stroke-opacity="0.2" stroke-linejoin="miter" stroke-miterlimit="2"/>
<polyline points="297.0,394.6 296.0,398.7 296.6,402.8 298.1,407.0 298.4,411.1 297.3,415.3 296.7,419.4 297.8,423.6 299.1,427.7 298.7,431.9 297.4,436.0 297.3,440.2 298.7,444.5" fill="none" stroke="#ff0000" stroke-width="0.5" stroke-opacity="0.2" stroke-linejoin="miter" stroke-miterlimit="2"/>
<polyline points="296.6,394.6 296.7,397.5 297.2,400.3 297.8,403.2 298.5,406.1 299.1,409.0 299.4,411.9 299.4,414.8 299.1,417.7 298.6,420.6 298.2,423.5 297.8,426.4 299.0,429.5" fill="none" stroke="#ff0000" stroke-width="0.5" stroke-opacity="0.2" stroke-linejoin="miter" stroke-miterlimit="2"/>
<polyline points="296.5,394.6 297.3,398.3 297.0,402.0 296.0,405.7 295.5,409.4 296.2,413.2 297.4,416.9 298.1,420.6 297.6,424.3 296.6,428.0 296.2,431.8 297.0,435.5 299.5,439.5" fill="none" stroke="#ff0000" stroke-width="0.5" stroke-opacity="0.2" stroke-linejoin="miter" stroke-miterlimit="2"/>
<polyline points="297.3,394.6 296.5,398.5 296.5,402.4 297.5,406.3 298.7,410.2 299.0,414.1 298.2,418.0 297.4,421.9 297.3,425.9 298.3,429.8 299.3,433.7 299.6,437.6 299.1,441.5" fill="none" stroke="#ff0000" stroke-width="0.5" stroke-opacity="0.2" stroke-linejoin="miter" stroke-miterlimit="2"/>
<polyline points="298.9,394.6 299.1,397.8 300.2,401.1 301.2,404.3 301.4,407.6 300.6,410.9 299.8,414.1 299.7,417.4 300.7,420.7 301.8,423.9 302.1,427.2 301.5,430.4 300.5,433.5" fill="none" stroke="#ff0000" stroke-width="0.5" stroke-opacity="0.2" stroke-linejoin="miter" stroke-miterlimit="2"/>
<polyline points="295.9,394.6 295.3,397.7 295.4,400.9 296.1,404.0 297.0,407.2 297.8,410.4 297.9,413.5 297.5,416.7 296.7,419.9 296.2,423.0 296.3,426.2 297.0,429.3 299.0,432.5" fill="none" stroke="#ff0000" stroke-width="0.5" stroke-opacity="0.2" stroke-linejoin="miter" stroke-miterlimit="2"/>
<polyline points="296.5,394.6 297.2,397.5 298.1,400.5 298.8,403.5 299.0,406.5 298.5,409.5 297.8,412.5 297.3,415.5 297.3,418.5 297.9,421.4 298.8,424.4 299.6,427.4 300.9,430.5" fill="none" stroke="#ff0000" stroke-width="0.5" stroke-opacity="0.2" stroke-linejoin="miter" stroke-miterlimit="2"/>
<polyline points="295.9,394.6 297.0,398.6 297.7,402.6 297.8,406.6 297.2,410.6 296.5,414.7 296.2,418.7 296.6,422.7 297.5,426.7 298.4,430.7 298.8,434.8 298.4,438.8 297.7,442.5" fill="none" stroke="#ff0000" stroke-width="0.5" stroke-opacity="0.2" stroke-linejoin="miter" stroke-miterlimit="2"/>
<polyline points="298.5,394.6 297.9,398.0 297.4,401.5 297.3,405.0 297.8,408.5 298.6,412.0 299.4,415.5 300.0,419.0 300.1,422.5 299.7,425.9 299.0,429.4 298.5,432.9 299.6,436.5" fill="none" stroke="#ff0000" stroke-width="0.5" stroke-opacity="0.2" stroke-linejoin="miter" stroke-miterlimit="2"/>
<polyline points="297.0,394.6 297.2,398.4 296.4,402.2 295.5,406.0 295.7,409.8 296.8,413.6 297.9,417.4 298.0,421.2 297.1,425.1 296.3,428.9 296.4,432.7 297.5,436.5 299.5,440.5" fill="none" stroke="#ff0000" stroke-width="0.5" stroke-opacity="0.2" stroke-linejoin="miter" stroke-miterlimit="2"/>
<polyline points="193.8,442.5 201.8,581.7" fill="none" stroke="#ff0000" stroke-width="0.5" stroke-opacity="0.45" stroke-linejoin="miter" stroke-miterlimit="2"/>
<polyline points="191.9,440.5 198.7,581.7" fill="none" stroke="#ff0000" stroke-width="0.5" stroke-opacity="0.45" stroke-linejoin="miter" stroke-miterlimit="2"/>
<polyline points="193.2,423.5 201.2,581.7" fill="none" stroke="#ff0000" stroke-width="0.5" stroke-opacity="0.45" stroke-linejoin="miter" stroke-miterlimit="2"/>
<polyline points="197.7,441.5 204.6,581.7" fill="none" stroke="#ff0000" stroke-width="0.5" stroke-opacity="0.45" stroke-linejoin="miter" stroke-miterlimit="2"/>
<polyline points="194.4,436.5 201.6,581.7" fill="none" stroke="#ff0000" stroke-width="0.5" stroke-opacity="0.45" stroke-linejoin="miter" stroke-miterlimit="2"/>
<polyline points="190.9,444.5 198.2,581.7" fill="none" stroke="#ff0000" stroke-width="0.5" stroke-opacity="0.45" stroke-linejoin="miter" stroke-miterlimit="2"/>
<polyline points="198.2,442.5 204.8,581.7" fill="none" stroke="#ff0000" stroke-width="0.5" stroke-opacity="0.45" stroke-linejoin="miter" stroke-miterlimit="2"/>
<polyline points="192.4,447.5 199.4,581.7" fill="none" stroke="#ff0000" stroke-width="0.5" stroke-opacity="0.45" stroke-linejoin="miter" stroke-miterlimit="2"/>
<polyline points="198.9,437.5 205.4,581.7" fill="none" stroke="#ff0000" stroke-width="0.5" stroke-opacity="0.45" stroke-linejoin="miter" stroke-miterlimit="2"/>
<polyline points="196.6,454.5 203.8,581.7" fill="none" stroke="#ff0000" stroke-width="0.5" stroke-opacity="0.45" stroke-linejoin="miter" stroke-miterlimit="2"/>
<polyline points="189.6,439.5 197.6,581.7" fill="none" stroke="#ff0000" stroke-width="0.5" stroke-opacity="0.45" stroke-linejoin="miter" stroke-miterlimit="2"/>
<polyline points="192.6,432.5 200.2,581.7" fill="none" stroke="#ff0000" stroke-width="0.5" stroke-opacity="0.45" stroke-linejoin="miter" stroke-miterlimit="2"/>
<polyline points="196.8,446.5 203.5,581.7" fill="none" stroke="#ff0000" stroke-width="0.5" stroke-opacity="0.45" stroke-linejoin="miter" stroke-miterlimit="2"/>
<polyline points="189.9,444.5 198.1,581.7" fill="none" stroke="#ff0000" stroke-width="0.5" stroke-opacity="0.45" stroke-linejoin="miter" stroke-miterlimit="2"/>
<polyline points="197.8,441.5 204.6,581.7" fill="none" stroke="#ff0000" stroke-width="0.5" stroke-opacity="0.45" stroke-linejoin="miter" stroke-miterlimit="2"/>
<polyline points="196.7,423.5 203.6,581.7" fill="none" stroke="#ff0000" stroke-width="0.5" stroke-opacity="0.45" stroke-linejoin="miter" stroke-miterlimit="2"/>
<polyline points="190.2,448.5 198.6,581.7" fill="none" stroke="#ff0000" stroke-width="0.5" stroke-opacity="0.45" stroke-linejoin="miter" stroke-miterlimit="2"/>
<polyline points="193.7,436.5 201.1,581.7" fill="none" stroke="#ff0000" stroke-width="0.5" stroke-opacity="0.45" stroke-linejoin="miter" stroke-miterlimit="2"/>
<polyline points="191.8,432.5 199.2,581.7" fill="none" stroke="#ff0000" stroke-width="0.5" stroke-opacity="0.45" stroke-linejoin="miter" stroke-miterlimit="2"/>
<polyline points="194.9,448.5 201.6,581.7" fill="none" stroke="#ff0000" stroke-width="0.5" stroke-opacity="0.45" stroke-linejoin="miter" stroke-miterlimit="2"/>
<polyline points="191.9,436.5 199.9,581.7" fill="none" stroke="#ff0000" stroke-width="0.5" stroke-opacity="0.45" stroke-linejoin="miter" stroke-miterlimit="2"/>
<polyline points="194.5,436.5 201.9,581.7" fill="none" stroke="#ff0000" stroke-width="0.5" stroke-opacity="0.45" stroke-linejoin="miter" stroke-miterlimit="2"/>
<polyline points="193.8,439.5 201.9,581.7" fill="none" stroke="#ff0000" stroke-width="0.5" stroke-opacity="0.45" stroke-linejoin="miter" stroke-miterlimit="2"/>
<polyline points="197.6,439.5 204.1,581.7" fill="none" stroke="#ff0000" stroke-width="0.5" stroke-opacity="0.45" stroke-linejoin="miter" stroke-miterlimit="2"/>
<polyline points="198.8,442.5 205.2,581.7" fill="none" stroke="#ff0000" stroke-width="0.5" stroke-opacity="0.45" stroke-linejoin="miter" stroke-miterlimit="2"/>
<polyline points="197.1,436.5 204.2,581.7" fill="none" stroke="#ff0000" stroke-width="0.5" stroke-opacity="0.45" stroke-linejoin="miter" stroke-miterlimit="2"/>
<polyline points="191.6,439.5 198.9,581.7" fill="none" stroke="#ff0000" stroke-width="0.5" stroke-opacity="0.45" stroke-linejoin="miter" stroke-miterlimit="2"/>
<polyline points="196.5,439.5 203.6,581.7" fill="none" stroke="#ff0000" stroke-width="0.5" stroke-opacity="0.45" stroke-linejoin="miter" stroke-miterlimit="2"/>
<polyline points="195.9,439.5 203.0,581.7" fill="none" stroke="#ff0000" stroke-width="0.5" stroke-opacity="0.45" stroke-linejoin="miter" stroke-miterlimit="2"/>
<polyline points="195.8,440.5 203.4,581.7" fill="none" stroke="#ff0000" stroke-width="0.5" stroke-opacity="0.45" stroke-linejoin="miter" stroke-miterlimit="2"/>
<polyline points="199.5,436.5 205.5,581.7" fill="none" stroke="#ff0000" stroke-width="0.5" stroke-opacity="0.45" stroke-linejoin="miter" stroke-miterlimit="2"/>
<polyline points="191.1,447.5 197.7,581.7" fill="none" stroke="#ff0000" stroke-width="0.5" stroke-opacity="0.45" stroke-linejoin="miter" stroke-miterlimit="2"/>
<polyline points="194.9,444.5 202.0,581.7" fill="none" stroke="#ff0000" stroke-width="0.5" stroke-opacity="0.45" stroke-linejoin="miter" stroke-miterlimit="2"/>
<polyline points="194.4,436.5 201.9,581.7" fill="none" stroke="#ff0000" stroke-width="0.5" stroke-opacity="0.45" stroke-linejoin="miter" stroke-miterlimit="2"/>
<polyline points="190.7,432.5 199.0,581.7" fill="none" stroke="#ff0000" stroke-width="0.5" stroke-opacity="0.45" stroke-linejoin="miter" stroke-miterlimit="2"/>
<polyline points="195.6,444.5 203.6,581.7" fill="none" stroke="#ff0000" stroke-width="0.5" stroke-opacity="0.45" stroke-linejoin="miter" stroke-miterlimit="2"/>
<polyline points="191.4,441.5 199.1,581.7" fill="none" stroke="#ff0000" stroke-width="0.5" stroke-opacity="0.45" stroke-linejoin="miter" stroke-miterlimit="2"/>
<polyline points="198.8,454.5 204.7,581.7" fill="none" stroke="#ff0000" stroke-width="0.5" stroke-opacity="0.45" stroke-linejoin="miter" stroke-miterlimit="2"/>
<polyline points="197.9,437.5 204.4,581.7" fill="none" stroke="#ff0000" stroke-width="0.5" stroke-opacity="0.45" stroke-linejoin="miter" stroke-miterlimit="2"/>
<polyline points="196.8,441.5 202.4,581.7" fill="none" stroke="#ff0000" stroke-width="0.5" stroke-opacity="0.45" stroke-linejoin="miter" stroke-miterlimit="2"/>
<polyline points="190.5,441.5 198.6,581.7" fill="none" stroke="#ff0000" stroke-width="0.5" stroke-opacity="0.45" stroke-linejoin="miter" stroke-miterlimit="2"/>
<polyline points="197.0,441.5 203.8,581.7" fill="none" stroke="#ff0000" stroke-width="0.5" stroke-opacity="0.45" stroke-linejoin="miter" stroke-miterlimit="2"/>
<polyline points="191.1,446.5 199.1,581.7" fill="none" stroke="#ff0000" stroke-width="0.5" stroke-opacity="0.45" stroke-linejoin="miter" stroke-miterlimit="2"/>
<polyline points="198.3,441.5 204.6,581.7" fill="none" stroke="#ff0000" stroke-width="0.5" stroke-opacity="0.45" stroke-linejoin="miter" stroke-miterlimit="2"/>
<polyline points="191.5,440.5 199.5,581.7" fill="none" stroke="#ff0000" stroke-width="0.5" stroke-opacity="0.45" stroke-linejoin="miter" stroke-miterlimit="2"/>
<polyline points="193.2,435.5 200.7,581.7" fill="none" stroke="#ff0000" stroke-width="0.5" stroke-opacity="0.45" stroke-linejoin="miter" stroke-miterlimit="2"/>
<polyline points="193.4,430.5 201.0,581.7" fill="none" stroke="#ff0000" stroke-width="0.5" stroke-opacity="0.45" stroke-linejoin="miter" stroke-miterlimit="2"/>
<polyline points="197.7,439.5 204.2,581.7" fill="none" stroke="#ff0000" stroke-width="0.5" stroke-opacity="0.45" stroke-linejoin="miter" stroke-miterlimit="2"/>
<polyline points="191.2,444.5 199.7,581.7" fill="none" stroke="#ff0000" stroke-width="0.5" stroke-opacity="0.45" stroke-linejoin="miter" stroke-miterlimit="2"/>
<polyline points="192.2,444.5 200.2,581.7" fill="none" stroke="#ff0000" stroke-width="0.5" stroke-opacity="0.45" stroke-linejoin="miter" stroke-miterlimit="2"/>
<polyline points="197.3,439.5 204.5,581.7" fill="none" stroke="#ff0000" stroke-width="0.5" stroke-opacity="0.45" stroke-linejoin="miter" stroke-miterlimit="2"/>
<polyline points="193.9,444.5 201.3,581.7" fill="none" stroke="#ff0000" stroke-width="0.5" stroke-opacity="0.45" stroke-linejoin="miter" stroke-miterlimit="2"/>
<polyline points="197.1,435.5 203.9,581.7" fill="none" stroke="#ff0000" stroke-width="0.5" stroke-opacity="0.45" stroke-linejoin="miter" stroke-miterlimit="2"/>
<polyline points="198.7,429.5 205.1,581.7" fill="none" stroke="#ff0000" stroke-width="0.5" stroke-opacity="0.45" stroke-linejoin="miter" stroke-miterlimit="2"/>
<polyline points="193.4,437.5 200.6,581.7" fill="none" stroke="#ff0000" stroke-width="0.5" stroke-opacity="0.45" stroke-linejoin="miter" stroke-miterlimit="2"/>
<polyline points="189.9,437.5 198.9,581.7" fill="none" stroke="#ff0000" stroke-width="0.5" stroke-opacity="0.45" stroke-linejoin="miter" stroke-miterlimit="2"/>
<polyline points="196.7,429.5 203.9,581.7" fill="none" stroke="#ff0000" stroke-width="0.5" stroke-opacity="0.45" stroke-linejoin="miter" stroke-miterlimit="2"/>
<polyline points="195.3,429.5 202.2,581.7" fill="none" stroke="#ff0000" stroke-width="0.5" stroke-opacity="0.45" stroke-linejoin="miter" stroke-miterlimit="2"/>
<polyline points="189.9,433.5 197.2,581.7" fill="none" stroke="#ff0000" stroke-width="0.5" stroke-opacity="0.45" stroke-linejoin="miter" stroke-miterlimit="2"/>
<polyline points="192.8,439.5 201.1,581.7" fill="none" stroke="#ff0000" stroke-width="0.5" stroke-opacity="0.45" stroke-linejoin="miter" stroke-miterlimit="2"/>
<polyline points="199.1,444.5 205.4,581.7" fill="none" stroke="#ff0000" stroke-width="0.5" stroke-opacity="0.45" stroke-linejoin="miter" stroke-miterlimit="2"/>
<polyline points="191.7,429.5 199.6,581.7" fill="none" stroke="#ff0000" stroke-width="0.5" stroke-opacity="0.45" stroke-linejoin="miter" stroke-miterlimit="2"/>
<polyline points="189.1,439.5 197.3,581.7" fill="none" stroke="#ff0000" stroke-width="0.5" stroke-opacity="0.45" stroke-linejoin="miter" stroke-miterlimit="2"/>
<polyline points="190.6,441.5 199.1,581.7" fill="none" stroke="#ff0000" stroke-width="0.5" stroke-opacity="0.45" stroke-linejoin="miter" stroke-miterlimit="2"/>
<polyline points="192.1,433.5 199.9,581.7" fill="none" stroke="#ff0000" stroke-width="0.5" stroke-opacity="0.45" stroke-linejoin="miter" stroke-miterlimit="2"/>
<polyline points="191.1,432.5 198.4,581.7" fill="none" stroke="#ff0000" stroke-width="0.5" stroke-opacity="0.45" stroke-linejoin="miter" stroke-miterlimit="2"/>
<polyline points="196.5,430.5 203.7,581.7" fill="none" stroke="#ff0000" stroke-width="0.5" stroke-opacity="0.45" stroke-linejoin="miter" stroke-miterlimit="2"/>
<polyline points="196.4,442.5 202.9,581.7" fill="none" stroke="#ff0000" stroke-width="0.5" stroke-opacity="0.45" stroke-linejoin="miter" stroke-miterlimit="2"/>
<polyline points="192.6,436.5 200.2,581.7" fill="none" stroke="#ff0000" stroke-width="0.5" stroke-opacity="0.45" stroke-linejoin="miter" stroke-miterlimit="2"/>
<polyline points="198.3,440.5 203.8,581.7" fill="none" stroke="#ff0000" stroke-width="0.5" stroke-opacity="0.45" stroke-linejoin="miter" stroke-miterlimit="2"/>
</g>
<polyline points="80.6,271.5 80.6,328.6" fill="none" stroke="#0000ff" stroke-width="0.8" stroke-opacity="0.3" stroke-linejoin="miter" stroke-miterlimit="2"/>
<polyline points="80.6,423.5 80.6,581.7" fill="none" stroke="#0000ff" stroke-width="0.8" stroke-opacity="0.3" stroke-linejoin="miter" stroke-miterlimit="2"/>
<g clip-path="url(#clipB)">
<polyline points="480.2,21.4 507.0,24.4 518.8,24.4 518.8,29.0 530.4,29.0 531.4,32.5 531.3,32.3 527.5,62.5 528.4,90.0 531.1,140.0 531.9,150.0 534.2,169.4 540.3,182.7 543.0,214.0 546.3,260.0 546.6,263.5 546.3,277.8 538.1,277.8 538.1,278.3 460.6,282.4 428.4,282.4" fill="none" stroke="#0000ff" stroke-width="0.5" stroke-opacity="0.38" stroke-linejoin="miter" stroke-miterlimit="2"/>
<polyline points="476.7,21.4 509.1,26.1 517.5,26.1 517.5,29.6 527.1,29.6 531.4,32.5 531.1,32.3 527.3,62.5 528.2,90.0 530.7,140.5 532.6,143.5 532.9,151.0 534.0,169.4 540.3,185.1 543.0,214.0 546.2,260.0 546.5,263.5 546.1,279.6 536.8,279.6 536.8,279.8 460.6,286.2 428.4,286.2" fill="none" stroke="#0000ff" stroke-width="0.5" stroke-opacity="0.38" stroke-linejoin="miter" stroke-miterlimit="2"/>
<polyline points="479.3,21.4 509.6,25.9 515.5,25.9 515.5,31.6 521.2,31.6 531.4,32.5 531.5,32.3 527.7,62.5 528.6,90.0 531.3,140.0 532.1,150.0 534.4,169.4 540.3,185.4 542.9,214.0 546.3,260.0 546.6,263.5 546.5,278.0 537.2,278.0 537.2,278.5 460.3,281.9 428.4,281.9" fill="none" stroke="#0000ff" stroke-width="0.5" stroke-opacity="0.38" stroke-linejoin="miter" stroke-miterlimit="2"/>
<polyline points="481.2,21.4 507.4,24.5 516.5,24.5 516.5,30.0 528.4,30.0 531.4,32.5 531.3,32.3 527.5,62.5 528.4,90.0 530.9,140.5 532.8,143.5 533.1,151.0 534.2,169.4 539.9,186.6 542.4,214.0 545.9,260.0 546.3,263.5 546.2,277.3 538.2,277.3 538.2,278.1 461.6,281.8 428.4,281.8" fill="none" stroke="#0000ff" stroke-width="0.5" stroke-opacity="0.38" stroke-linejoin="miter" stroke-miterlimit="2"/>
<polyline points="476.9,21.4 507.4,25.8 518.2,25.8 518.2,28.0 528.6,28.0 531.4,32.5 531.8,32.3 528.0,62.5 528.9,90.0 531.4,140.5 533.3,143.5 533.6,151.0 534.7,169.4 539.3,185.2 541.7,214.0 545.8,260.0 546.3,263.5 546.8,277.8 536.9,277.8 536.9,277.9 460.2,282.0 428.4,282.0" fill="none" stroke="#0000ff" stroke-width="0.5" stroke-opacity="0.38" stroke-linejoin="miter" stroke-miterlimit="2"/>
<polyline points="477.3,21.4 508.9,25.9 515.5,25.9 515.5,28.7 527.2,28.7 531.4,32.5 531.3,32.3 527.5,62.5 528.4,90.0 530.9,140.5 532.8,143.5 533.1,151.0 534.2,169.4 539.4,183.0 541.9,214.0 545.7,260.0 546.1,263.5 546.3,278.2 537.4,278.2 537.4,279.2 461.1,283.5 428.4,283.5" fill="none" stroke="#0000ff" stroke-width="0.5" stroke-opacity="0.38" stroke-linejoin="miter" stroke-miterlimit="2"/>
<polyline points="479.9,21.4 507.7,24.6 521.0,24.6 521.0,28.7 525.1,28.7 531.4,32.5 531.4,32.3 527.6,62.5 528.5,90.0 531.0,140.5 532.9,143.5 533.2,151.0 534.3,169.4 539.0,184.1 541.3,214.0 545.5,260.0 545.9,263.5 546.4,277.1 537.6,277.1 537.6,278.2 461.4,283.0 428.4,283.0" fill="none" stroke="#0000ff" stroke-width="0.5" stroke-opacity="0.38" stroke-linejoin="miter" stroke-miterlimit="2"/>
<polyline points="477.0,21.4 513.3,25.4 519.9,25.4 519.9,28.4 529.3,28.4 531.4,32.5 531.3,32.3 527.5,62.5 528.4,90.0 530.9,140.5 532.8,143.5 533.1,151.0 534.2,169.4 539.1,185.9 541.6,214.0 545.5,260.0 545.9,263.5 546.2,278.0 537.2,278.0 537.2,279.1 460.3,284.3 428.4,284.3" fill="none" stroke="#0000ff" stroke-width="0.5" stroke-opacity="0.38" stroke-linejoin="miter" stroke-miterlimit="2"/>
<polyline points="480.7,21.4 512.6,26.3 519.0,26.3 519.0,30.8 526.1,30.8 531.4,32.5 531.1,32.3 527.3,62.5 528.2,90.0 530.9,140.0 531.7,150.0 534.0,169.4 540.3,186.7 542.9,214.0 546.1,260.0 546.5,263.5 546.1,277.7 537.3,277.7 537.3,278.9 461.0,283.1 428.4,283.1" fill="none" stroke="#0000ff" stroke-width="0.5" stroke-opacity="0.38" stroke-linejoin="miter" stroke-miterlimit="2"/>
<polyline points="477.0,21.4 508.3,25.8 516.9,25.8 516.9,31.5 521.7,31.5 531.4,32.5 531.1,32.3 527.3,62.5 528.2,90.0 530.7,140.5 532.6,143.5 532.9,151.0 534.0,169.4 540.2,186.4 542.8,214.0 546.1,260.0 546.4,263.5 546.1,278.0 537.4,278.0 537.4,278.8 460.6,282.5 428.4,282.5" fill="none" stroke="#0000ff" stroke-width="0.5" stroke-opacity="0.38" stroke-linejoin="miter" stroke-miterlimit="2"/>
<polyline points="480.8,21.4 508.6,25.9 515.5,25.9 515.5,31.5 525.9,31.5 531.4,32.5 531.5,32.3 527.7,62.5 528.6,90.0 531.3,140.0 532.1,150.0 534.4,169.4 538.9,184.5 541.3,214.0 545.5,260.0 545.9,263.5 546.5,277.4 537.0,277.4 537.0,278.5 460.8,284.1 428.4,284.1" fill="none" stroke="#0000ff" stroke-width="0.5" stroke-opacity="0.38" stroke-linejoin="miter" stroke-miterlimit="2"/>
<polyline points="477.3,21.4 508.4,26.0 517.5,26.0 517.5,31.8 525.6,31.8 531.4,32.5 531.5,32.3 527.7,62.5 528.6,90.0 531.1,140.5 533.0,143.5 533.3,151.0 534.4,169.4 539.6,185.6 542.0,214.0 545.9,260.0 546.3,263.5 546.5,277.9 537.7,277.9 537.7,278.4 460.7,282.1 428.4,282.1" fill="none" stroke="#0000ff" stroke-width="0.5" stroke-opacity="0.38" stroke-linejoin="miter" stroke-miterlimit="2"/>
<polyline points="477.8,21.4 509.9,23.8 518.4,23.8 518.4,30.0 523.5,30.0 531.4,32.5 531.3,32.3 527.5,62.5 528.4,90.0 531.1,140.0 531.9,150.0 534.2,169.4 539.5,183.1 542.0,214.0 545.7,260.0 546.1,263.5 546.3,278.6 537.1,278.6 537.1,279.7 460.4,285.9 428.4,285.9" fill="none" stroke="#0000ff" stroke-width="0.5" stroke-opacity="0.38" stroke-linejoin="miter" stroke-miterlimit="2"/>
<polyline points="480.9,21.4 511.4,25.7 520.6,25.7 520.6,29.1 524.7,29.1 531.4,32.5 531.7,32.3 527.9,62.5 528.8,90.0 531.5,140.0 532.3,150.0 534.6,169.4 539.3,186.1 541.7,214.0 545.8,260.0 546.2,263.5 546.7,276.9 537.0,276.9 537.0,277.1 461.4,280.6 428.4,280.6" fill="none" stroke="#0000ff" stroke-width="0.5" stroke-opacity="0.38" stroke-linejoin="miter" stroke-miterlimit="2"/>
<polyline points="479.2,21.4 507.3,25.5 520.8,25.5 520.8,29.4 527.3,29.4 531.4,32.5 531.5,32.3 527.7,62.5 528.6,90.0 531.1,140.5 533.0,143.5 533.3,151.0 534.4,169.4 540.4,184.3 543.0,214.0 546.4,260.0 546.7,263.5 546.5,278.4 537.9,278.4 537.9,278.7 460.7,283.4 428.4,283.4" fill="none" stroke="#0000ff" stroke-width="0.5" stroke-opacity="0.38" stroke-linejoin="miter" stroke-miterlimit="2"/>
<polyline points="478.1,21.4 512.1,26.3 519.9,26.3 519.9,30.8 527.5,30.8 531.4,32.5 531.8,32.3 528.0,62.5 528.9,90.0 531.6,140.0 532.4,150.0 534.7,169.4 540.4,185.5 543.0,214.0 546.5,260.0 546.9,263.5 546.7,276.9 538.0,276.9 538.0,277.8 460.8,281.8 428.4,281.8" fill="none" stroke="#0000ff" stroke-width="0.5" stroke-opacity="0.38" stroke-linejoin="miter" stroke-miterlimit="2"/>
<polyline points="476.4,21.4 507.3,24.3 516.1,24.3 516.1,28.7 525.5,28.7 531.4,32.5 531.7,32.3 527.9,62.5 528.8,90.0 531.3,140.5 533.2,143.5 533.5,151.0 534.6,169.4 539.8,184.1 542.3,214.0 546.1,260.0 546.5,263.5 546.7,277.6 538.0,277.6 538.0,278.2 460.8,281.8 428.4,281.8" fill="none" stroke="#0000ff" stroke-width="0.5" stroke-opacity="0.38" stroke-linejoin="miter" stroke-miterlimit="2"/>
<polyline points="480.6,21.4 508.6,23.7 514.7,23.7 514.7,30.4 519.2,30.4 531.4,32.5 531.4,32.3 527.6,62.5 528.5,90.0 531.0,140.5 532.9,143.5 533.2,151.0 534.3,169.4 540.3,182.8 543.0,214.0 546.3,260.0 546.6,263.5 546.4,279.4 538.2,279.4 538.2,280.1 461.5,286.2 428.4,286.2" fill="none" stroke="#0000ff" stroke-width="0.5" stroke-opacity="0.38" stroke-linejoin="miter" stroke-miterlimit="2"/>
<polyline points="481.8,21.4 507.3,24.0 514.2,24.0 514.2,31.0 524.2,31.0 531.4,32.5 531.5,32.3 527.7,62.5 528.6,90.0 531.1,140.5 533.0,143.5 533.3,151.0 534.4,169.4 541.0,186.0 543.8,214.0 546.7,260.0 547.0,263.5 546.5,278.8 536.9,278.8 536.9,279.2 461.8,283.2 428.4,283.2" fill="none" stroke="#0000ff" stroke-width="0.5" stroke-opacity="0.38" stroke-linejoin="miter" stroke-miterlimit="2"/>
<polyline points="477.3,21.4 511.5,25.0 518.8,25.0 518.8,31.8 525.9,31.8 531.4,32.5 531.7,32.3 527.9,62.5 528.8,90.0 531.5,140.0 532.3,150.0 534.6,169.4 539.0,183.6 541.2,214.0 545.6,260.0 546.1,263.5 546.7,278.0 537.2,278.0 537.2,278.4 461.6,282.4 428.4,282.4" fill="none" stroke="#0000ff" stroke-width="0.5" stroke-opacity="0.38" stroke-linejoin="miter" stroke-miterlimit="2"/>
<polyline points="478.9,21.4 507.4,25.0 519.5,25.0 519.5,28.2 523.8,28.2 531.4,32.5 531.4,32.3 527.6,62.5 528.5,90.0 531.2,140.0 532.0,150.0 534.3,169.4 539.7,184.1 542.2,214.0 545.9,260.0 546.3,263.5 546.4,278.2 536.9,278.2 536.9,279.2 461.0,283.4 428.4,283.4" fill="none" stroke="#0000ff" stroke-width="0.5" stroke-opacity="0.38" stroke-linejoin="miter" stroke-miterlimit="2"/>
<polyline points="478.6,21.4 507.9,24.3 515.6,24.3 515.6,30.4 519.6,30.4 531.4,32.5 531.2,32.3 527.4,62.5 528.3,90.0 531.0,140.0 531.8,150.0 534.1,169.4 539.5,184.9 542.0,214.0 545.7,260.0 546.1,263.5 546.2,278.2 538.1,278.2 538.1,279.0 461.5,283.7 428.4,283.7" fill="none" stroke="#0000ff" stroke-width="0.5" stroke-opacity="0.38" stroke-linejoin="miter" stroke-miterlimit="2"/>
<polyline points="481.2,21.4 507.9,25.1 515.4,25.1 515.4,30.0 525.8,30.0 531.4,32.5 531.5,32.3 527.7,62.5 528.6,90.0 531.3,140.0 532.1,150.0 534.4,169.4 539.0,184.5 541.3,214.0 545.5,260.0 546.0,263.5 546.5,277.9 537.5,277.9 537.5,279.1 461.6,283.4 428.4,283.4" fill="none" stroke="#0000ff" stroke-width="0.5" stroke-opacity="0.38" stroke-linejoin="miter" stroke-miterlimit="2"/>
<polyline points="480.1,21.4 512.9,26.0 515.6,26.0 515.6,27.9 522.4,27.9 531.4,32.5 531.5,32.3 527.7,62.5 528.6,90.0 531.3,140.0 532.1,150.0 534.4,169.4 539.4,183.5 541.8,214.0 545.7,260.0 546.2,263.5 546.5,278.4 537.1,278.4 537.1,278.8 461.2,283.6 428.4,283.6" fill="none" stroke="#0000ff" stroke-width="0.5" stroke-opacity="0.38" stroke-linejoin="miter" stroke-miterlimit="2"/>
<polyline points="478.7,21.4 506.3,25.5 519.4,25.5 519.4,31.1 527.4,31.1 531.4,32.5 531.1,32.3 527.3,62.5 528.2,90.0 530.7,140.5 532.6,143.5 532.9,151.0 534.0,169.4 539.6,183.8 542.1,214.0 545.7,260.0 546.1,263.5 546.1,277.6 537.9,277.6 537.9,278.3 460.6,281.8 428.4,281.8" fill="none" stroke="#0000ff" stroke-width="0.5" stroke-opacity="0.38" stroke-linejoin="miter" stroke-miterlimit="2"/>
<polyline points="479.1,21.4 509.9,25.1 518.7,25.1 518.7,29.3 525.0,29.3 531.4,32.5 531.6,32.3 527.8,62.5 528.7,90.0 531.4,140.0 532.2,150.0 534.5,169.4 539.6,182.7 542.0,214.0 545.9,260.0 546.4,263.5 546.6,277.9 536.8,277.9 536.8,278.1 460.5,281.4 428.4,281.4" fill="none" stroke="#0000ff" stroke-width="0.5" stroke-opacity="0.38" stroke-linejoin="miter" stroke-miterlimit="2"/>
<polyline points="481.0,21.4 513.6,23.8 517.3,23.8 517.3,28.0 526.2,28.0 531.4,32.5 531.0,32.3 527.2,62.5 528.1,90.0 530.8,140.0 531.6,150.0 533.9,169.4 539.2,183.4 541.7,214.0 545.5,260.0 545.9,263.5 546.0,277.5 537.0,277.5 537.0,278.7 460.4,283.7 428.4,283.7" fill="none" stroke="#0000ff" stroke-width="0.5" stroke-opacity="0.38" stroke-linejoin="miter" stroke-miterlimit="2"/>
<polyline points="476.9,21.4 509.9,25.0 520.9,25.0 520.9,32.0 529.3,32.0 531.4,32.5 531.9,32.3 528.1,62.5 529.0,90.0 531.5,140.5 533.4,143.5 533.7,151.0 534.8,169.4 539.9,184.4 542.4,214.0 546.2,260.0 546.6,263.5 546.9,277.7 537.8,277.7 537.8,278.2 460.6,282.1 428.4,282.1" fill="none" stroke="#0000ff" stroke-width="0.5" stroke-opacity="0.38" stroke-linejoin="miter" stroke-miterlimit="2"/>
<polyline points="479.2,21.4 507.2,26.0 514.8,26.0 514.8,31.7 525.7,31.7 531.4,32.5 531.2,32.3 527.4,62.5 528.3,90.0 530.8,140.5 532.7,143.5 533.0,151.0 534.1,169.4 539.8,185.7 542.3,214.0 545.8,260.0 546.2,263.5 546.1,278.4 537.2,278.4 537.2,279.5 461.0,284.7 428.4,284.7" fill="none" stroke="#0000ff" stroke-width="0.5" stroke-opacity="0.38" stroke-linejoin="miter" stroke-miterlimit="2"/>
<polyline points="480.0,21.4 511.5,26.4 520.5,26.4 520.5,27.7 526.6,27.7 531.4,32.5 531.2,32.3 527.4,62.5 528.3,90.0 531.0,140.0 531.8,150.0 534.1,169.4 539.3,186.2 541.8,214.0 545.6,260.0 546.0,263.5 546.2,277.8 537.6,277.8 537.6,278.1 460.9,281.9 428.4,281.9" fill="none" stroke="#0000ff" stroke-width="0.5" stroke-opacity="0.38" stroke-linejoin="miter" stroke-miterlimit="2"/>
<polyline points="481.1,21.4 510.7,25.7 517.5,25.7 517.5,31.5 527.9,31.5 531.4,32.5 531.8,32.3 528.0,62.5 528.9,90.0 531.6,140.0 532.4,150.0 534.7,169.4 540.9,185.3 543.6,214.0 546.8,260.0 547.1,263.5 546.8,277.3 538.1,277.3 538.1,278.4 461.6,281.2 428.4,281.2" fill="none" stroke="#0000ff" stroke-width="0.5" stroke-opacity="0.38" stroke-linejoin="miter" stroke-miterlimit="2"/>
<polyline points="478.4,21.4 512.8,24.5 519.0,24.5 519.0,28.5 524.6,28.5 531.4,32.5 531.7,32.3 527.9,62.5 528.8,90.0 531.3,140.5 533.2,143.5 533.5,151.0 534.6,169.4 539.5,183.7 541.9,214.0 545.9,260.0 546.3,263.5 546.7,278.2 537.4,278.2 537.4,279.0 460.6,283.3 428.4,283.3" fill="none" stroke="#0000ff" stroke-width="0.5" stroke-opacity="0.38" stroke-linejoin="miter" stroke-miterlimit="2"/>
<polyline points="480.0,21.4 509.6,25.5 521.7,25.5 521.7,27.9 527.9,27.9 531.4,32.5 531.3,32.3 527.5,62.5 528.4,90.0 531.1,140.0 531.9,150.0 534.2,169.4 539.6,186.8 542.1,214.0 545.8,260.0 546.2,263.5 546.3,276.9 538.0,276.9 538.0,277.9 461.2,282.4 428.4,282.4" fill="none" stroke="#0000ff" stroke-width="0.5" stroke-opacity="0.38" stroke-linejoin="miter" stroke-miterlimit="2"/>
<polyline points="480.4,21.4 508.2,26.4 515.3,26.4 515.3,30.9 523.5,30.9 531.4,32.5 531.8,32.3 528.0,62.5 528.9,90.0 531.6,140.0 532.4,150.0 534.7,169.4 540.5,182.6 543.1,214.0 546.5,260.0 546.9,263.5 546.7,276.9 537.3,276.9 537.3,277.3 460.4,281.8 428.4,281.8" fill="none" stroke="#0000ff" stroke-width="0.5" stroke-opacity="0.38" stroke-linejoin="miter" stroke-miterlimit="2"/>
<polyline points="478.0,21.4 511.0,26.3 516.1,26.3 516.1,30.0 526.0,30.0 531.4,32.5 531.7,32.3 527.9,62.5 528.8,90.0 531.3,140.5 533.2,143.5 533.5,151.0 534.6,169.4 539.1,185.9 541.5,214.0 545.7,260.0 546.1,263.5 546.7,278.1 537.2,278.1 537.2,278.5 461.5,283.6 428.4,283.6" fill="none" stroke="#0000ff" stroke-width="0.5" stroke-opacity="0.38" stroke-linejoin="miter" stroke-miterlimit="2"/>
<polyline points="479.7,21.4 508.2,25.2 520.8,25.2 520.8,29.4 530.9,29.4 531.4,32.5 531.3,32.3 527.5,62.5 528.4,90.0 531.1,140.0 531.9,150.0 534.2,169.4 539.8,183.9 542.3,214.0 545.9,260.0 546.3,263.5 546.3,277.4 537.7,277.4 537.7,278.4 461.4,281.8 428.4,281.8" fill="none" stroke="#0000ff" stroke-width="0.5" stroke-opacity="0.38" stroke-linejoin="miter" stroke-miterlimit="2"/>
<polyline points="478.3,21.4 508.6,24.2 518.5,24.2 518.5,30.5 523.5,30.5 531.4,32.5 531.4,32.3 527.6,62.5 528.5,90.0 531.2,140.0 532.0,150.0 534.3,169.4 539.5,185.9 542.0,214.0 545.8,260.0 546.2,263.5 546.4,278.0 536.9,278.0 536.9,279.0 460.5,283.8 428.4,283.8" fill="none" stroke="#0000ff" stroke-width="0.5" stroke-opacity="0.38" stroke-linejoin="miter" stroke-miterlimit="2"/>
<polyline points="477.9,21.4 510.5,25.6 519.6,25.6 519.6,28.4 531.4,28.4 531.4,32.5 531.7,32.3 527.9,62.5 528.8,90.0 531.5,140.0 532.3,150.0 534.6,169.4 540.0,183.5 542.5,214.0 546.2,260.0 546.6,263.5 546.7,277.5 537.0,277.5 537.0,278.1 461.4,283.1 428.4,283.1" fill="none" stroke="#0000ff" stroke-width="0.5" stroke-opacity="0.38" stroke-linejoin="miter" stroke-miterlimit="2"/>
<polyline points="482.2,21.4 509.5,25.6 519.9,25.6 519.9,32.0 526.3,32.0 531.4,32.5 531.5,32.3 527.7,62.5 528.6,90.0 531.1,140.5 533.0,143.5 533.3,151.0 534.4,169.4 540.2,184.9 542.8,214.0 546.3,260.0 546.6,263.5 546.5,279.2 538.1,279.2 538.1,279.2 460.2,283.5 428.4,283.5" fill="none" stroke="#0000ff" stroke-width="0.5" stroke-opacity="0.38" stroke-linejoin="miter" stroke-miterlimit="2"/>
<polyline points="477.2,21.4 513.3,25.6 518.8,25.6 518.8,29.8 522.4,29.8 531.4,32.5 531.4,32.3 527.6,62.5 528.5,90.0 531.0,140.5 532.9,143.5 533.2,151.0 534.3,169.4 538.9,185.6 541.2,214.0 545.4,260.0 545.9,263.5 546.4,278.2 537.7,278.2 537.7,278.5 461.8,283.5 428.4,283.5" fill="none" stroke="#0000ff" stroke-width="0.5" stroke-opacity="0.38" stroke-linejoin="miter" stroke-miterlimit="2"/>
<polyline points="479.9,21.4 512.4,25.0 514.6,25.0 514.6,30.5 518.1,30.5 531.4,32.5 531.7,32.3 527.9,62.5 528.8,90.0 531.5,140.0 532.3,150.0 534.6,169.4 539.6,186.2 542.0,214.0 545.9,260.0 546.4,263.5 546.7,279.3 537.9,279.3 537.9,280.0 460.2,286.0 428.4,286.0" fill="none" stroke="#0000ff" stroke-width="0.5" stroke-opacity="0.38" stroke-linejoin="miter" stroke-miterlimit="2"/>
<polyline points="481.3,21.4 511.7,25.9 514.2,25.9 514.2,31.9 523.4,31.9 531.4,32.5 531.2,32.3 527.4,62.5 528.3,90.0 531.0,140.0 531.8,150.0 534.1,169.4 539.8,183.9 542.4,214.0 545.9,260.0 546.3,263.5 546.2,276.9 537.8,276.9 537.8,277.6 460.5,281.7 428.4,281.7" fill="none" stroke="#0000ff" stroke-width="0.5" stroke-opacity="0.38" stroke-linejoin="miter" stroke-miterlimit="2"/>
<polyline points="481.9,21.4 509.3,25.4 521.3,25.4 521.3,30.1 530.5,30.1 531.4,32.5 531.5,32.3 527.7,62.5 528.6,90.0 531.3,140.0 532.1,150.0 534.4,169.4 539.5,185.2 541.9,214.0 545.8,260.0 546.2,263.5 546.5,276.9 537.5,276.9 537.5,277.1 460.3,282.3 428.4,282.3" fill="none" stroke="#0000ff" stroke-width="0.5" stroke-opacity="0.38" stroke-linejoin="miter" stroke-miterlimit="2"/>
<polyline points="478.8,21.4 511.5,23.8 517.6,23.8 517.6,29.0 527.1,29.0 531.4,32.5 531.5,32.3 527.7,62.5 528.6,90.0 531.3,140.0 532.1,150.0 534.4,169.4 540.9,184.2 543.7,214.0 546.7,260.0 547.0,263.5 546.5,277.2 537.0,277.2 537.0,278.2 461.5,282.8 428.4,282.8" fill="none" stroke="#0000ff" stroke-width="0.5" stroke-opacity="0.38" stroke-linejoin="miter" stroke-miterlimit="2"/>
<polyline points="477.6,21.4 507.6,24.6 515.8,24.6 515.8,31.2 522.2,31.2 531.4,32.5 531.5,32.3 527.7,62.5 528.6,90.0 531.3,140.0 532.1,150.0 534.4,169.4 540.0,185.4 542.6,214.0 546.1,260.0 546.5,263.5 546.4,278.6 537.1,278.6 537.1,279.6 461.2,284.5 428.4,284.5" fill="none" stroke="#0000ff" stroke-width="0.5" stroke-opacity="0.38" stroke-linejoin="miter" stroke-miterlimit="2"/>
<polyline points="479.1,21.4 511.9,24.3 514.6,24.3 514.6,31.9 521.7,31.9 531.4,32.5 531.9,32.3 528.1,62.5 529.0,90.0 531.7,140.0 532.5,150.0 534.8,169.4 540.0,184.4 542.5,214.0 546.3,260.0 546.7,263.5 546.9,279.9 536.8,279.9 536.8,280.2 460.8,284.6 428.4,284.6" fill="none" stroke="#0000ff" stroke-width="0.5" stroke-opacity="0.38" stroke-linejoin="miter" stroke-miterlimit="2"/>
<polyline points="479.2,21.4 510.1,26.3 521.6,26.3 521.6,28.6 529.0,28.6 531.4,32.5 531.5,32.3 527.7,62.5 528.6,90.0 531.3,140.0 532.1,150.0 534.4,169.4 539.6,184.3 542.1,214.0 545.9,260.0 546.3,263.5 546.5,277.5 536.7,277.5 536.7,278.4 461.2,281.4 428.4,281.4" fill="none" stroke="#0000ff" stroke-width="0.5" stroke-opacity="0.38" stroke-linejoin="miter" stroke-miterlimit="2"/>
<polyline points="482.0,21.4 509.3,26.4 514.4,26.4 514.4,28.8 525.6,28.8 531.4,32.5 531.4,32.3 527.6,62.5 528.5,90.0 531.0,140.5 532.9,143.5 533.2,151.0 534.3,169.4 540.4,185.5 543.0,214.0 546.3,260.0 546.7,263.5 546.4,276.9 538.0,276.9 538.0,277.5 460.2,282.5 428.4,282.5" fill="none" stroke="#0000ff" stroke-width="0.5" stroke-opacity="0.38" stroke-linejoin="miter" stroke-miterlimit="2"/>
<polyline points="482.1,21.4 512.3,25.4 515.9,25.4 515.9,28.4 522.7,28.4 531.4,32.5 531.2,32.3 527.4,62.5 528.3,90.0 531.0,140.0 531.8,150.0 534.1,169.4 539.8,186.4 542.4,214.0 545.9,260.0 546.3,263.5 546.2,278.6 537.8,278.6 537.8,279.5 461.7,284.8 428.4,284.8" fill="none" stroke="#0000ff" stroke-width="0.5" stroke-opacity="0.38" stroke-linejoin="miter" stroke-miterlimit="2"/>
<polyline points="479.9,21.4 512.8,24.3 521.0,24.3 521.0,31.4 529.3,31.4 531.4,32.5 531.0,32.3 527.2,62.5 528.1,90.0 530.8,140.0 531.6,150.0 533.9,169.4 539.4,185.8 541.9,214.0 545.6,260.0 545.9,263.5 546.0,278.1 537.2,278.1 537.2,279.1 461.4,284.1 428.4,284.1" fill="none" stroke="#0000ff" stroke-width="0.5" stroke-opacity="0.38" stroke-linejoin="miter" stroke-miterlimit="2"/>
<polyline points="477.7,21.4 512.4,24.7 520.4,24.7 520.4,30.9 524.3,30.9 531.4,32.5 531.2,32.3 527.4,62.5 528.3,90.0 531.0,140.0 531.8,150.0 534.1,169.4 539.4,183.2 541.9,214.0 545.7,260.0 546.1,263.5 546.2,279.7 537.7,279.7 537.7,279.9 460.5,286.2 428.4,286.2" fill="none" stroke="#0000ff" stroke-width="0.5" stroke-opacity="0.38" stroke-linejoin="miter" stroke-miterlimit="2"/>
<polyline points="480.0,21.4 506.7,25.7 514.4,25.7 514.4,27.8 522.0,27.8 531.4,32.5 531.9,32.3 528.1,62.5 529.0,90.0 531.7,140.0 532.5,150.0 534.8,169.4 541.0,186.1 543.7,214.0 546.9,260.0 547.2,263.5 546.9,279.2 537.2,279.2 537.2,279.6 460.9,285.6 428.4,285.6" fill="none" stroke="#0000ff" stroke-width="0.5" stroke-opacity="0.38" stroke-linejoin="miter" stroke-miterlimit="2"/>
<polyline points="476.8,21.4 509.2,25.8 514.8,25.8 514.8,29.6 526.4,29.6 531.4,32.5 531.3,32.3 527.5,62.5 528.4,90.0 531.1,140.0 531.9,150.0 534.2,169.4 540.1,183.2 542.7,214.0 546.1,260.0 546.5,263.5 546.3,278.0 537.8,278.0 537.8,278.1 460.4,282.4 428.4,282.4" fill="none" stroke="#0000ff" stroke-width="0.5" stroke-opacity="0.38" stroke-linejoin="miter" stroke-miterlimit="2"/>
<polyline points="480.8,21.4 508.7,24.5 515.5,24.5 515.5,28.3 522.3,28.3 531.4,32.5 531.1,32.3 527.3,62.5 528.2,90.0 530.9,140.0 531.7,150.0 534.0,169.4 539.9,183.3 542.6,214.0 546.0,260.0 546.3,263.5 546.1,277.7 538.0,277.7 538.0,277.8 460.2,280.6 428.4,280.6" fill="none" stroke="#0000ff" stroke-width="0.5" stroke-opacity="0.38" stroke-linejoin="miter" stroke-miterlimit="2"/>
<polyline points="480.8,21.4 511.4,23.9 519.2,23.9 519.2,32.0 522.7,32.0 531.4,32.5 531.6,32.3 527.8,62.5 528.7,90.0 531.4,140.0 532.2,150.0 534.5,169.4 540.9,185.5 543.6,214.0 546.7,260.0 547.0,263.5 546.6,278.1 538.0,278.1 538.0,279.2 461.1,285.4 428.4,285.4" fill="none" stroke="#0000ff" stroke-width="0.5" stroke-opacity="0.38" stroke-linejoin="miter" stroke-miterlimit="2"/>
<polyline points="482.1,21.4 511.6,24.6 515.0,24.6 515.0,29.2 526.2,29.2 531.4,32.5 530.9,32.3 527.1,62.5 528.0,90.0 530.5,140.5 532.4,143.5 532.7,151.0 533.8,169.4 539.8,185.8 542.4,214.0 545.8,260.0 546.1,263.5 545.9,276.9 537.0,276.9 537.0,277.8 461.1,283.1 428.4,283.1" fill="none" stroke="#0000ff" stroke-width="0.5" stroke-opacity="0.38" stroke-linejoin="miter" stroke-miterlimit="2"/>
<polyline points="479.3,21.4 513.2,24.1 521.2,24.1 521.2,27.6 532.8,27.6 531.4,32.5 531.2,32.3 527.4,62.5 528.3,90.0 531.0,140.0 531.8,150.0 534.1,169.4 538.2,185.2 540.4,214.0 544.9,260.0 545.4,263.5 546.2,277.4 538.1,277.4 538.1,277.8 460.4,283.4 428.4,283.4" fill="none" stroke="#0000ff" stroke-width="0.5" stroke-opacity="0.38" stroke-linejoin="miter" stroke-miterlimit="2"/>
<polyline points="482.3,21.4 508.7,24.9 520.1,24.9 520.1,30.6 525.3,30.6 531.4,32.5 531.6,32.3 527.8,62.5 528.7,90.0 531.4,140.0 532.2,150.0 534.5,169.4 540.0,184.1 542.6,214.0 546.2,260.0 546.6,263.5 546.6,279.3 536.9,279.3 536.9,280.1 461.2,285.5 428.4,285.5" fill="none" stroke="#0000ff" stroke-width="0.5" stroke-opacity="0.38" stroke-linejoin="miter" stroke-miterlimit="2"/>
<polyline points="480.3,21.4 511.9,24.4 521.6,24.4 521.6,30.2 525.9,30.2 531.4,32.5 532.0,32.3 528.2,62.5 529.1,90.0 531.8,140.0 532.6,150.0 534.9,169.4 539.3,184.5 541.6,214.0 545.9,260.0 546.4,263.5 547.0,276.9 537.3,276.9 537.3,277.4 461.6,282.0 428.4,282.0" fill="none" stroke="#0000ff" stroke-width="0.5" stroke-opacity="0.38" stroke-linejoin="miter" stroke-miterlimit="2"/>
<polyline points="481.1,21.4 507.2,24.1 515.8,24.1 515.8,27.8 519.3,27.8 531.4,32.5 531.2,32.3 527.4,62.5 528.3,90.0 531.0,140.0 531.8,150.0 534.1,169.4 539.4,183.1 541.9,214.0 545.7,260.0 546.1,263.5 546.2,277.8 536.7,277.8 536.7,278.6 461.7,283.6 428.4,283.6" fill="none" stroke="#0000ff" stroke-width="0.5" stroke-opacity="0.38" stroke-linejoin="miter" stroke-miterlimit="2"/>
<polyline points="514.3,21.4 577.6,25.6 590.5,25.6 590.5,30.5 599.1,30.5 600.1,32.5 609.0,32.5 609.5,32.3 604.4,60.0 609.7,90.0 620.1,140.0 621.5,150.0 625.8,169.4 633.6,182.7 639.6,214.0 650.1,260.0 651.4,263.5 652.2,277.9 635.2,277.9 635.2,278.2 595.7,282.1 555.5,282.1 560.3,304.7 542.2,304.7" fill="none" stroke="#ff0000" stroke-width="0.5" stroke-opacity="0.38" stroke-linejoin="miter" stroke-miterlimit="2"/>
<polyline points="514.7,21.4 583.3,25.2 583.5,25.2 583.5,31.4 597.0,31.4 586.6,32.5 609.0,32.5 608.8,32.3 603.7,60.0 609.0,90.0 619.4,140.0 620.8,150.0 625.1,169.4 632.1,185.1 637.9,214.0 649.0,260.0 650.3,263.5 651.5,276.8 635.0,276.8 635.0,276.9 595.6,281.1 555.9,281.1 560.7,305.0 544.2,305.0" fill="none" stroke="#ff0000" stroke-width="0.5" stroke-opacity="0.38" stroke-linejoin="miter" stroke-miterlimit="2"/>
<polyline points="513.6,21.4 584.0,26.7 588.2,26.7 588.2,31.3 597.4,31.3 599.4,32.5 609.0,32.5 608.9,32.3 603.8,60.0 609.1,90.0 619.5,140.0 620.9,150.0 625.2,169.4 635.0,185.4 641.4,214.0 650.8,260.0 651.9,263.5 651.6,277.4 634.5,277.4 634.5,277.4 596.0,282.9 555.7,282.9 560.4,305.0 545.0,305.0" fill="none" stroke="#ff0000" stroke-width="0.5" stroke-opacity="0.38" stroke-linejoin="miter" stroke-miterlimit="2"/>
<polyline points="516.4,21.4 581.1,25.6 582.5,25.6 582.5,29.5 590.4,29.5 595.0,32.5 609.0,32.5 609.8,32.3 604.7,60.0 610.0,90.0 620.4,140.0 621.8,150.0 626.1,169.4 636.0,186.6 642.5,214.0 651.7,260.0 652.8,263.5 652.4,277.9 634.8,277.9 634.8,278.5 595.8,283.5 556.0,283.5 559.7,299.5 540.5,299.5" fill="none" stroke="#ff0000" stroke-width="0.5" stroke-opacity="0.38" stroke-linejoin="miter" stroke-miterlimit="2"/>
<polyline points="513.9,21.4 583.7,23.7 587.3,23.7 587.3,31.8 597.7,31.8 593.3,32.5 609.0,32.5 607.7,32.3 602.6,60.0 607.9,90.0 618.1,140.5 620.3,143.5 621.3,151.0 624.0,169.4 634.0,185.2 640.5,214.0 649.7,260.0 650.8,263.5 650.3,279.1 634.3,279.1 634.3,279.8 596.2,284.0 556.2,284.0 560.7,303.3 546.9,303.3" fill="none" stroke="#ff0000" stroke-width="0.5" stroke-opacity="0.38" stroke-linejoin="miter" stroke-miterlimit="2"/>
<polyline points="514.6,21.4 576.7,24.7 585.2,24.7 585.2,28.7 598.3,28.7 589.8,32.5 609.0,32.5 608.5,32.3 603.4,60.0 608.7,90.0 619.1,140.0 620.5,150.0 624.8,169.4 634.2,183.0 640.6,214.0 650.1,260.0 651.3,263.5 651.2,277.6 634.8,277.6 634.8,277.9 596.1,281.9 556.1,281.9 559.4,297.4 546.5,297.4" fill="none" stroke="#ff0000" stroke-width="0.5" stroke-opacity="0.38" stroke-linejoin="miter" stroke-miterlimit="2"/>
<polyline points="513.4,21.4 578.4,25.5 582.8,25.5 582.8,29.6 589.5,29.6 588.5,32.5 609.0,32.5 608.8,32.3 603.7,60.0 609.0,90.0 619.2,140.5 621.4,143.5 622.4,151.0 625.1,169.4 635.0,184.1 641.4,214.0 650.7,260.0 651.8,263.5 651.5,278.7 633.7,278.7 633.7,279.1 596.1,283.5 555.7,283.5 561.3,309.0 547.3,309.0" fill="none" stroke="#ff0000" stroke-width="0.5" stroke-opacity="0.38" stroke-linejoin="miter" stroke-miterlimit="2"/>
<polyline points="510.4,21.4 582.7,25.9 591.3,25.9 591.3,29.5 597.8,29.5 594.8,32.5 609.0,32.5 608.7,32.3 603.6,60.0 608.9,90.0 619.3,140.0 620.7,150.0 625.0,169.4 632.9,185.9 638.9,214.0 649.4,260.0 650.6,263.5 651.3,276.9 634.4,276.9 634.4,278.0 596.2,282.5 555.9,282.5 560.7,304.9 540.9,304.9" fill="none" stroke="#ff0000" stroke-width="0.5" stroke-opacity="0.38" stroke-linejoin="miter" stroke-miterlimit="2"/>
<polyline points="512.5,21.4 579.3,24.4 584.4,24.4 584.4,28.3 591.1,28.3 589.1,32.5 609.0,32.5 609.0,32.3 603.9,60.0 609.2,90.0 619.4,140.5 621.6,143.5 622.6,151.0 625.3,169.4 633.6,186.7 639.7,214.0 649.9,260.0 651.2,263.5 651.6,276.8 634.6,276.8 634.6,277.2 595.6,280.7 555.5,280.7 560.9,308.0 544.4,308.0" fill="none" stroke="#ff0000" stroke-width="0.5" stroke-opacity="0.38" stroke-linejoin="miter" stroke-miterlimit="2"/>
<polyline points="516.3,21.4 580.5,23.8 583.3,23.8 583.3,31.1 592.2,31.1 591.5,32.5 609.0,32.5 609.6,32.3 604.5,60.0 609.8,90.0 620.0,140.5 622.2,143.5 623.2,151.0 625.9,169.4 635.1,186.4 641.4,214.0 651.1,260.0 652.3,263.5 652.3,278.3 635.0,278.3 635.0,278.4 595.9,282.5 556.2,282.5 562.2,311.0 545.3,311.0" fill="none" stroke="#ff0000" stroke-width="0.5" stroke-opacity="0.38" stroke-linejoin="miter" stroke-miterlimit="2"/>
<polyline points="513.9,21.4 576.6,24.1 590.3,24.1 590.3,29.3 595.2,29.3 598.6,32.5 609.0,32.5 608.2,32.3 603.1,60.0 608.4,90.0 618.8,140.0 620.2,150.0 624.5,169.4 632.8,184.5 638.9,214.0 649.2,260.0 650.4,263.5 650.9,276.8 634.5,276.8 634.5,276.9 596.1,281.3 555.4,281.3 560.7,307.6 540.8,307.6" fill="none" stroke="#ff0000" stroke-width="0.5" stroke-opacity="0.38" stroke-linejoin="miter" stroke-miterlimit="2"/>
<polyline points="516.1,21.4 579.8,24.5 589.8,24.5 589.8,30.5 596.4,30.5 596.9,32.5 609.0,32.5 608.7,32.3 603.6,60.0 608.9,90.0 619.1,140.5 621.3,143.5 622.3,151.0 625.0,169.4 633.9,185.6 640.2,214.0 650.1,260.0 651.2,263.5 651.4,277.5 634.7,277.5 634.7,277.5 595.0,282.5 556.0,282.5 560.3,302.6 543.9,302.6" fill="none" stroke="#ff0000" stroke-width="0.5" stroke-opacity="0.38" stroke-linejoin="miter" stroke-miterlimit="2"/>
<polyline points="512.8,21.4 577.4,23.9 593.5,23.9 593.5,31.6 603.3,31.6 605.8,32.5 609.0,32.5 609.1,32.3 604.0,60.0 609.3,90.0 619.5,140.5 621.7,143.5 622.7,151.0 625.4,169.4 636.3,183.1 642.9,214.0 651.6,260.0 652.7,263.5 651.8,277.7 634.9,277.7 634.9,278.6 594.9,284.2 556.1,284.2 561.9,310.2 540.9,310.2" fill="none" stroke="#ff0000" stroke-width="0.5" stroke-opacity="0.38" stroke-linejoin="miter" stroke-miterlimit="2"/>
<polyline points="510.5,21.4 576.9,25.5 591.6,25.5 591.6,28.5 596.8,28.5 601.3,32.5 609.0,32.5 608.4,32.3 603.3,60.0 608.6,90.0 618.8,140.5 621.0,143.5 622.0,151.0 624.7,169.4 632.7,186.1 638.7,214.0 649.2,260.0 650.4,263.5 651.1,278.5 635.2,278.5 635.2,278.8 595.8,282.5 556.0,282.5 560.4,303.3 543.4,303.3" fill="none" stroke="#ff0000" stroke-width="0.5" stroke-opacity="0.38" stroke-linejoin="miter" stroke-miterlimit="2"/>
<polyline points="510.5,21.4 579.7,25.5 593.8,25.5 593.8,29.4 597.4,29.4 598.6,32.5 609.0,32.5 608.2,32.3 603.1,60.0 608.4,90.0 618.6,140.5 620.8,143.5 621.8,151.0 624.5,169.4 632.8,184.3 638.9,214.0 649.1,260.0 650.4,263.5 650.9,277.9 633.5,277.9 633.5,278.4 595.8,284.2 555.8,284.2 560.7,305.8 542.5,305.8" fill="none" stroke="#ff0000" stroke-width="0.5" stroke-opacity="0.38" stroke-linejoin="miter" stroke-miterlimit="2"/>
<polyline points="513.1,21.4 579.6,23.5 588.8,23.5 588.8,31.7 595.5,31.7 593.9,32.5 609.0,32.5 608.5,32.3 603.4,60.0 608.7,90.0 619.1,140.0 620.5,150.0 624.8,169.4 634.3,185.5 640.7,214.0 650.2,260.0 651.3,263.5 651.2,277.6 633.8,277.6 633.8,277.9 596.4,281.8 556.0,281.8 560.2,301.9 544.6,301.9" fill="none" stroke="#ff0000" stroke-width="0.5" stroke-opacity="0.38" stroke-linejoin="miter" stroke-miterlimit="2"/>
<polyline points="515.7,21.4 581.1,24.2 593.1,24.2 593.1,30.3 598.6,30.3 600.0,32.5 609.0,32.5 609.0,32.3 603.9,60.0 609.2,90.0 619.6,140.0 621.0,150.0 625.3,169.4 633.3,184.1 639.3,214.0 649.8,260.0 651.0,263.5 651.7,279.1 633.8,279.1 633.8,279.2 595.0,284.9 555.9,284.9 561.1,306.7 543.5,306.7" fill="none" stroke="#ff0000" stroke-width="0.5" stroke-opacity="0.38" stroke-linejoin="miter" stroke-miterlimit="2"/>
<polyline points="515.0,21.4 583.8,26.2 587.4,26.2 587.4,29.3 593.8,29.3 596.7,32.5 609.0,32.5 609.0,32.3 603.9,60.0 609.2,90.0 619.4,140.5 621.6,143.5 622.6,151.0 625.3,169.4 634.5,182.8 640.8,214.0 650.5,260.0 651.7,263.5 651.6,277.0 635.0,277.0 635.0,277.3 596.1,281.5 555.8,281.5 561.2,308.4 545.4,308.4" fill="none" stroke="#ff0000" stroke-width="0.5" stroke-opacity="0.38" stroke-linejoin="miter" stroke-miterlimit="2"/>
<polyline points="513.8,21.4 579.3,26.5 593.0,26.5 593.0,28.3 607.4,28.3 603.6,32.5 609.0,32.5 609.1,32.3 604.0,60.0 609.3,90.0 619.5,140.5 621.7,143.5 622.7,151.0 625.4,169.4 634.2,186.0 640.5,214.0 650.4,260.0 651.6,263.5 651.8,277.7 634.3,277.7 634.3,278.6 595.2,283.6 555.7,283.6 560.7,306.1 542.2,306.1" fill="none" stroke="#ff0000" stroke-width="0.5" stroke-opacity="0.38" stroke-linejoin="miter" stroke-miterlimit="2"/>
<polyline points="511.3,21.4 581.9,23.5 583.2,23.5 583.2,31.9 588.2,31.9 594.4,32.5 609.0,32.5 609.7,32.3 604.6,60.0 609.9,90.0 620.3,140.0 621.7,150.0 626.0,169.4 635.5,183.6 641.9,214.0 651.4,260.0 652.5,263.5 652.3,278.3 635.4,278.3 635.4,278.7 596.5,285.9 556.0,285.9 559.5,298.5 547.1,298.5" fill="none" stroke="#ff0000" stroke-width="0.5" stroke-opacity="0.38" stroke-linejoin="miter" stroke-miterlimit="2"/>
<polyline points="513.5,21.4 579.3,23.7 588.7,23.7 588.7,28.2 596.0,28.2 591.8,32.5 609.0,32.5 609.4,32.3 604.3,60.0 609.6,90.0 620.0,140.0 621.4,150.0 625.7,169.4 633.8,184.1 639.9,214.0 650.3,260.0 651.5,263.5 652.1,278.8 634.0,278.8 634.0,279.7 596.5,285.9 555.8,285.9 559.5,299.5 545.7,299.5" fill="none" stroke="#ff0000" stroke-width="0.5" stroke-opacity="0.38" stroke-linejoin="miter" stroke-miterlimit="2"/>
<polyline points="514.2,21.4 581.9,27.0 586.5,27.0 586.5,29.0 598.1,29.0 594.3,32.5 609.0,32.5 609.3,32.3 604.2,60.0 609.5,90.0 619.9,140.0 621.3,150.0 625.6,169.4 633.2,184.9 639.2,214.0 649.8,260.0 651.1,263.5 651.9,278.9 634.7,278.9 634.7,278.9 595.8,281.6 555.9,281.6 561.1,306.8 545.6,306.8" fill="none" stroke="#ff0000" stroke-width="0.5" stroke-opacity="0.38" stroke-linejoin="miter" stroke-miterlimit="2"/>
<polyline points="510.9,21.4 579.2,25.3 594.0,25.3 594.0,29.9 605.3,29.9 602.4,32.5 609.0,32.5 608.5,32.3 603.4,60.0 608.7,90.0 619.1,140.0 620.5,150.0 624.8,169.4 631.7,184.5 637.4,214.0 648.6,260.0 649.9,263.5 651.2,278.2 635.1,278.2 635.1,278.4 595.5,282.4 555.4,282.4 560.6,306.6 545.6,306.6" fill="none" stroke="#ff0000" stroke-width="0.5" stroke-opacity="0.38" stroke-linejoin="miter" stroke-miterlimit="2"/>
<polyline points="514.7,21.4 579.0,24.2 590.0,24.2 590.0,32.2 596.9,32.2 593.8,32.5 609.0,32.5 609.5,32.3 604.4,60.0 609.7,90.0 620.1,140.0 621.5,150.0 625.8,169.4 635.4,183.5 641.8,214.0 651.3,260.0 652.4,263.5 652.1,277.0 635.3,277.0 635.3,278.0 596.1,281.4 555.7,281.4 560.1,303.1 544.4,303.1" fill="none" stroke="#ff0000" stroke-width="0.5" stroke-opacity="0.38" stroke-linejoin="miter" stroke-miterlimit="2"/>
<polyline points="513.9,21.4 584.0,25.9 591.8,25.9 591.8,29.8 605.3,29.8 596.5,32.5 609.0,32.5 608.2,32.3 603.1,60.0 608.4,90.0 618.6,140.5 620.8,143.5 621.8,151.0 624.5,169.4 632.5,183.8 638.6,214.0 649.0,260.0 650.2,263.5 650.8,277.4 633.6,277.4 633.6,278.3 595.3,281.3 556.3,281.3 561.3,306.4 542.6,306.4" fill="none" stroke="#ff0000" stroke-width="0.5" stroke-opacity="0.38" stroke-linejoin="miter" stroke-miterlimit="2"/>
<polyline points="516.0,21.4 579.6,25.6 592.5,25.6 592.5,30.0 596.2,30.0 600.7,32.5 609.0,32.5 609.1,32.3 604.0,60.0 609.3,90.0 619.7,140.0 621.1,150.0 625.4,169.4 635.7,182.7 642.3,214.0 651.3,260.0 652.4,263.5 651.8,277.4 635.1,277.4 635.1,277.7 595.2,282.0 555.3,282.0 560.0,304.4 547.0,304.4" fill="none" stroke="#ff0000" stroke-width="0.5" stroke-opacity="0.38" stroke-linejoin="miter" stroke-miterlimit="2"/>
<polyline points="515.2,21.4 583.8,26.4 586.7,26.4 586.7,28.7 590.1,28.7 594.3,32.5 609.0,32.5 608.9,32.3 603.8,60.0 609.1,90.0 619.5,140.0 620.9,150.0 625.2,169.4 633.5,183.4 639.6,214.0 649.8,260.0 651.1,263.5 651.6,277.9 634.1,277.9 634.1,278.6 596.1,284.1 555.5,284.1 561.3,309.9 544.6,309.9" fill="none" stroke="#ff0000" stroke-width="0.5" stroke-opacity="0.38" stroke-linejoin="miter" stroke-miterlimit="2"/>
<polyline points="511.9,21.4 581.9,24.7 584.1,24.7 584.1,29.9 596.6,29.9 590.7,32.5 609.0,32.5 609.9,32.3 604.8,60.0 610.1,90.0 620.3,140.5 622.5,143.5 623.5,151.0 626.2,169.4 636.2,184.4 642.7,214.0 651.9,260.0 653.0,263.5 652.6,277.9 633.6,277.9 633.6,279.1 595.9,283.5 555.9,283.5 560.6,304.9 546.4,304.9" fill="none" stroke="#ff0000" stroke-width="0.5" stroke-opacity="0.38" stroke-linejoin="miter" stroke-miterlimit="2"/>
<polyline points="515.7,21.4 576.1,26.6 593.3,26.6 593.3,30.2 602.2,30.2 605.8,32.5 609.0,32.5 608.8,32.3 603.7,60.0 609.0,90.0 619.2,140.5 621.4,143.5 622.4,151.0 625.1,169.4 632.4,185.7 638.2,214.0 649.1,260.0 650.4,263.5 651.5,277.9 634.0,277.9 634.0,278.4 595.3,282.5 556.1,282.5 559.6,298.7 541.7,298.7" fill="none" stroke="#ff0000" stroke-width="0.5" stroke-opacity="0.38" stroke-linejoin="miter" stroke-miterlimit="2"/>
<polyline points="512.4,21.4 583.8,24.2 594.0,24.2 594.0,28.9 606.5,28.9 602.7,32.5 609.0,32.5 608.9,32.3 603.8,60.0 609.1,90.0 619.5,140.0 620.9,150.0 625.2,169.4 632.0,186.2 637.8,214.0 648.9,260.0 650.3,263.5 651.5,278.5 633.8,278.5 633.8,279.3 595.2,283.2 556.1,283.2 560.2,301.8 545.3,301.8" fill="none" stroke="#ff0000" stroke-width="0.5" stroke-opacity="0.38" stroke-linejoin="miter" stroke-miterlimit="2"/>
<polyline points="515.8,21.4 581.5,24.3 590.5,24.3 590.5,30.1 598.2,30.1 602.9,32.5 609.0,32.5 609.9,32.3 604.8,60.0 610.1,90.0 620.5,140.0 621.9,150.0 626.2,169.4 635.3,185.3 641.6,214.0 651.4,260.0 652.5,263.5 652.5,277.2 634.4,277.2 634.4,278.2 595.0,283.3 556.1,283.3 559.9,299.8 543.5,299.8" fill="none" stroke="#ff0000" stroke-width="0.5" stroke-opacity="0.38" stroke-linejoin="miter" stroke-miterlimit="2"/>
<polyline points="514.1,21.4 583.2,24.3 586.7,24.3 586.7,31.8 595.7,31.8 601.2,32.5 609.0,32.5 609.0,32.3 603.9,60.0 609.2,90.0 619.4,140.5 621.6,143.5 622.6,151.0 625.3,169.4 630.8,183.7 636.3,214.0 648.3,260.0 649.7,263.5 651.7,279.7 634.2,279.7 634.2,280.0 595.7,285.6 556.1,285.6 562.0,310.5 541.7,310.5" fill="none" stroke="#ff0000" stroke-width="0.5" stroke-opacity="0.38" stroke-linejoin="miter" stroke-miterlimit="2"/>
<polyline points="514.9,21.4 576.3,26.6 585.9,26.6 585.9,31.1 590.5,31.1 600.3,32.5 609.0,32.5 609.1,32.3 604.0,60.0 609.3,90.0 619.7,140.0 621.1,150.0 625.4,169.4 633.7,186.8 639.8,214.0 650.1,260.0 651.3,263.5 651.8,277.7 635.0,277.7 635.0,278.7 595.5,283.6 555.4,283.6 559.8,303.1 544.9,303.1" fill="none" stroke="#ff0000" stroke-width="0.5" stroke-opacity="0.38" stroke-linejoin="miter" stroke-miterlimit="2"/>
<polyline points="516.1,21.4 577.6,24.2 585.9,24.2 585.9,29.3 594.1,29.3 590.2,32.5 609.0,32.5 608.0,32.3 602.9,60.0 608.2,90.0 618.6,140.0 620.0,150.0 624.3,169.4 633.0,182.6 639.1,214.0 649.2,260.0 650.4,263.5 650.7,278.9 635.4,278.9 635.4,279.4 595.2,284.1 556.3,284.1 561.2,305.9 542.5,305.9" fill="none" stroke="#ff0000" stroke-width="0.5" stroke-opacity="0.38" stroke-linejoin="miter" stroke-miterlimit="2"/>
<polyline points="514.2,21.4 581.5,25.8 591.3,25.8 591.3,32.2 599.0,32.2 605.6,32.5 609.0,32.5 609.5,32.3 604.4,60.0 609.7,90.0 620.1,140.0 621.5,150.0 625.8,169.4 634.1,185.9 640.2,214.0 650.5,260.0 651.7,263.5 652.2,276.8 634.1,276.8 634.1,277.1 595.2,280.9 555.6,280.9 560.5,305.6 543.4,305.6" fill="none" stroke="#ff0000" stroke-width="0.5" stroke-opacity="0.38" stroke-linejoin="miter" stroke-miterlimit="2"/>
<polyline points="514.0,21.4 582.6,24.5 585.3,24.5 585.3,28.3 590.8,28.3 591.0,32.5 609.0,32.5 608.9,32.3 603.8,60.0 609.1,90.0 619.5,140.0 620.9,150.0 625.2,169.4 635.3,183.9 641.7,214.0 650.9,260.0 652.0,263.5 651.6,276.9 634.7,276.9 634.7,277.8 596.0,281.3 556.1,281.3 560.8,304.5 543.2,304.5" fill="none" stroke="#ff0000" stroke-width="0.5" stroke-opacity="0.38" stroke-linejoin="miter" stroke-miterlimit="2"/>
<polyline points="511.8,21.4 582.9,25.3 593.9,25.3 593.9,30.5 606.6,30.5 608.5,32.5 609.0,32.5 609.1,32.3 604.0,60.0 609.3,90.0 619.7,140.0 621.1,150.0 625.4,169.4 632.7,185.9 638.6,214.0 649.5,260.0 650.8,263.5 651.8,277.7 634.3,277.7 634.3,277.7 595.6,281.6 556.3,281.6 561.0,304.8 541.0,304.8" fill="none" stroke="#ff0000" stroke-width="0.5" stroke-opacity="0.38" stroke-linejoin="miter" stroke-miterlimit="2"/>
<polyline points="511.5,21.4 578.8,24.6 592.8,24.6 592.8,28.2 605.4,28.2 601.2,32.5 609.0,32.5 608.9,32.3 603.8,60.0 609.1,90.0 619.3,140.5 621.5,143.5 622.5,151.0 625.2,169.4 633.3,183.5 639.4,214.0 649.8,260.0 651.0,263.5 651.6,276.9 635.5,276.9 635.5,277.4 596.5,281.4 555.4,281.4 560.4,305.9 541.7,305.9" fill="none" stroke="#ff0000" stroke-width="0.5" stroke-opacity="0.38" stroke-linejoin="miter" stroke-miterlimit="2"/>
<polyline points="515.7,21.4 579.9,24.6 589.7,24.6 589.7,30.7 595.1,30.7 595.6,32.5 609.0,32.5 608.6,32.3 603.5,60.0 608.8,90.0 619.0,140.5 621.2,143.5 622.2,151.0 624.9,169.4 634.4,184.9 640.8,214.0 650.3,260.0 651.4,263.5 651.2,276.8 633.6,276.8 633.6,277.3 595.2,281.0 555.9,281.0 560.8,305.4 541.4,305.4" fill="none" stroke="#ff0000" stroke-width="0.5" stroke-opacity="0.38" stroke-linejoin="miter" stroke-miterlimit="2"/>
<polyline points="514.4,21.4 583.4,26.8 589.7,26.8 589.7,28.9 603.7,28.9 595.8,32.5 609.0,32.5 608.9,32.3 603.8,60.0 609.1,90.0 619.3,140.5 621.5,143.5 622.5,151.0 625.2,169.4 633.9,185.6 640.2,214.0 650.1,260.0 651.3,263.5 651.5,277.6 634.0,277.6 634.0,278.8 596.0,283.7 555.3,283.7 560.3,305.9 546.2,305.9" fill="none" stroke="#ff0000" stroke-width="0.5" stroke-opacity="0.38" stroke-linejoin="miter" stroke-miterlimit="2"/>
<polyline points="514.8,21.4 582.8,24.7 592.2,24.7 592.2,28.4 596.4,28.4 599.6,32.5 609.0,32.5 609.7,32.3 604.6,60.0 609.9,90.0 620.3,140.0 621.7,150.0 626.0,169.4 634.1,186.2 640.2,214.0 650.5,260.0 651.8,263.5 652.4,277.8 634.6,277.8 634.6,278.4 596.1,283.3 556.1,283.3 562.0,310.8 541.6,310.8" fill="none" stroke="#ff0000" stroke-width="0.5" stroke-opacity="0.38" stroke-linejoin="miter" stroke-miterlimit="2"/>
<polyline points="515.4,21.4 584.0,26.8 591.0,26.8 591.0,31.3 597.3,31.3 597.0,32.5 609.0,32.5 608.6,32.3 603.5,60.0 608.8,90.0 619.0,140.5 621.2,143.5 622.2,151.0 624.9,169.4 633.4,183.9 639.6,214.0 649.7,260.0 650.9,263.5 651.3,278.4 634.8,278.4 634.8,279.0 595.4,284.3 556.2,284.3 561.2,306.1 547.4,306.1" fill="none" stroke="#ff0000" stroke-width="0.5" stroke-opacity="0.38" stroke-linejoin="miter" stroke-miterlimit="2"/>
<polyline points="510.6,21.4 581.5,24.4 584.5,24.4 584.5,29.1 590.6,29.1 599.1,32.5 609.0,32.5 608.7,32.3 603.6,60.0 608.9,90.0 619.3,140.0 620.7,150.0 625.0,169.4 632.0,185.2 637.9,214.0 648.9,260.0 650.2,263.5 651.4,278.3 635.0,278.3 635.0,278.9 595.4,284.0 555.9,284.0 560.5,304.0 545.4,304.0" fill="none" stroke="#ff0000" stroke-width="0.5" stroke-opacity="0.38" stroke-linejoin="miter" stroke-miterlimit="2"/>
<polyline points="514.4,21.4 577.4,25.8 583.7,25.8 583.7,30.5 587.9,30.5 598.5,32.5 609.0,32.5 607.9,32.3 602.8,60.0 608.1,90.0 618.5,140.0 619.9,150.0 624.2,169.4 631.8,184.2 637.7,214.0 648.4,260.0 649.7,263.5 650.6,277.3 633.8,277.3 633.8,277.5 594.9,281.1 555.5,281.1 560.4,305.6 541.0,305.6" fill="none" stroke="#ff0000" stroke-width="0.5" stroke-opacity="0.38" stroke-linejoin="miter" stroke-miterlimit="2"/>
<polyline points="511.8,21.4 579.5,25.2 583.4,25.2 583.4,28.7 587.2,28.7 590.8,32.5 609.0,32.5 608.7,32.3 603.6,60.0 608.9,90.0 619.3,140.0 620.7,150.0 625.0,169.4 633.2,185.4 639.3,214.0 649.6,260.0 650.9,263.5 651.4,279.2 633.7,279.2 633.7,279.3 596.1,284.6 556.2,284.6 561.0,305.0 544.7,305.0" fill="none" stroke="#ff0000" stroke-width="0.5" stroke-opacity="0.38" stroke-linejoin="miter" stroke-miterlimit="2"/>
<polyline points="514.0,21.4 581.2,24.3 583.7,24.3 583.7,30.1 596.4,30.1 598.1,32.5 609.0,32.5 608.7,32.3 603.6,60.0 608.9,90.0 619.3,140.0 620.7,150.0 625.0,169.4 633.6,184.4 639.8,214.0 649.8,260.0 651.0,263.5 651.4,277.9 634.6,277.9 634.6,278.4 595.3,283.2 556.2,283.2 561.0,305.2 541.9,305.2" fill="none" stroke="#ff0000" stroke-width="0.5" stroke-opacity="0.38" stroke-linejoin="miter" stroke-miterlimit="2"/>
<polyline points="515.4,21.4 576.0,24.8 589.3,24.8 589.3,28.7 595.4,28.7 597.7,32.5 609.0,32.5 609.2,32.3 604.1,60.0 609.4,90.0 619.6,140.5 621.8,143.5 622.8,151.0 625.5,169.4 632.6,184.3 638.5,214.0 649.5,260.0 650.8,263.5 651.9,278.5 633.5,278.5 633.5,279.0 596.4,284.3 555.5,284.3 560.6,306.4 541.4,306.4" fill="none" stroke="#ff0000" stroke-width="0.5" stroke-opacity="0.38" stroke-linejoin="miter" stroke-miterlimit="2"/>
<polyline points="515.8,21.4 583.7,25.6 584.3,25.6 584.3,31.4 588.2,31.4 598.1,32.5 609.0,32.5 609.2,32.3 604.1,60.0 609.4,90.0 619.8,140.0 621.2,150.0 625.5,169.4 634.8,185.5 641.1,214.0 650.8,260.0 651.9,263.5 651.9,277.7 634.8,277.7 634.8,278.5 595.5,284.6 555.5,284.6 560.6,306.5 545.7,306.5" fill="none" stroke="#ff0000" stroke-width="0.5" stroke-opacity="0.38" stroke-linejoin="miter" stroke-miterlimit="2"/>
<polyline points="510.9,21.4 580.7,24.9 593.3,24.9 593.3,29.8 603.2,29.8 600.6,32.5 609.0,32.5 608.7,32.3 603.6,60.0 608.9,90.0 619.3,140.0 620.7,150.0 625.0,169.4 634.2,186.4 640.5,214.0 650.2,260.0 651.4,263.5 651.3,277.4 633.8,277.4 633.8,277.7 596.0,281.1 555.7,281.1 559.0,297.5 541.8,297.5" fill="none" stroke="#ff0000" stroke-width="0.5" stroke-opacity="0.38" stroke-linejoin="miter" stroke-miterlimit="2"/>
<polyline points="516.2,21.4 577.2,23.9 586.0,23.9 586.0,32.0 595.3,32.0 592.9,32.5 609.0,32.5 608.6,32.3 603.5,60.0 608.8,90.0 619.0,140.5 621.2,143.5 622.2,151.0 624.9,169.4 632.5,185.8 638.5,214.0 649.1,260.0 650.4,263.5 651.2,277.6 633.5,277.6 633.5,278.5 595.2,283.0 555.4,283.0 560.5,306.9 541.1,306.9" fill="none" stroke="#ff0000" stroke-width="0.5" stroke-opacity="0.38" stroke-linejoin="miter" stroke-miterlimit="2"/>
<polyline points="513.6,21.4 581.8,24.4 582.4,24.4 582.4,29.8 594.1,29.8 588.0,32.5 609.0,32.5 609.4,32.3 604.3,60.0 609.6,90.0 619.8,140.5 622.0,143.5 623.0,151.0 625.7,169.4 635.3,183.2 641.7,214.0 651.2,260.0 652.3,263.5 652.1,277.8 634.0,277.8 634.0,278.0 595.2,282.4 555.9,282.4 561.2,307.6 545.7,307.6" fill="none" stroke="#ff0000" stroke-width="0.5" stroke-opacity="0.38" stroke-linejoin="miter" stroke-miterlimit="2"/>
<polyline points="511.7,21.4 578.5,24.4 587.7,24.4 587.7,30.9 599.3,30.9 600.0,32.5 609.0,32.5 609.3,32.3 604.2,60.0 609.5,90.0 619.9,140.0 621.3,150.0 625.6,169.4 634.0,186.1 640.1,214.0 650.3,260.0 651.5,263.5 652.0,278.3 634.5,278.3 634.5,278.5 595.1,284.8 555.7,284.8 560.0,302.4 547.5,302.4" fill="none" stroke="#ff0000" stroke-width="0.5" stroke-opacity="0.38" stroke-linejoin="miter" stroke-miterlimit="2"/>
<polyline points="512.0,21.4 581.9,26.9 592.7,26.9 592.7,28.5 606.6,28.5 601.4,32.5 609.0,32.5 609.3,32.3 604.2,60.0 609.5,90.0 619.9,140.0 621.3,150.0 625.6,169.4 635.9,183.2 642.5,214.0 651.5,260.0 652.6,263.5 652.0,278.0 634.0,278.0 634.0,278.5 596.1,282.4 555.9,282.4 559.5,298.7 542.7,298.7" fill="none" stroke="#ff0000" stroke-width="0.5" stroke-opacity="0.38" stroke-linejoin="miter" stroke-miterlimit="2"/>
<polyline points="511.8,21.4 583.3,24.8 586.9,24.8 586.9,28.5 597.6,28.5 600.6,32.5 609.0,32.5 609.0,32.3 603.9,60.0 609.2,90.0 619.6,140.0 621.0,150.0 625.3,169.4 634.0,183.3 640.2,214.0 650.2,260.0 651.4,263.5 651.7,279.4 634.2,279.4 634.2,279.8 596.1,285.5 556.1,285.5 560.6,303.7 547.9,303.7" fill="none" stroke="#ff0000" stroke-width="0.5" stroke-opacity="0.38" stroke-linejoin="miter" stroke-miterlimit="2"/>
<polyline points="510.8,21.4 581.9,24.3 584.4,24.3 584.4,28.3 592.9,28.3 592.2,32.5 609.0,32.5 609.4,32.3 604.3,60.0 609.6,90.0 620.0,140.0 621.4,150.0 625.7,169.4 635.2,185.5 641.6,214.0 651.1,260.0 652.2,263.5 652.0,278.4 635.1,278.4 635.1,278.5 595.7,282.5 555.9,282.5 559.2,297.3 547.2,297.3" fill="none" stroke="#ff0000" stroke-width="0.5" stroke-opacity="0.38" stroke-linejoin="miter" stroke-miterlimit="2"/>
<polyline points="512.7,21.4 581.7,27.0 593.2,27.0 593.2,29.9 598.6,29.9 599.8,32.5 609.0,32.5 608.6,32.3 603.5,60.0 608.8,90.0 619.2,140.0 620.6,150.0 624.9,169.4 632.9,185.8 638.9,214.0 649.4,260.0 650.6,263.5 651.3,277.9 635.3,277.9 635.3,278.2 596.0,283.4 556.0,283.4 561.0,305.7 541.9,305.7" fill="none" stroke="#ff0000" stroke-width="0.5" stroke-opacity="0.38" stroke-linejoin="miter" stroke-miterlimit="2"/>
<polyline points="511.8,21.4 578.0,26.0 588.2,26.0 588.2,31.2 593.3,31.2 598.4,32.5 609.0,32.5 609.4,32.3 604.3,60.0 609.6,90.0 620.0,140.0 621.4,150.0 625.7,169.4 635.0,185.2 641.4,214.0 651.0,260.0 652.2,263.5 652.1,277.9 634.2,277.9 634.2,278.5 596.0,284.2 555.5,284.2 558.7,297.0 544.9,297.0" fill="none" stroke="#ff0000" stroke-width="0.5" stroke-opacity="0.38" stroke-linejoin="miter" stroke-miterlimit="2"/>
<polyline points="513.2,21.4 577.6,25.2 589.1,25.2 589.1,32.1 593.8,32.1 594.1,32.5 609.0,32.5 608.8,32.3 603.7,60.0 609.0,90.0 619.4,140.0 620.8,150.0 625.1,169.4 635.3,184.1 641.9,214.0 650.9,260.0 652.0,263.5 651.5,278.1 635.4,278.1 635.4,278.7 595.6,284.2 555.7,284.2 560.5,305.2 543.2,305.2" fill="none" stroke="#ff0000" stroke-width="0.5" stroke-opacity="0.38" stroke-linejoin="miter" stroke-miterlimit="2"/>
<polyline points="512.6,21.4 583.2,25.2 586.2,25.2 586.2,30.1 595.6,30.1 600.4,32.5 609.0,32.5 609.0,32.3 603.9,60.0 609.2,90.0 619.6,140.0 621.0,150.0 625.3,169.4 633.8,184.5 639.9,214.0 650.1,260.0 651.3,263.5 651.7,278.2 634.1,278.2 634.1,278.3 596.2,282.4 555.8,282.4 560.6,305.4 543.0,305.4" fill="none" stroke="#ff0000" stroke-width="0.5" stroke-opacity="0.38" stroke-linejoin="miter" stroke-miterlimit="2"/>
<polyline points="514.0,21.4 583.8,26.6 582.5,26.6 582.5,31.2 586.1,31.2 586.9,32.5 609.0,32.5 608.9,32.3 603.8,60.0 609.1,90.0 619.5,140.0 620.9,150.0 625.2,169.4 635.6,183.1 642.2,214.0 651.2,260.0 652.2,263.5 651.6,277.4 633.7,277.4 633.7,278.4 595.2,282.4 555.4,282.4 560.9,308.6 541.7,308.6" fill="none" stroke="#ff0000" stroke-width="0.5" stroke-opacity="0.38" stroke-linejoin="miter" stroke-miterlimit="2"/>
<polyline points="542.2,304.7 546.1,320.5 546.4,328.6" fill="none" stroke="#ff0000" stroke-width="0.5" stroke-opacity="0.45" stroke-linejoin="miter" stroke-miterlimit="2"/>
<polyline points="544.2,305.0 549.3,320.5 549.6,328.6" fill="none" stroke="#ff0000" stroke-width="0.5" stroke-opacity="0.45" stroke-linejoin="miter" stroke-miterlimit="2"/>
<polyline points="545.0,305.0 548.4,320.5 548.7,328.6" fill="none" stroke="#ff0000" stroke-width="0.5" stroke-opacity="0.45" stroke-linejoin="miter" stroke-miterlimit="2"/>
<polyline points="540.5,299.5 545.8,320.5 546.1,328.6" fill="none" stroke="#ff0000" stroke-width="0.5" stroke-opacity="0.45" stroke-linejoin="miter" stroke-miterlimit="2"/>
<polyline points="546.9,303.3 551.1,320.5 551.4,328.6" fill="none" stroke="#ff0000" stroke-width="0.5" stroke-opacity="0.45" stroke-linejoin="miter" stroke-miterlimit="2"/>
<polyline points="546.5,297.4 553.1,320.5 553.4,328.6" fill="none" stroke="#ff0000" stroke-width="0.5" stroke-opacity="0.45" stroke-linejoin="miter" stroke-miterlimit="2"/>
<polyline points="547.3,309.0 551.2,320.5 551.5,328.6" fill="none" stroke="#ff0000" stroke-width="0.5" stroke-opacity="0.45" stroke-linejoin="miter" stroke-miterlimit="2"/>
<polyline points="540.9,304.9 545.2,320.5 545.5,328.6" fill="none" stroke="#ff0000" stroke-width="0.5" stroke-opacity="0.45" stroke-linejoin="miter" stroke-miterlimit="2"/>
<polyline points="544.4,308.0 547.0,320.5 547.3,328.6" fill="none" stroke="#ff0000" stroke-width="0.5" stroke-opacity="0.45" stroke-linejoin="miter" stroke-miterlimit="2"/>
<polyline points="545.3,311.0 548.7,320.5 549.0,328.6" fill="none" stroke="#ff0000" stroke-width="0.5" stroke-opacity="0.45" stroke-linejoin="miter" stroke-miterlimit="2"/>
<polyline points="540.8,307.6 544.0,320.5 544.3,328.6" fill="none" stroke="#ff0000" stroke-width="0.5" stroke-opacity="0.45" stroke-linejoin="miter" stroke-miterlimit="2"/>
<polyline points="543.9,302.6 548.7,320.5 549.0,328.6" fill="none" stroke="#ff0000" stroke-width="0.5" stroke-opacity="0.45" stroke-linejoin="miter" stroke-miterlimit="2"/>
<polyline points="540.9,310.2 543.9,320.5 544.2,328.6" fill="none" stroke="#ff0000" stroke-width="0.5" stroke-opacity="0.45" stroke-linejoin="miter" stroke-miterlimit="2"/>
<polyline points="543.4,303.3 548.8,320.5 549.1,328.6" fill="none" stroke="#ff0000" stroke-width="0.5" stroke-opacity="0.45" stroke-linejoin="miter" stroke-miterlimit="2"/>
<polyline points="542.5,305.8 546.1,320.5 546.4,328.6" fill="none" stroke="#ff0000" stroke-width="0.5" stroke-opacity="0.45" stroke-linejoin="miter" stroke-miterlimit="2"/>
<polyline points="544.6,301.9 549.9,320.5 550.2,328.6" fill="none" stroke="#ff0000" stroke-width="0.5" stroke-opacity="0.45" stroke-linejoin="miter" stroke-miterlimit="2"/>
<polyline points="543.5,306.7 547.1,320.5 547.4,328.6" fill="none" stroke="#ff0000" stroke-width="0.5" stroke-opacity="0.45" stroke-linejoin="miter" stroke-miterlimit="2"/>
<polyline points="545.4,308.4 548.7,320.5 549.0,328.6" fill="none" stroke="#ff0000" stroke-width="0.5" stroke-opacity="0.45" stroke-linejoin="miter" stroke-miterlimit="2"/>
<polyline points="542.2,306.1 546.7,320.5 547.0,328.6" fill="none" stroke="#ff0000" stroke-width="0.5" stroke-opacity="0.45" stroke-linejoin="miter" stroke-miterlimit="2"/>
<polyline points="547.1,298.5 553.4,320.5 553.7,328.6" fill="none" stroke="#ff0000" stroke-width="0.5" stroke-opacity="0.45" stroke-linejoin="miter" stroke-miterlimit="2"/>
<polyline points="545.7,299.5 550.6,320.5 550.9,328.6" fill="none" stroke="#ff0000" stroke-width="0.5" stroke-opacity="0.45" stroke-linejoin="miter" stroke-miterlimit="2"/>
<polyline points="545.6,306.8 549.0,320.5 549.3,328.6" fill="none" stroke="#ff0000" stroke-width="0.5" stroke-opacity="0.45" stroke-linejoin="miter" stroke-miterlimit="2"/>
<polyline points="545.6,306.6 549.6,320.5 549.9,328.6" fill="none" stroke="#ff0000" stroke-width="0.5" stroke-opacity="0.45" stroke-linejoin="miter" stroke-miterlimit="2"/>
<polyline points="544.4,303.1 547.9,320.5 548.2,328.6" fill="none" stroke="#ff0000" stroke-width="0.5" stroke-opacity="0.45" stroke-linejoin="miter" stroke-miterlimit="2"/>
<polyline points="542.6,306.4 547.1,320.5 547.4,328.6" fill="none" stroke="#ff0000" stroke-width="0.5" stroke-opacity="0.45" stroke-linejoin="miter" stroke-miterlimit="2"/>
<polyline points="547.0,304.4 552.1,320.5 552.4,328.6" fill="none" stroke="#ff0000" stroke-width="0.5" stroke-opacity="0.45" stroke-linejoin="miter" stroke-miterlimit="2"/>
<polyline points="544.6,309.9 548.2,320.5 548.5,328.6" fill="none" stroke="#ff0000" stroke-width="0.5" stroke-opacity="0.45" stroke-linejoin="miter" stroke-miterlimit="2"/>
<polyline points="546.4,304.9 551.0,320.5 551.3,328.6" fill="none" stroke="#ff0000" stroke-width="0.5" stroke-opacity="0.45" stroke-linejoin="miter" stroke-miterlimit="2"/>
<polyline points="541.7,298.7 547.1,320.5 547.4,328.6" fill="none" stroke="#ff0000" stroke-width="0.5" stroke-opacity="0.45" stroke-linejoin="miter" stroke-miterlimit="2"/>
<polyline points="545.3,301.8 550.4,320.5 550.7,328.6" fill="none" stroke="#ff0000" stroke-width="0.5" stroke-opacity="0.45" stroke-linejoin="miter" stroke-miterlimit="2"/>
<polyline points="543.5,299.8 548.3,320.5 548.6,328.6" fill="none" stroke="#ff0000" stroke-width="0.5" stroke-opacity="0.45" stroke-linejoin="miter" stroke-miterlimit="2"/>
<polyline points="541.7,310.5 544.5,320.5 544.8,328.6" fill="none" stroke="#ff0000" stroke-width="0.5" stroke-opacity="0.45" stroke-linejoin="miter" stroke-miterlimit="2"/>
<polyline points="544.9,303.1 549.5,320.5 549.8,328.6" fill="none" stroke="#ff0000" stroke-width="0.5" stroke-opacity="0.45" stroke-linejoin="miter" stroke-miterlimit="2"/>
<polyline points="542.5,305.9 547.1,320.5 547.4,328.6" fill="none" stroke="#ff0000" stroke-width="0.5" stroke-opacity="0.45" stroke-linejoin="miter" stroke-miterlimit="2"/>
<polyline points="543.4,305.6 547.7,320.5 548.0,328.6" fill="none" stroke="#ff0000" stroke-width="0.5" stroke-opacity="0.45" stroke-linejoin="miter" stroke-miterlimit="2"/>
<polyline points="543.2,304.5 548.1,320.5 548.4,328.6" fill="none" stroke="#ff0000" stroke-width="0.5" stroke-opacity="0.45" stroke-linejoin="miter" stroke-miterlimit="2"/>
<polyline points="541.0,304.8 545.0,320.5 545.3,328.6" fill="none" stroke="#ff0000" stroke-width="0.5" stroke-opacity="0.45" stroke-linejoin="miter" stroke-miterlimit="2"/>
<polyline points="541.7,305.9 545.8,320.5 546.1,328.6" fill="none" stroke="#ff0000" stroke-width="0.5" stroke-opacity="0.45" stroke-linejoin="miter" stroke-miterlimit="2"/>
<polyline points="541.4,305.4 545.3,320.5 545.6,328.6" fill="none" stroke="#ff0000" stroke-width="0.5" stroke-opacity="0.45" stroke-linejoin="miter" stroke-miterlimit="2"/>
<polyline points="546.2,305.9 551.5,320.5 551.8,328.6" fill="none" stroke="#ff0000" stroke-width="0.5" stroke-opacity="0.45" stroke-linejoin="miter" stroke-miterlimit="2"/>
<polyline points="541.6,310.8 543.1,320.5 543.4,328.6" fill="none" stroke="#ff0000" stroke-width="0.5" stroke-opacity="0.45" stroke-linejoin="miter" stroke-miterlimit="2"/>
<polyline points="547.4,306.1 551.4,320.5 551.7,328.6" fill="none" stroke="#ff0000" stroke-width="0.5" stroke-opacity="0.45" stroke-linejoin="miter" stroke-miterlimit="2"/>
<polyline points="545.4,304.0 549.2,320.5 549.5,328.6" fill="none" stroke="#ff0000" stroke-width="0.5" stroke-opacity="0.45" stroke-linejoin="miter" stroke-miterlimit="2"/>
<polyline points="541.0,305.6 545.7,320.5 546.0,328.6" fill="none" stroke="#ff0000" stroke-width="0.5" stroke-opacity="0.45" stroke-linejoin="miter" stroke-miterlimit="2"/>
<polyline points="544.7,305.0 549.3,320.5 549.6,328.6" fill="none" stroke="#ff0000" stroke-width="0.5" stroke-opacity="0.45" stroke-linejoin="miter" stroke-miterlimit="2"/>
<polyline points="541.9,305.2 544.9,320.5 545.2,328.6" fill="none" stroke="#ff0000" stroke-width="0.5" stroke-opacity="0.45" stroke-linejoin="miter" stroke-miterlimit="2"/>
<polyline points="541.4,306.4 544.9,320.5 545.2,328.6" fill="none" stroke="#ff0000" stroke-width="0.5" stroke-opacity="0.45" stroke-linejoin="miter" stroke-miterlimit="2"/>
<polyline points="545.7,306.5 549.6,320.5 549.9,328.6" fill="none" stroke="#ff0000" stroke-width="0.5" stroke-opacity="0.45" stroke-linejoin="miter" stroke-miterlimit="2"/>
<polyline points="541.8,297.5 547.9,320.5 548.2,328.6" fill="none" stroke="#ff0000" stroke-width="0.5" stroke-opacity="0.45" stroke-linejoin="miter" stroke-miterlimit="2"/>
<polyline points="541.1,306.9 545.2,320.5 545.5,328.6" fill="none" stroke="#ff0000" stroke-width="0.5" stroke-opacity="0.45" stroke-linejoin="miter" stroke-miterlimit="2"/>
<polyline points="545.7,307.6 548.3,320.5 548.6,328.6" fill="none" stroke="#ff0000" stroke-width="0.5" stroke-opacity="0.45" stroke-linejoin="miter" stroke-miterlimit="2"/>
<polyline points="547.5,302.4 553.2,320.5 553.5,328.6" fill="none" stroke="#ff0000" stroke-width="0.5" stroke-opacity="0.45" stroke-linejoin="miter" stroke-miterlimit="2"/>
<polyline points="542.7,298.7 547.6,320.5 547.9,328.6" fill="none" stroke="#ff0000" stroke-width="0.5" stroke-opacity="0.45" stroke-linejoin="miter" stroke-miterlimit="2"/>
<polyline points="547.9,303.7 552.1,320.5 552.4,328.6" fill="none" stroke="#ff0000" stroke-width="0.5" stroke-opacity="0.45" stroke-linejoin="miter" stroke-miterlimit="2"/>
<polyline points="547.2,297.3 552.1,320.5 552.4,328.6" fill="none" stroke="#ff0000" stroke-width="0.5" stroke-opacity="0.45" stroke-linejoin="miter" stroke-miterlimit="2"/>
<polyline points="541.9,305.7 545.3,320.5 545.6,328.6" fill="none" stroke="#ff0000" stroke-width="0.5" stroke-opacity="0.45" stroke-linejoin="miter" stroke-miterlimit="2"/>
<polyline points="544.9,297.0 551.0,320.5 551.3,328.6" fill="none" stroke="#ff0000" stroke-width="0.5" stroke-opacity="0.45" stroke-linejoin="miter" stroke-miterlimit="2"/>
<polyline points="543.2,305.2 547.8,320.5 548.1,328.6" fill="none" stroke="#ff0000" stroke-width="0.5" stroke-opacity="0.45" stroke-linejoin="miter" stroke-miterlimit="2"/>
<polyline points="543.0,305.4 546.5,320.5 546.8,328.6" fill="none" stroke="#ff0000" stroke-width="0.5" stroke-opacity="0.45" stroke-linejoin="miter" stroke-miterlimit="2"/>
<polyline points="541.7,308.6 545.2,320.5 545.5,328.6" fill="none" stroke="#ff0000" stroke-width="0.5" stroke-opacity="0.45" stroke-linejoin="miter" stroke-miterlimit="2"/>
</g><g clip-path="url(#clipD)">
<polyline points="545.8,394.6 546.3,404.4 546.4,414.2 546.4,424.1 546.5,433.9 546.5,443.8 546.3,443.8 538.1,443.8 538.1,445.5 460.6,458.5" fill="none" stroke="#0000ff" stroke-width="0.6" stroke-opacity="0.36" stroke-linejoin="miter" stroke-miterlimit="2"/>
<polyline points="546.3,394.6 545.9,405.6 546.1,416.6 546.2,427.6 545.8,438.7 546.4,449.7 546.1,449.7 536.8,449.7 536.8,450.3 460.6,471.5" fill="none" stroke="#0000ff" stroke-width="0.6" stroke-opacity="0.36" stroke-linejoin="miter" stroke-miterlimit="2"/>
<polyline points="546.6,394.6 546.6,404.6 546.3,414.6 546.7,424.6 546.1,434.6 546.7,444.6 546.5,444.6 537.2,444.6 537.2,446.1 460.3,457.5" fill="none" stroke="#0000ff" stroke-width="0.6" stroke-opacity="0.36" stroke-linejoin="miter" stroke-miterlimit="2"/>
<polyline points="545.8,394.6 546.0,404.1 545.8,413.7 546.7,423.2 546.2,432.7 546.1,442.3 546.2,442.3 538.2,442.3 538.2,444.8 461.6,456.5" fill="none" stroke="#0000ff" stroke-width="0.6" stroke-opacity="0.36" stroke-linejoin="miter" stroke-miterlimit="2"/>
<polyline points="546.3,394.6 546.8,404.4 546.5,414.2 546.7,424.1 546.6,433.9 546.9,443.7 546.8,443.7 536.9,443.7 536.9,444.2 460.2,457.5" fill="none" stroke="#0000ff" stroke-width="0.6" stroke-opacity="0.36" stroke-linejoin="miter" stroke-miterlimit="2"/>
<polyline points="546.4,394.6 546.1,404.6 546.4,414.7 546.4,424.8 546.4,434.9 546.4,445.0 546.3,445.0 537.4,445.0 537.4,448.5 461.1,462.5" fill="none" stroke="#0000ff" stroke-width="0.6" stroke-opacity="0.36" stroke-linejoin="miter" stroke-miterlimit="2"/>
<polyline points="546.2,394.6 546.0,404.0 546.6,413.4 546.1,422.8 546.3,432.2 546.3,441.6 546.4,441.6 537.6,441.6 537.6,445.2 461.4,460.5" fill="none" stroke="#0000ff" stroke-width="0.6" stroke-opacity="0.36" stroke-linejoin="miter" stroke-miterlimit="2"/>
<polyline points="546.1,394.6 546.3,404.6 546.1,414.6 546.4,424.6 546.4,434.6 546.3,444.6 546.2,444.6 537.2,444.6 537.2,448.0 460.3,464.5" fill="none" stroke="#0000ff" stroke-width="0.6" stroke-opacity="0.36" stroke-linejoin="miter" stroke-miterlimit="2"/>
<polyline points="546.1,394.6 546.1,404.4 546.0,414.2 546.1,424.0 546.0,433.8 546.0,443.5 546.1,443.5 537.3,443.5 537.3,447.3 461.0,461.5" fill="none" stroke="#0000ff" stroke-width="0.6" stroke-opacity="0.36" stroke-linejoin="miter" stroke-miterlimit="2"/>
<polyline points="546.1,394.6 546.4,404.6 545.9,414.6 546.1,424.6 546.0,434.6 546.4,444.6 546.1,444.6 537.4,444.6 537.4,447.0 460.6,459.5" fill="none" stroke="#0000ff" stroke-width="0.6" stroke-opacity="0.36" stroke-linejoin="miter" stroke-miterlimit="2"/>
<polyline points="546.1,394.6 546.3,404.1 546.5,413.7 546.3,423.2 546.8,432.8 546.6,442.4 546.5,442.4 537.0,442.4 537.0,446.1 460.8,464.5" fill="none" stroke="#0000ff" stroke-width="0.6" stroke-opacity="0.36" stroke-linejoin="miter" stroke-miterlimit="2"/>
<polyline points="546.5,394.6 545.8,404.5 546.6,414.4 546.9,424.3 546.2,434.2 547.1,444.1 546.5,444.1 537.7,444.1 537.7,445.9 460.7,457.5" fill="none" stroke="#0000ff" stroke-width="0.6" stroke-opacity="0.36" stroke-linejoin="miter" stroke-miterlimit="2"/>
<polyline points="545.8,394.6 546.2,404.9 546.4,415.3 546.4,425.7 546.5,436.1 546.4,446.5 546.3,446.5 537.1,446.5 537.1,449.9 460.4,470.5" fill="none" stroke="#0000ff" stroke-width="0.6" stroke-opacity="0.36" stroke-linejoin="miter" stroke-miterlimit="2"/>
<polyline points="546.8,394.6 546.9,403.8 546.7,413.1 546.9,422.3 546.8,431.6 546.7,440.8 546.7,440.8 537.0,440.8 537.0,441.6 461.4,453.5" fill="none" stroke="#0000ff" stroke-width="0.6" stroke-opacity="0.36" stroke-linejoin="miter" stroke-miterlimit="2"/>
<polyline points="546.1,394.6 546.6,404.8 547.0,415.1 546.4,425.3 546.5,435.6 546.6,445.9 546.5,445.9 537.9,445.9 537.9,446.6 460.7,461.5" fill="none" stroke="#0000ff" stroke-width="0.6" stroke-opacity="0.36" stroke-linejoin="miter" stroke-miterlimit="2"/>
<polyline points="546.3,394.6 546.6,403.8 546.9,413.1 546.8,422.3 546.4,431.6 547.4,440.8 546.7,440.8 538.0,440.8 538.0,443.8 460.8,456.5" fill="none" stroke="#0000ff" stroke-width="0.6" stroke-opacity="0.36" stroke-linejoin="miter" stroke-miterlimit="2"/>
<polyline points="546.6,394.6 546.9,404.3 546.9,414.0 546.4,423.7 546.8,433.5 547.1,443.2 546.7,443.2 538.0,443.2 538.0,445.1 460.8,456.5" fill="none" stroke="#0000ff" stroke-width="0.6" stroke-opacity="0.36" stroke-linejoin="miter" stroke-miterlimit="2"/>
<polyline points="546.6,394.6 546.1,405.5 546.5,416.4 546.1,427.3 546.2,438.2 546.2,449.2 546.4,449.2 538.2,449.2 538.2,451.4 461.5,471.5" fill="none" stroke="#0000ff" stroke-width="0.6" stroke-opacity="0.36" stroke-linejoin="miter" stroke-miterlimit="2"/>
<polyline points="545.9,394.6 546.4,405.0 546.2,415.5 546.8,426.0 546.2,436.4 546.5,446.9 546.5,446.9 536.9,446.9 536.9,448.4 461.8,461.5" fill="none" stroke="#0000ff" stroke-width="0.6" stroke-opacity="0.36" stroke-linejoin="miter" stroke-miterlimit="2"/>
<polyline points="546.7,394.6 547.1,404.6 546.4,414.6 547.0,424.6 546.8,434.6 546.6,444.6 546.7,444.6 537.2,444.6 537.2,445.7 461.6,458.5" fill="none" stroke="#0000ff" stroke-width="0.6" stroke-opacity="0.36" stroke-linejoin="miter" stroke-miterlimit="2"/>
<polyline points="546.4,394.6 546.5,404.6 545.8,414.7 546.4,424.8 546.3,434.9 546.6,445.0 546.4,445.0 536.9,445.0 536.9,448.5 461.0,462.5" fill="none" stroke="#0000ff" stroke-width="0.6" stroke-opacity="0.36" stroke-linejoin="miter" stroke-miterlimit="2"/>
<polyline points="546.0,394.6 546.0,404.7 546.0,414.8 545.9,424.9 546.0,435.0 545.9,445.2 546.2,445.2 538.1,445.2 538.1,447.6 461.5,462.5" fill="none" stroke="#0000ff" stroke-width="0.6" stroke-opacity="0.36" stroke-linejoin="miter" stroke-miterlimit="2"/>
<polyline points="546.4,394.6 546.4,404.5 546.4,414.4 546.1,424.3 546.8,434.3 546.5,444.2 546.5,444.2 537.5,444.2 537.5,447.9 461.6,461.5" fill="none" stroke="#0000ff" stroke-width="0.6" stroke-opacity="0.36" stroke-linejoin="miter" stroke-miterlimit="2"/>
<polyline points="546.3,394.6 546.5,404.8 546.2,415.0 546.6,425.3 546.4,435.5 546.3,445.7 546.5,445.7 537.1,445.7 537.1,447.0 461.2,462.5" fill="none" stroke="#0000ff" stroke-width="0.6" stroke-opacity="0.36" stroke-linejoin="miter" stroke-miterlimit="2"/>
<polyline points="545.5,394.6 546.5,404.3 546.3,414.0 546.2,423.8 546.2,433.5 546.1,443.3 546.1,443.3 537.9,443.3 537.9,445.3 460.6,456.5" fill="none" stroke="#0000ff" stroke-width="0.6" stroke-opacity="0.36" stroke-linejoin="miter" stroke-miterlimit="2"/>
<polyline points="546.7,394.6 546.4,404.5 546.8,414.4 546.7,424.3 546.4,434.2 546.6,444.1 546.6,444.1 536.8,444.1 536.8,444.9 460.5,455.5" fill="none" stroke="#0000ff" stroke-width="0.6" stroke-opacity="0.36" stroke-linejoin="miter" stroke-miterlimit="2"/>
<polyline points="546.3,394.6 546.3,404.2 546.1,413.9 546.4,423.6 546.1,433.3 545.9,443.0 546.0,443.0 537.0,443.0 537.0,446.7 460.4,462.5" fill="none" stroke="#0000ff" stroke-width="0.6" stroke-opacity="0.36" stroke-linejoin="miter" stroke-miterlimit="2"/>
<polyline points="546.7,394.6 547.2,404.4 546.5,414.2 546.9,424.0 547.4,433.8 547.2,443.6 546.9,443.6 537.8,443.6 537.8,445.0 460.6,457.5" fill="none" stroke="#0000ff" stroke-width="0.6" stroke-opacity="0.36" stroke-linejoin="miter" stroke-miterlimit="2"/>
<polyline points="545.8,394.6 546.0,404.8 545.9,415.0 546.1,425.2 545.8,435.5 546.1,445.7 546.1,445.7 537.2,445.7 537.2,449.4 461.0,466.5" fill="none" stroke="#0000ff" stroke-width="0.6" stroke-opacity="0.36" stroke-linejoin="miter" stroke-miterlimit="2"/>
<polyline points="546.0,394.6 546.1,404.4 546.4,414.2 546.1,424.0 546.1,433.9 546.3,443.7 546.2,443.7 537.6,443.7 537.6,444.7 460.9,457.5" fill="none" stroke="#0000ff" stroke-width="0.6" stroke-opacity="0.36" stroke-linejoin="miter" stroke-miterlimit="2"/>
<polyline points="546.4,394.6 547.3,404.1 546.1,413.6 546.6,423.1 547.3,432.6 547.2,442.1 546.8,442.1 538.1,442.1 538.1,445.8 461.6,454.5" fill="none" stroke="#0000ff" stroke-width="0.6" stroke-opacity="0.36" stroke-linejoin="miter" stroke-miterlimit="2"/>
<polyline points="546.5,394.6 546.4,404.7 546.4,414.8 546.3,424.9 547.0,435.0 547.0,445.1 546.7,445.1 537.4,445.1 537.4,447.6 460.6,461.5" fill="none" stroke="#0000ff" stroke-width="0.6" stroke-opacity="0.36" stroke-linejoin="miter" stroke-miterlimit="2"/>
<polyline points="545.9,394.6 546.4,403.8 546.0,413.1 545.8,422.3 546.0,431.6 546.3,440.8 546.3,440.8 538.0,440.8 538.0,444.0 461.2,458.5" fill="none" stroke="#0000ff" stroke-width="0.6" stroke-opacity="0.36" stroke-linejoin="miter" stroke-miterlimit="2"/>
<polyline points="546.2,394.6 546.2,403.8 546.6,413.1 546.9,422.3 547.1,431.6 546.8,440.8 546.7,440.8 537.3,440.8 537.3,442.3 460.4,456.5" fill="none" stroke="#0000ff" stroke-width="0.6" stroke-opacity="0.36" stroke-linejoin="miter" stroke-miterlimit="2"/>
<polyline points="546.3,394.6 546.5,404.6 546.8,414.7 546.6,424.8 546.7,434.9 546.8,444.9 546.7,444.9 537.2,444.9 537.2,446.0 461.5,462.5" fill="none" stroke="#0000ff" stroke-width="0.6" stroke-opacity="0.36" stroke-linejoin="miter" stroke-miterlimit="2"/>
<polyline points="546.0,394.6 545.7,404.1 546.2,413.7 546.6,423.2 546.0,432.8 546.4,442.4 546.3,442.4 537.7,442.4 537.7,445.8 461.4,456.5" fill="none" stroke="#0000ff" stroke-width="0.6" stroke-opacity="0.36" stroke-linejoin="miter" stroke-miterlimit="2"/>
<polyline points="546.4,394.6 545.9,404.6 546.3,414.5 546.3,424.5 546.4,434.5 546.3,444.5 546.4,444.5 536.9,444.5 536.9,447.8 460.5,463.5" fill="none" stroke="#0000ff" stroke-width="0.6" stroke-opacity="0.36" stroke-linejoin="miter" stroke-miterlimit="2"/>
<polyline points="545.9,394.6 546.6,404.2 546.5,413.9 546.6,423.6 546.7,433.3 546.9,442.9 546.7,442.9 537.0,442.9 537.0,444.7 461.4,461.5" fill="none" stroke="#0000ff" stroke-width="0.6" stroke-opacity="0.36" stroke-linejoin="miter" stroke-miterlimit="2"/>
<polyline points="545.9,394.6 546.5,405.3 546.8,416.1 546.4,426.8 546.5,437.6 546.7,448.3 546.5,448.3 538.1,448.3 538.1,448.4 460.2,462.5" fill="none" stroke="#0000ff" stroke-width="0.6" stroke-opacity="0.36" stroke-linejoin="miter" stroke-miterlimit="2"/>
<polyline points="546.2,394.6 546.5,404.7 546.4,414.8 545.9,424.9 546.1,435.0 546.1,445.1 546.4,445.1 537.7,445.1 537.7,446.0 461.8,462.5" fill="none" stroke="#0000ff" stroke-width="0.6" stroke-opacity="0.36" stroke-linejoin="miter" stroke-miterlimit="2"/>
<polyline points="546.5,394.6 546.6,405.4 546.6,416.2 546.9,427.0 546.3,437.8 546.6,448.6 546.7,448.6 537.9,448.6 537.9,450.8 460.2,470.5" fill="none" stroke="#0000ff" stroke-width="0.6" stroke-opacity="0.36" stroke-linejoin="miter" stroke-miterlimit="2"/>
<polyline points="545.8,394.6 546.4,403.8 546.0,413.1 546.1,422.3 546.0,431.6 546.1,440.8 546.2,440.8 537.8,440.8 537.8,443.1 460.5,456.5" fill="none" stroke="#0000ff" stroke-width="0.6" stroke-opacity="0.36" stroke-linejoin="miter" stroke-miterlimit="2"/>
<polyline points="546.4,394.6 546.6,403.8 546.5,413.1 546.4,422.3 546.5,431.6 546.9,440.8 546.5,440.8 537.5,440.8 537.5,441.4 460.3,458.5" fill="none" stroke="#0000ff" stroke-width="0.6" stroke-opacity="0.36" stroke-linejoin="miter" stroke-miterlimit="2"/>
<polyline points="546.6,394.6 546.9,404.0 546.5,413.5 546.5,423.0 547.0,432.5 546.6,441.9 546.5,441.9 537.0,441.9 537.0,445.0 461.5,460.5" fill="none" stroke="#0000ff" stroke-width="0.6" stroke-opacity="0.36" stroke-linejoin="miter" stroke-miterlimit="2"/>
<polyline points="545.8,394.6 546.5,404.9 546.7,415.3 546.5,425.7 546.5,436.0 546.3,446.4 546.4,446.4 537.1,446.4 537.1,449.6 461.2,465.5" fill="none" stroke="#0000ff" stroke-width="0.6" stroke-opacity="0.36" stroke-linejoin="miter" stroke-miterlimit="2"/>
<polyline points="546.8,394.6 547.3,405.8 547.3,417.0 546.7,428.3 546.9,439.5 547.2,450.7 546.9,450.7 536.8,450.7 536.8,451.6 460.8,465.5" fill="none" stroke="#0000ff" stroke-width="0.6" stroke-opacity="0.36" stroke-linejoin="miter" stroke-miterlimit="2"/>
<polyline points="546.4,394.6 546.9,404.2 546.7,413.9 547.4,423.6 546.3,433.3 546.6,442.9 546.5,442.9 536.7,442.9 536.7,445.7 461.2,455.5" fill="none" stroke="#0000ff" stroke-width="0.6" stroke-opacity="0.36" stroke-linejoin="miter" stroke-miterlimit="2"/>
<polyline points="546.2,394.6 546.5,403.8 546.8,413.1 546.3,422.3 546.1,431.6 546.5,440.8 546.4,440.8 538.0,440.8 538.0,442.9 460.2,458.5" fill="none" stroke="#0000ff" stroke-width="0.6" stroke-opacity="0.36" stroke-linejoin="miter" stroke-miterlimit="2"/>
<polyline points="545.9,394.6 546.2,404.9 546.0,415.3 546.1,425.7 545.9,436.1 545.9,446.5 546.2,446.5 537.8,446.5 537.8,449.2 461.7,466.5" fill="none" stroke="#0000ff" stroke-width="0.6" stroke-opacity="0.36" stroke-linejoin="miter" stroke-miterlimit="2"/>
<polyline points="545.9,394.6 545.9,404.6 546.1,414.7 546.1,424.7 546.0,434.8 546.0,444.8 546.0,444.8 537.2,444.8 537.2,447.9 461.4,464.5" fill="none" stroke="#0000ff" stroke-width="0.6" stroke-opacity="0.36" stroke-linejoin="miter" stroke-miterlimit="2"/>
<polyline points="545.9,394.6 545.7,405.6 546.2,416.7 546.0,427.8 546.5,438.9 546.4,450.0 546.2,450.0 537.7,450.0 537.7,450.6 460.5,471.5" fill="none" stroke="#0000ff" stroke-width="0.6" stroke-opacity="0.36" stroke-linejoin="miter" stroke-miterlimit="2"/>
<polyline points="547.2,394.6 546.9,405.3 547.0,416.1 546.6,426.8 546.9,437.6 546.6,448.3 546.9,448.3 537.2,448.3 537.2,449.6 460.9,469.5" fill="none" stroke="#0000ff" stroke-width="0.6" stroke-opacity="0.36" stroke-linejoin="miter" stroke-miterlimit="2"/>
<polyline points="546.2,394.6 546.3,404.5 546.3,414.5 546.4,424.4 546.6,434.4 546.4,444.4 546.3,444.4 537.8,444.4 537.8,444.7 460.4,458.5" fill="none" stroke="#0000ff" stroke-width="0.6" stroke-opacity="0.36" stroke-linejoin="miter" stroke-miterlimit="2"/>
<polyline points="545.5,394.6 546.1,404.3 545.7,414.1 546.6,423.8 545.8,433.6 545.9,443.3 546.1,443.3 538.0,443.3 538.0,443.9 460.2,453.5" fill="none" stroke="#0000ff" stroke-width="0.6" stroke-opacity="0.36" stroke-linejoin="miter" stroke-miterlimit="2"/>
<polyline points="546.2,394.6 546.6,404.6 546.7,414.7 546.2,424.8 546.7,434.8 546.5,444.9 546.6,444.9 538.0,444.9 538.0,448.3 461.1,468.5" fill="none" stroke="#0000ff" stroke-width="0.6" stroke-opacity="0.36" stroke-linejoin="miter" stroke-miterlimit="2"/>
<polyline points="545.4,394.6 546.0,403.9 545.7,413.1 545.9,422.4 545.4,431.7 545.8,441.0 545.9,441.0 537.0,441.0 537.0,443.7 461.1,460.5" fill="none" stroke="#0000ff" stroke-width="0.6" stroke-opacity="0.36" stroke-linejoin="miter" stroke-miterlimit="2"/>
<polyline points="546.0,394.6 545.8,404.1 545.8,413.7 545.9,423.3 546.3,432.8 546.2,442.4 546.2,442.4 538.1,442.4 538.1,443.9 460.4,462.5" fill="none" stroke="#0000ff" stroke-width="0.6" stroke-opacity="0.36" stroke-linejoin="miter" stroke-miterlimit="2"/>
<polyline points="546.6,394.6 546.5,405.4 546.7,416.2 546.6,427.0 546.7,437.8 546.7,448.6 546.6,448.6 536.9,448.6 536.9,451.3 461.2,468.5" fill="none" stroke="#0000ff" stroke-width="0.6" stroke-opacity="0.36" stroke-linejoin="miter" stroke-miterlimit="2"/>
<polyline points="546.9,394.6 546.6,403.8 546.8,413.1 546.7,422.3 547.2,431.6 546.9,440.9 547.0,440.9 537.3,440.9 537.3,442.5 461.6,457.5" fill="none" stroke="#0000ff" stroke-width="0.6" stroke-opacity="0.36" stroke-linejoin="miter" stroke-miterlimit="2"/>
<polyline points="546.4,394.6 546.4,404.4 546.0,414.2 546.3,424.1 546.1,433.9 546.4,443.7 546.2,443.7 536.7,443.7 536.7,446.5 461.7,462.5" fill="none" stroke="#0000ff" stroke-width="0.6" stroke-opacity="0.36" stroke-linejoin="miter" stroke-miterlimit="2"/>
<polyline points="460.6,458.5 428.4,458.5" fill="none" stroke="#0000ff" stroke-width="1.0" stroke-opacity="0.2" stroke-linejoin="miter" stroke-miterlimit="2"/>
<polyline points="460.6,471.5 428.4,471.5" fill="none" stroke="#0000ff" stroke-width="1.0" stroke-opacity="0.2" stroke-linejoin="miter" stroke-miterlimit="2"/>
<polyline points="460.3,457.5 428.4,457.5" fill="none" stroke="#0000ff" stroke-width="1.0" stroke-opacity="0.2" stroke-linejoin="miter" stroke-miterlimit="2"/>
<polyline points="461.6,456.5 428.4,456.5" fill="none" stroke="#0000ff" stroke-width="1.0" stroke-opacity="0.2" stroke-linejoin="miter" stroke-miterlimit="2"/>
<polyline points="460.2,457.5 428.4,457.5" fill="none" stroke="#0000ff" stroke-width="1.0" stroke-opacity="0.2" stroke-linejoin="miter" stroke-miterlimit="2"/>
<polyline points="461.1,462.5 428.4,462.5" fill="none" stroke="#0000ff" stroke-width="1.0" stroke-opacity="0.2" stroke-linejoin="miter" stroke-miterlimit="2"/>
<polyline points="461.4,460.5 428.4,460.5" fill="none" stroke="#0000ff" stroke-width="1.0" stroke-opacity="0.2" stroke-linejoin="miter" stroke-miterlimit="2"/>
<polyline points="460.3,464.5 428.4,464.5" fill="none" stroke="#0000ff" stroke-width="1.0" stroke-opacity="0.2" stroke-linejoin="miter" stroke-miterlimit="2"/>
<polyline points="461.0,461.5 428.4,461.5" fill="none" stroke="#0000ff" stroke-width="1.0" stroke-opacity="0.2" stroke-linejoin="miter" stroke-miterlimit="2"/>
<polyline points="460.6,459.5 428.4,459.5" fill="none" stroke="#0000ff" stroke-width="1.0" stroke-opacity="0.2" stroke-linejoin="miter" stroke-miterlimit="2"/>
<polyline points="460.8,464.5 428.4,464.5" fill="none" stroke="#0000ff" stroke-width="1.0" stroke-opacity="0.2" stroke-linejoin="miter" stroke-miterlimit="2"/>
<polyline points="460.7,457.5 428.4,457.5" fill="none" stroke="#0000ff" stroke-width="1.0" stroke-opacity="0.2" stroke-linejoin="miter" stroke-miterlimit="2"/>
<polyline points="460.4,470.5 428.4,470.5" fill="none" stroke="#0000ff" stroke-width="1.0" stroke-opacity="0.2" stroke-linejoin="miter" stroke-miterlimit="2"/>
<polyline points="461.4,453.5 428.4,453.5" fill="none" stroke="#0000ff" stroke-width="1.0" stroke-opacity="0.2" stroke-linejoin="miter" stroke-miterlimit="2"/>
<polyline points="460.7,461.5 428.4,461.5" fill="none" stroke="#0000ff" stroke-width="1.0" stroke-opacity="0.2" stroke-linejoin="miter" stroke-miterlimit="2"/>
<polyline points="460.8,456.5 428.4,456.5" fill="none" stroke="#0000ff" stroke-width="1.0" stroke-opacity="0.2" stroke-linejoin="miter" stroke-miterlimit="2"/>
<polyline points="460.8,456.5 428.4,456.5" fill="none" stroke="#0000ff" stroke-width="1.0" stroke-opacity="0.2" stroke-linejoin="miter" stroke-miterlimit="2"/>
<polyline points="461.5,471.5 428.4,471.5" fill="none" stroke="#0000ff" stroke-width="1.0" stroke-opacity="0.2" stroke-linejoin="miter" stroke-miterlimit="2"/>
<polyline points="461.8,461.5 428.4,461.5" fill="none" stroke="#0000ff" stroke-width="1.0" stroke-opacity="0.2" stroke-linejoin="miter" stroke-miterlimit="2"/>
<polyline points="461.6,458.5 428.4,458.5" fill="none" stroke="#0000ff" stroke-width="1.0" stroke-opacity="0.2" stroke-linejoin="miter" stroke-miterlimit="2"/>
<polyline points="461.0,462.5 428.4,462.5" fill="none" stroke="#0000ff" stroke-width="1.0" stroke-opacity="0.2" stroke-linejoin="miter" stroke-miterlimit="2"/>
<polyline points="461.5,462.5 428.4,462.5" fill="none" stroke="#0000ff" stroke-width="1.0" stroke-opacity="0.2" stroke-linejoin="miter" stroke-miterlimit="2"/>
<polyline points="461.6,461.5 428.4,461.5" fill="none" stroke="#0000ff" stroke-width="1.0" stroke-opacity="0.2" stroke-linejoin="miter" stroke-miterlimit="2"/>
<polyline points="461.2,462.5 428.4,462.5" fill="none" stroke="#0000ff" stroke-width="1.0" stroke-opacity="0.2" stroke-linejoin="miter" stroke-miterlimit="2"/>
<polyline points="460.6,456.5 428.4,456.5" fill="none" stroke="#0000ff" stroke-width="1.0" stroke-opacity="0.2" stroke-linejoin="miter" stroke-miterlimit="2"/>
<polyline points="460.5,455.5 428.4,455.5" fill="none" stroke="#0000ff" stroke-width="1.0" stroke-opacity="0.2" stroke-linejoin="miter" stroke-miterlimit="2"/>
<polyline points="460.4,462.5 428.4,462.5" fill="none" stroke="#0000ff" stroke-width="1.0" stroke-opacity="0.2" stroke-linejoin="miter" stroke-miterlimit="2"/>
<polyline points="460.6,457.5 428.4,457.5" fill="none" stroke="#0000ff" stroke-width="1.0" stroke-opacity="0.2" stroke-linejoin="miter" stroke-miterlimit="2"/>
<polyline points="461.0,466.5 428.4,466.5" fill="none" stroke="#0000ff" stroke-width="1.0" stroke-opacity="0.2" stroke-linejoin="miter" stroke-miterlimit="2"/>
<polyline points="460.9,457.5 428.4,457.5" fill="none" stroke="#0000ff" stroke-width="1.0" stroke-opacity="0.2" stroke-linejoin="miter" stroke-miterlimit="2"/>
<polyline points="461.6,454.5 428.4,454.5" fill="none" stroke="#0000ff" stroke-width="1.0" stroke-opacity="0.2" stroke-linejoin="miter" stroke-miterlimit="2"/>
<polyline points="460.6,461.5 428.4,461.5" fill="none" stroke="#0000ff" stroke-width="1.0" stroke-opacity="0.2" stroke-linejoin="miter" stroke-miterlimit="2"/>
<polyline points="461.2,458.5 428.4,458.5" fill="none" stroke="#0000ff" stroke-width="1.0" stroke-opacity="0.2" stroke-linejoin="miter" stroke-miterlimit="2"/>
<polyline points="460.4,456.5 428.4,456.5" fill="none" stroke="#0000ff" stroke-width="1.0" stroke-opacity="0.2" stroke-linejoin="miter" stroke-miterlimit="2"/>
<polyline points="461.5,462.5 428.4,462.5" fill="none" stroke="#0000ff" stroke-width="1.0" stroke-opacity="0.2" stroke-linejoin="miter" stroke-miterlimit="2"/>
<polyline points="461.4,456.5 428.4,456.5" fill="none" stroke="#0000ff" stroke-width="1.0" stroke-opacity="0.2" stroke-linejoin="miter" stroke-miterlimit="2"/>
<polyline points="460.5,463.5 428.4,463.5" fill="none" stroke="#0000ff" stroke-width="1.0" stroke-opacity="0.2" stroke-linejoin="miter" stroke-miterlimit="2"/>
<polyline points="461.4,461.5 428.4,461.5" fill="none" stroke="#0000ff" stroke-width="1.0" stroke-opacity="0.2" stroke-linejoin="miter" stroke-miterlimit="2"/>
<polyline points="460.2,462.5 428.4,462.5" fill="none" stroke="#0000ff" stroke-width="1.0" stroke-opacity="0.2" stroke-linejoin="miter" stroke-miterlimit="2"/>
<polyline points="461.8,462.5 428.4,462.5" fill="none" stroke="#0000ff" stroke-width="1.0" stroke-opacity="0.2" stroke-linejoin="miter" stroke-miterlimit="2"/>
<polyline points="460.2,470.5 428.4,470.5" fill="none" stroke="#0000ff" stroke-width="1.0" stroke-opacity="0.2" stroke-linejoin="miter" stroke-miterlimit="2"/>
<polyline points="460.5,456.5 428.4,456.5" fill="none" stroke="#0000ff" stroke-width="1.0" stroke-opacity="0.2" stroke-linejoin="miter" stroke-miterlimit="2"/>
<polyline points="460.3,458.5 428.4,458.5" fill="none" stroke="#0000ff" stroke-width="1.0" stroke-opacity="0.2" stroke-linejoin="miter" stroke-miterlimit="2"/>
<polyline points="461.5,460.5 428.4,460.5" fill="none" stroke="#0000ff" stroke-width="1.0" stroke-opacity="0.2" stroke-linejoin="miter" stroke-miterlimit="2"/>
<polyline points="461.2,465.5 428.4,465.5" fill="none" stroke="#0000ff" stroke-width="1.0" stroke-opacity="0.2" stroke-linejoin="miter" stroke-miterlimit="2"/>
<polyline points="460.8,465.5 428.4,465.5" fill="none" stroke="#0000ff" stroke-width="1.0" stroke-opacity="0.2" stroke-linejoin="miter" stroke-miterlimit="2"/>
<polyline points="461.2,455.5 428.4,455.5" fill="none" stroke="#0000ff" stroke-width="1.0" stroke-opacity="0.2" stroke-linejoin="miter" stroke-miterlimit="2"/>
<polyline points="460.2,458.5 428.4,458.5" fill="none" stroke="#0000ff" stroke-width="1.0" stroke-opacity="0.2" stroke-linejoin="miter" stroke-miterlimit="2"/>
<polyline points="461.7,466.5 428.4,466.5" fill="none" stroke="#0000ff" stroke-width="1.0" stroke-opacity="0.2" stroke-linejoin="miter" stroke-miterlimit="2"/>
<polyline points="461.4,464.5 428.4,464.5" fill="none" stroke="#0000ff" stroke-width="1.0" stroke-opacity="0.2" stroke-linejoin="miter" stroke-miterlimit="2"/>
<polyline points="460.5,471.5 428.4,471.5" fill="none" stroke="#0000ff" stroke-width="1.0" stroke-opacity="0.2" stroke-linejoin="miter" stroke-miterlimit="2"/>
<polyline points="460.9,469.5 428.4,469.5" fill="none" stroke="#0000ff" stroke-width="1.0" stroke-opacity="0.2" stroke-linejoin="miter" stroke-miterlimit="2"/>
<polyline points="460.4,458.5 428.4,458.5" fill="none" stroke="#0000ff" stroke-width="1.0" stroke-opacity="0.2" stroke-linejoin="miter" stroke-miterlimit="2"/>
<polyline points="460.2,453.5 428.4,453.5" fill="none" stroke="#0000ff" stroke-width="1.0" stroke-opacity="0.2" stroke-linejoin="miter" stroke-miterlimit="2"/>
<polyline points="461.1,468.5 428.4,468.5" fill="none" stroke="#0000ff" stroke-width="1.0" stroke-opacity="0.2" stroke-linejoin="miter" stroke-miterlimit="2"/>
<polyline points="461.1,460.5 428.4,460.5" fill="none" stroke="#0000ff" stroke-width="1.0" stroke-opacity="0.2" stroke-linejoin="miter" stroke-miterlimit="2"/>
<polyline points="460.4,462.5 428.4,462.5" fill="none" stroke="#0000ff" stroke-width="1.0" stroke-opacity="0.2" stroke-linejoin="miter" stroke-miterlimit="2"/>
<polyline points="461.2,468.5 428.4,468.5" fill="none" stroke="#0000ff" stroke-width="1.0" stroke-opacity="0.2" stroke-linejoin="miter" stroke-miterlimit="2"/>
<polyline points="461.6,457.5 428.4,457.5" fill="none" stroke="#0000ff" stroke-width="1.0" stroke-opacity="0.2" stroke-linejoin="miter" stroke-miterlimit="2"/>
<polyline points="461.7,462.5 428.4,462.5" fill="none" stroke="#0000ff" stroke-width="1.0" stroke-opacity="0.2" stroke-linejoin="miter" stroke-miterlimit="2"/>
<polyline points="651.4,394.6 652.2,404.5 652.2,414.4 652.1,424.3 652.2,434.3 652.0,444.2 652.2,444.2 635.2,444.2 635.2,445.2 595.7,457.5" fill="none" stroke="#ff0000" stroke-width="0.6" stroke-opacity="0.36" stroke-linejoin="miter" stroke-miterlimit="2"/>
<polyline points="555.5,457.5 560.3,531.5 542.2,531.5 545.8,581.7" fill="none" stroke="#ff0000" stroke-width="0.6" stroke-opacity="0.36" stroke-linejoin="miter" stroke-miterlimit="2"/>
<polyline points="650.9,394.6 651.4,403.7 650.8,412.9 651.2,422.1 651.3,431.3 651.2,440.5 651.5,440.5 635.0,440.5 635.0,440.8 595.6,454.5" fill="none" stroke="#ff0000" stroke-width="0.6" stroke-opacity="0.36" stroke-linejoin="miter" stroke-miterlimit="2"/>
<polyline points="555.9,454.5 560.7,532.5 544.2,532.5 549.0,581.7" fill="none" stroke="#ff0000" stroke-width="0.6" stroke-opacity="0.36" stroke-linejoin="miter" stroke-miterlimit="2"/>
<polyline points="651.5,394.6 651.3,404.1 651.4,413.7 651.3,423.3 651.7,432.8 651.3,442.4 651.6,442.4 634.5,442.4 634.5,442.5 596.0,460.5" fill="none" stroke="#ff0000" stroke-width="0.6" stroke-opacity="0.36" stroke-linejoin="miter" stroke-miterlimit="2"/>
<polyline points="555.7,460.5 560.4,531.5 545.0,531.5 548.1,581.7" fill="none" stroke="#ff0000" stroke-width="0.6" stroke-opacity="0.36" stroke-linejoin="miter" stroke-miterlimit="2"/>
<polyline points="652.3,394.6 652.1,404.5 652.1,414.4 652.0,424.3 652.4,434.2 652.4,444.1 652.4,444.1 634.8,444.1 634.8,446.2 595.8,462.5" fill="none" stroke="#ff0000" stroke-width="0.6" stroke-opacity="0.36" stroke-linejoin="miter" stroke-miterlimit="2"/>
<polyline points="556.0,462.5 559.7,514.5 540.5,514.5 545.5,581.7" fill="none" stroke="#ff0000" stroke-width="0.6" stroke-opacity="0.36" stroke-linejoin="miter" stroke-miterlimit="2"/>
<polyline points="650.3,394.6 650.0,405.2 650.5,415.9 650.5,426.6 650.2,437.3 650.5,448.0 650.3,448.0 634.3,448.0 634.3,450.4 596.2,464.5" fill="none" stroke="#ff0000" stroke-width="0.6" stroke-opacity="0.36" stroke-linejoin="miter" stroke-miterlimit="2"/>
<polyline points="556.2,464.5 560.7,526.5 546.9,526.5 550.8,581.7" fill="none" stroke="#ff0000" stroke-width="0.6" stroke-opacity="0.36" stroke-linejoin="miter" stroke-miterlimit="2"/>
<polyline points="650.8,394.6 650.5,404.3 651.4,413.9 651.2,423.6 651.7,433.3 651.0,443.0 651.2,443.0 634.8,443.0 634.8,444.2 596.1,457.5" fill="none" stroke="#ff0000" stroke-width="0.6" stroke-opacity="0.36" stroke-linejoin="miter" stroke-miterlimit="2"/>
<polyline points="556.1,457.5 559.4,507.5 546.5,507.5 552.8,581.7" fill="none" stroke="#ff0000" stroke-width="0.6" stroke-opacity="0.36" stroke-linejoin="miter" stroke-miterlimit="2"/>
<polyline points="651.3,394.6 650.9,405.0 651.4,415.4 651.5,425.8 651.8,436.3 651.5,446.7 651.5,446.7 633.7,446.7 633.7,448.0 596.1,462.5" fill="none" stroke="#ff0000" stroke-width="0.6" stroke-opacity="0.36" stroke-linejoin="miter" stroke-miterlimit="2"/>
<polyline points="555.7,462.5 561.3,545.5 547.3,545.5 550.9,581.7" fill="none" stroke="#ff0000" stroke-width="0.6" stroke-opacity="0.36" stroke-linejoin="miter" stroke-miterlimit="2"/>
<polyline points="650.9,394.6 651.3,403.8 651.7,413.1 651.2,422.4 651.2,431.7 651.2,441.0 651.3,441.0 634.4,441.0 634.4,444.3 596.2,459.5" fill="none" stroke="#ff0000" stroke-width="0.6" stroke-opacity="0.36" stroke-linejoin="miter" stroke-miterlimit="2"/>
<polyline points="555.9,459.5 560.7,531.5 540.9,531.5 544.9,581.7" fill="none" stroke="#ff0000" stroke-width="0.6" stroke-opacity="0.36" stroke-linejoin="miter" stroke-miterlimit="2"/>
<polyline points="651.3,394.6 651.3,403.7 651.3,412.9 652.0,422.1 651.8,431.3 651.9,440.5 651.6,440.5 634.6,440.5 634.6,442.0 595.6,453.5" fill="none" stroke="#ff0000" stroke-width="0.6" stroke-opacity="0.36" stroke-linejoin="miter" stroke-miterlimit="2"/>
<polyline points="555.5,453.5 560.9,541.5 544.4,541.5 546.7,581.7" fill="none" stroke="#ff0000" stroke-width="0.6" stroke-opacity="0.36" stroke-linejoin="miter" stroke-miterlimit="2"/>
<polyline points="652.1,394.6 651.9,404.8 652.1,415.0 652.4,425.2 652.3,435.4 652.4,445.6 652.3,445.6 635.0,445.6 635.0,445.8 595.9,459.5" fill="none" stroke="#ff0000" stroke-width="0.6" stroke-opacity="0.36" stroke-linejoin="miter" stroke-miterlimit="2"/>
<polyline points="556.2,459.5 562.2,551.5 545.3,551.5 548.4,581.7" fill="none" stroke="#ff0000" stroke-width="0.6" stroke-opacity="0.36" stroke-linejoin="miter" stroke-miterlimit="2"/>
<polyline points="650.4,394.6 651.2,403.7 650.7,412.9 651.1,422.1 650.5,431.3 650.7,440.5 650.9,440.5 634.5,440.5 634.5,441.0 596.1,455.5" fill="none" stroke="#ff0000" stroke-width="0.6" stroke-opacity="0.36" stroke-linejoin="miter" stroke-miterlimit="2"/>
<polyline points="555.4,455.5 560.7,540.5 540.8,540.5 543.7,581.7" fill="none" stroke="#ff0000" stroke-width="0.6" stroke-opacity="0.36" stroke-linejoin="miter" stroke-miterlimit="2"/>
<polyline points="650.7,394.6 651.0,404.2 651.0,413.8 651.2,423.4 651.0,433.1 651.3,442.7 651.4,442.7 634.7,442.7 634.7,442.9 595.0,459.5" fill="none" stroke="#ff0000" stroke-width="0.6" stroke-opacity="0.36" stroke-linejoin="miter" stroke-miterlimit="2"/>
<polyline points="556.0,459.5 560.3,524.5 543.9,524.5 548.4,581.7" fill="none" stroke="#ff0000" stroke-width="0.6" stroke-opacity="0.36" stroke-linejoin="miter" stroke-miterlimit="2"/>
<polyline points="651.5,394.6 651.4,404.3 651.5,414.1 651.5,423.9 652.1,433.7 651.3,443.5 651.8,443.5 634.9,443.5 634.9,446.3 594.9,464.5" fill="none" stroke="#ff0000" stroke-width="0.6" stroke-opacity="0.36" stroke-linejoin="miter" stroke-miterlimit="2"/>
<polyline points="556.1,464.5 561.9,549.5 540.9,549.5 543.6,581.7" fill="none" stroke="#ff0000" stroke-width="0.6" stroke-opacity="0.36" stroke-linejoin="miter" stroke-miterlimit="2"/>
<polyline points="650.9,394.6 650.7,404.9 650.5,415.2 651.0,425.5 651.0,435.8 651.0,446.1 651.1,446.1 635.2,446.1 635.2,447.1 595.8,458.5" fill="none" stroke="#ff0000" stroke-width="0.6" stroke-opacity="0.36" stroke-linejoin="miter" stroke-miterlimit="2"/>
<polyline points="556.0,458.5 560.4,526.5 543.4,526.5 548.5,581.7" fill="none" stroke="#ff0000" stroke-width="0.6" stroke-opacity="0.36" stroke-linejoin="miter" stroke-miterlimit="2"/>
<polyline points="649.7,394.6 650.5,404.5 650.8,414.4 650.7,424.4 650.4,434.3 650.7,444.3 650.9,444.3 633.5,444.3 633.5,445.8 595.8,464.5" fill="none" stroke="#ff0000" stroke-width="0.6" stroke-opacity="0.36" stroke-linejoin="miter" stroke-miterlimit="2"/>
<polyline points="555.8,464.5 560.7,534.5 542.5,534.5 545.8,581.7" fill="none" stroke="#ff0000" stroke-width="0.6" stroke-opacity="0.36" stroke-linejoin="miter" stroke-miterlimit="2"/>
<polyline points="650.3,394.6 651.4,404.3 650.9,414.0 651.0,423.7 651.3,433.4 651.5,443.1 651.2,443.1 633.8,443.1 633.8,444.0 596.4,456.5" fill="none" stroke="#ff0000" stroke-width="0.6" stroke-opacity="0.36" stroke-linejoin="miter" stroke-miterlimit="2"/>
<polyline points="556.0,456.5 560.2,522.5 544.6,522.5 549.6,581.7" fill="none" stroke="#ff0000" stroke-width="0.6" stroke-opacity="0.36" stroke-linejoin="miter" stroke-miterlimit="2"/>
<polyline points="650.9,394.6 651.4,405.3 651.5,416.0 651.4,426.7 651.4,437.4 651.3,448.2 651.7,448.2 633.8,448.2 633.8,448.5 595.0,466.5" fill="none" stroke="#ff0000" stroke-width="0.6" stroke-opacity="0.36" stroke-linejoin="miter" stroke-miterlimit="2"/>
<polyline points="555.9,466.5 561.1,537.5 543.5,537.5 546.8,581.7" fill="none" stroke="#ff0000" stroke-width="0.6" stroke-opacity="0.36" stroke-linejoin="miter" stroke-miterlimit="2"/>
<polyline points="650.6,394.6 652.0,403.9 651.5,413.2 651.9,422.5 651.6,431.8 651.7,441.1 651.6,441.1 635.0,441.1 635.0,442.2 596.1,455.5" fill="none" stroke="#ff0000" stroke-width="0.6" stroke-opacity="0.36" stroke-linejoin="miter" stroke-miterlimit="2"/>
<polyline points="555.8,455.5 561.2,543.5 545.4,543.5 548.4,581.7" fill="none" stroke="#ff0000" stroke-width="0.6" stroke-opacity="0.36" stroke-linejoin="miter" stroke-miterlimit="2"/>
<polyline points="651.2,394.6 651.2,404.3 651.4,414.1 652.4,423.9 651.8,433.7 652.1,443.5 651.8,443.5 634.3,443.5 634.3,446.4 595.2,462.5" fill="none" stroke="#ff0000" stroke-width="0.6" stroke-opacity="0.36" stroke-linejoin="miter" stroke-miterlimit="2"/>
<polyline points="555.7,462.5 560.7,535.5 542.2,535.5 546.4,581.7" fill="none" stroke="#ff0000" stroke-width="0.6" stroke-opacity="0.36" stroke-linejoin="miter" stroke-miterlimit="2"/>
<polyline points="652.0,394.6 652.1,404.7 652.3,414.9 651.9,425.1 652.6,435.2 652.4,445.4 652.3,445.4 635.4,445.4 635.4,446.6 596.5,470.5" fill="none" stroke="#ff0000" stroke-width="0.6" stroke-opacity="0.36" stroke-linejoin="miter" stroke-miterlimit="2"/>
<polyline points="556.0,470.5 559.5,511.5 547.1,511.5 553.1,581.7" fill="none" stroke="#ff0000" stroke-width="0.6" stroke-opacity="0.36" stroke-linejoin="miter" stroke-miterlimit="2"/>
<polyline points="651.8,394.6 651.6,405.0 651.7,415.5 652.1,426.0 651.5,436.4 652.4,446.9 652.1,446.9 634.0,446.9 634.0,449.8 596.5,470.5" fill="none" stroke="#ff0000" stroke-width="0.6" stroke-opacity="0.36" stroke-linejoin="miter" stroke-miterlimit="2"/>
<polyline points="555.8,470.5 559.5,514.5 545.7,514.5 550.3,581.7" fill="none" stroke="#ff0000" stroke-width="0.6" stroke-opacity="0.36" stroke-linejoin="miter" stroke-miterlimit="2"/>
<polyline points="651.7,394.6 651.8,405.1 652.1,415.7 651.8,426.3 652.4,436.9 651.5,447.5 651.9,447.5 634.7,447.5 634.7,447.5 595.8,456.5" fill="none" stroke="#ff0000" stroke-width="0.6" stroke-opacity="0.36" stroke-linejoin="miter" stroke-miterlimit="2"/>
<polyline points="555.9,456.5 561.1,538.5 545.6,538.5 548.7,581.7" fill="none" stroke="#ff0000" stroke-width="0.6" stroke-opacity="0.36" stroke-linejoin="miter" stroke-miterlimit="2"/>
<polyline points="650.5,394.6 651.0,404.7 650.9,414.8 651.3,425.0 651.1,435.1 651.3,445.2 651.2,445.2 635.1,445.2 635.1,445.6 595.5,458.5" fill="none" stroke="#ff0000" stroke-width="0.6" stroke-opacity="0.36" stroke-linejoin="miter" stroke-miterlimit="2"/>
<polyline points="555.4,458.5 560.6,537.5 545.6,537.5 549.3,581.7" fill="none" stroke="#ff0000" stroke-width="0.6" stroke-opacity="0.36" stroke-linejoin="miter" stroke-miterlimit="2"/>
<polyline points="651.6,394.6 652.3,403.9 652.0,413.3 651.8,422.6 652.2,431.9 652.3,441.3 652.1,441.3 635.3,441.3 635.3,444.5 596.1,455.5" fill="none" stroke="#ff0000" stroke-width="0.6" stroke-opacity="0.36" stroke-linejoin="miter" stroke-miterlimit="2"/>
<polyline points="555.7,455.5 560.1,526.5 544.4,526.5 547.6,581.7" fill="none" stroke="#ff0000" stroke-width="0.6" stroke-opacity="0.36" stroke-linejoin="miter" stroke-miterlimit="2"/>
<polyline points="650.2,394.6 650.8,404.2 650.9,413.7 650.5,423.3 650.5,432.9 650.8,442.5 650.8,442.5 633.6,442.5 633.6,445.4 595.3,455.5" fill="none" stroke="#ff0000" stroke-width="0.6" stroke-opacity="0.36" stroke-linejoin="miter" stroke-miterlimit="2"/>
<polyline points="556.3,455.5 561.3,536.5 542.6,536.5 546.8,581.7" fill="none" stroke="#ff0000" stroke-width="0.6" stroke-opacity="0.36" stroke-linejoin="miter" stroke-miterlimit="2"/>
<polyline points="651.4,394.6 651.8,404.1 651.5,413.7 651.7,423.3 651.4,432.9 651.6,442.5 651.8,442.5 635.1,442.5 635.1,443.6 595.2,457.5" fill="none" stroke="#ff0000" stroke-width="0.6" stroke-opacity="0.36" stroke-linejoin="miter" stroke-miterlimit="2"/>
<polyline points="555.3,457.5 560.0,530.5 547.0,530.5 551.8,581.7" fill="none" stroke="#ff0000" stroke-width="0.6" stroke-opacity="0.36" stroke-linejoin="miter" stroke-miterlimit="2"/>
<polyline points="651.2,394.6 651.0,404.5 651.6,414.4 651.8,424.3 651.8,434.2 652.0,444.1 651.6,444.1 634.1,444.1 634.1,446.4 596.1,464.5" fill="none" stroke="#ff0000" stroke-width="0.6" stroke-opacity="0.36" stroke-linejoin="miter" stroke-miterlimit="2"/>
<polyline points="555.5,464.5 561.3,547.5 544.6,547.5 547.9,581.7" fill="none" stroke="#ff0000" stroke-width="0.6" stroke-opacity="0.36" stroke-linejoin="miter" stroke-miterlimit="2"/>
<polyline points="652.0,394.6 652.4,404.5 652.3,414.4 652.5,424.4 652.5,434.3 652.5,444.3 652.6,444.3 633.6,444.3 633.6,448.1 595.9,462.5" fill="none" stroke="#ff0000" stroke-width="0.6" stroke-opacity="0.36" stroke-linejoin="miter" stroke-miterlimit="2"/>
<polyline points="555.9,462.5 560.6,531.5 546.4,531.5 550.7,581.7" fill="none" stroke="#ff0000" stroke-width="0.6" stroke-opacity="0.36" stroke-linejoin="miter" stroke-miterlimit="2"/>
<polyline points="651.2,394.6 651.3,404.5 651.1,414.4 651.4,424.3 651.5,434.2 651.4,444.2 651.5,444.2 634.0,444.2 634.0,445.8 595.3,458.5" fill="none" stroke="#ff0000" stroke-width="0.6" stroke-opacity="0.36" stroke-linejoin="miter" stroke-miterlimit="2"/>
<polyline points="556.1,458.5 559.6,511.5 541.7,511.5 546.8,581.7" fill="none" stroke="#ff0000" stroke-width="0.6" stroke-opacity="0.36" stroke-linejoin="miter" stroke-miterlimit="2"/>
<polyline points="650.6,394.6 651.0,404.8 651.4,415.1 651.3,425.4 651.4,435.7 651.3,446.0 651.5,446.0 633.8,446.0 633.8,448.7 595.2,461.5" fill="none" stroke="#ff0000" stroke-width="0.6" stroke-opacity="0.36" stroke-linejoin="miter" stroke-miterlimit="2"/>
<polyline points="556.1,461.5 560.2,521.5 545.3,521.5 550.1,581.7" fill="none" stroke="#ff0000" stroke-width="0.6" stroke-opacity="0.36" stroke-linejoin="miter" stroke-miterlimit="2"/>
<polyline points="651.7,394.6 651.9,404.0 652.2,413.5 652.7,422.9 652.7,432.4 652.2,441.9 652.5,441.9 634.4,441.9 634.4,445.2 595.0,461.5" fill="none" stroke="#ff0000" stroke-width="0.6" stroke-opacity="0.36" stroke-linejoin="miter" stroke-miterlimit="2"/>
<polyline points="556.1,461.5 559.9,515.5 543.5,515.5 548.0,581.7" fill="none" stroke="#ff0000" stroke-width="0.6" stroke-opacity="0.36" stroke-linejoin="miter" stroke-miterlimit="2"/>
<polyline points="651.3,394.6 651.5,405.7 651.8,416.8 651.5,427.9 651.7,439.0 651.5,450.1 651.7,450.1 634.2,450.1 634.2,450.8 595.7,469.5" fill="none" stroke="#ff0000" stroke-width="0.6" stroke-opacity="0.36" stroke-linejoin="miter" stroke-miterlimit="2"/>
<polyline points="556.1,469.5 562.0,550.5 541.7,550.5 544.2,581.7" fill="none" stroke="#ff0000" stroke-width="0.6" stroke-opacity="0.36" stroke-linejoin="miter" stroke-miterlimit="2"/>
<polyline points="651.2,394.6 651.6,404.3 651.3,414.1 651.6,423.8 652.2,433.6 651.7,443.3 651.8,443.3 635.0,443.3 635.0,446.7 595.5,462.5" fill="none" stroke="#ff0000" stroke-width="0.6" stroke-opacity="0.36" stroke-linejoin="miter" stroke-miterlimit="2"/>
<polyline points="555.4,462.5 559.8,525.5 544.9,525.5 549.2,581.7" fill="none" stroke="#ff0000" stroke-width="0.6" stroke-opacity="0.36" stroke-linejoin="miter" stroke-miterlimit="2"/>
<polyline points="650.4,394.6 650.3,405.1 650.7,415.7 650.3,426.3 650.7,436.9 650.5,447.4 650.7,447.4 635.4,447.4 635.4,449.0 595.2,464.5" fill="none" stroke="#ff0000" stroke-width="0.6" stroke-opacity="0.36" stroke-linejoin="miter" stroke-miterlimit="2"/>
<polyline points="556.3,464.5 561.2,534.5 542.5,534.5 546.8,581.7" fill="none" stroke="#ff0000" stroke-width="0.6" stroke-opacity="0.36" stroke-linejoin="miter" stroke-miterlimit="2"/>
<polyline points="651.4,394.6 652.2,403.7 651.8,412.9 651.7,422.1 652.1,431.3 652.3,440.5 652.2,440.5 634.1,440.5 634.1,441.6 595.2,453.5" fill="none" stroke="#ff0000" stroke-width="0.6" stroke-opacity="0.36" stroke-linejoin="miter" stroke-miterlimit="2"/>
<polyline points="555.6,453.5 560.5,534.5 543.4,534.5 547.4,581.7" fill="none" stroke="#ff0000" stroke-width="0.6" stroke-opacity="0.36" stroke-linejoin="miter" stroke-miterlimit="2"/>
<polyline points="651.5,394.6 651.6,403.8 651.4,413.1 651.5,422.3 651.4,431.6 651.5,440.9 651.6,440.9 634.7,440.9 634.7,443.7 596.0,455.5" fill="none" stroke="#ff0000" stroke-width="0.6" stroke-opacity="0.36" stroke-linejoin="miter" stroke-miterlimit="2"/>
<polyline points="556.1,455.5 560.8,530.5 543.2,530.5 547.8,581.7" fill="none" stroke="#ff0000" stroke-width="0.6" stroke-opacity="0.36" stroke-linejoin="miter" stroke-miterlimit="2"/>
<polyline points="651.3,394.6 651.4,404.3 651.3,414.1 651.5,423.8 651.8,433.6 651.9,443.3 651.8,443.3 634.3,443.3 634.3,443.6 595.6,456.5" fill="none" stroke="#ff0000" stroke-width="0.6" stroke-opacity="0.36" stroke-linejoin="miter" stroke-miterlimit="2"/>
<polyline points="556.3,456.5 561.0,531.5 541.0,531.5 544.7,581.7" fill="none" stroke="#ff0000" stroke-width="0.6" stroke-opacity="0.36" stroke-linejoin="miter" stroke-miterlimit="2"/>
<polyline points="650.8,394.6 651.8,403.8 651.2,413.1 651.0,422.4 651.6,431.7 651.7,441.0 651.6,441.0 635.5,441.0 635.5,442.4 596.5,455.5" fill="none" stroke="#ff0000" stroke-width="0.6" stroke-opacity="0.36" stroke-linejoin="miter" stroke-miterlimit="2"/>
<polyline points="555.4,455.5 560.4,535.5 541.7,535.5 545.5,581.7" fill="none" stroke="#ff0000" stroke-width="0.6" stroke-opacity="0.36" stroke-linejoin="miter" stroke-miterlimit="2"/>
<polyline points="650.4,394.6 651.1,403.7 650.8,412.9 650.8,422.1 651.1,431.3 651.2,440.5 651.2,440.5 633.6,440.5 633.6,442.1 595.2,454.5" fill="none" stroke="#ff0000" stroke-width="0.6" stroke-opacity="0.36" stroke-linejoin="miter" stroke-miterlimit="2"/>
<polyline points="555.9,454.5 560.8,533.5 541.4,533.5 545.0,581.7" fill="none" stroke="#ff0000" stroke-width="0.6" stroke-opacity="0.36" stroke-linejoin="miter" stroke-miterlimit="2"/>
<polyline points="651.4,394.6 651.5,404.3 651.8,414.0 651.6,423.8 651.7,433.5 651.9,443.2 651.5,443.2 634.0,443.2 634.0,447.1 596.0,462.5" fill="none" stroke="#ff0000" stroke-width="0.6" stroke-opacity="0.36" stroke-linejoin="miter" stroke-miterlimit="2"/>
<polyline points="555.3,462.5 560.3,535.5 546.2,535.5 551.2,581.7" fill="none" stroke="#ff0000" stroke-width="0.6" stroke-opacity="0.36" stroke-linejoin="miter" stroke-miterlimit="2"/>
<polyline points="651.4,394.6 652.2,404.4 652.2,414.3 652.5,424.2 652.5,434.1 652.1,443.9 652.4,443.9 634.6,443.9 634.6,445.7 596.1,461.5" fill="none" stroke="#ff0000" stroke-width="0.6" stroke-opacity="0.36" stroke-linejoin="miter" stroke-miterlimit="2"/>
<polyline points="556.1,461.5 562.0,550.5 541.6,550.5 542.8,581.7" fill="none" stroke="#ff0000" stroke-width="0.6" stroke-opacity="0.36" stroke-linejoin="miter" stroke-miterlimit="2"/>
<polyline points="650.8,394.6 650.6,404.8 651.5,415.1 650.9,425.4 651.1,435.6 651.3,445.9 651.3,445.9 634.8,445.9 634.8,447.7 595.4,464.5" fill="none" stroke="#ff0000" stroke-width="0.6" stroke-opacity="0.36" stroke-linejoin="miter" stroke-miterlimit="2"/>
<polyline points="556.2,464.5 561.2,535.5 547.4,535.5 551.1,581.7" fill="none" stroke="#ff0000" stroke-width="0.6" stroke-opacity="0.36" stroke-linejoin="miter" stroke-miterlimit="2"/>
<polyline points="650.6,394.6 651.2,404.8 651.2,415.0 651.5,425.2 651.3,435.4 651.4,445.6 651.4,445.6 635.0,445.6 635.0,447.3 595.4,463.5" fill="none" stroke="#ff0000" stroke-width="0.6" stroke-opacity="0.36" stroke-linejoin="miter" stroke-miterlimit="2"/>
<polyline points="555.9,463.5 560.5,528.5 545.4,528.5 548.9,581.7" fill="none" stroke="#ff0000" stroke-width="0.6" stroke-opacity="0.36" stroke-linejoin="miter" stroke-miterlimit="2"/>
<polyline points="650.1,394.6 650.3,404.1 650.7,413.5 650.4,423.0 650.5,432.5 650.5,442.0 650.6,442.0 633.8,442.0 633.8,442.8 594.9,454.5" fill="none" stroke="#ff0000" stroke-width="0.6" stroke-opacity="0.36" stroke-linejoin="miter" stroke-miterlimit="2"/>
<polyline points="555.5,454.5 560.4,533.5 541.0,533.5 545.4,581.7" fill="none" stroke="#ff0000" stroke-width="0.6" stroke-opacity="0.36" stroke-linejoin="miter" stroke-miterlimit="2"/>
<polyline points="650.9,394.6 650.7,405.3 651.0,416.0 651.8,426.8 651.2,437.5 651.9,448.2 651.4,448.2 633.7,448.2 633.7,448.7 596.1,465.5" fill="none" stroke="#ff0000" stroke-width="0.6" stroke-opacity="0.36" stroke-linejoin="miter" stroke-miterlimit="2"/>
<polyline points="556.2,465.5 561.0,532.5 544.7,532.5 549.0,581.7" fill="none" stroke="#ff0000" stroke-width="0.6" stroke-opacity="0.36" stroke-linejoin="miter" stroke-miterlimit="2"/>
<polyline points="650.4,394.6 650.8,404.4 651.4,414.3 651.3,424.2 651.6,434.1 651.4,444.0 651.4,444.0 634.6,444.0 634.6,445.9 595.3,461.5" fill="none" stroke="#ff0000" stroke-width="0.6" stroke-opacity="0.36" stroke-linejoin="miter" stroke-miterlimit="2"/>
<polyline points="556.2,461.5 561.0,532.5 541.9,532.5 544.6,581.7" fill="none" stroke="#ff0000" stroke-width="0.6" stroke-opacity="0.36" stroke-linejoin="miter" stroke-miterlimit="2"/>
<polyline points="651.4,394.6 651.8,404.8 651.4,415.1 651.7,425.4 651.9,435.7 651.8,446.0 651.9,446.0 633.5,446.0 633.5,447.6 596.4,464.5" fill="none" stroke="#ff0000" stroke-width="0.6" stroke-opacity="0.36" stroke-linejoin="miter" stroke-miterlimit="2"/>
<polyline points="555.5,464.5 560.6,536.5 541.4,536.5 544.6,581.7" fill="none" stroke="#ff0000" stroke-width="0.6" stroke-opacity="0.36" stroke-linejoin="miter" stroke-miterlimit="2"/>
<polyline points="651.5,394.6 651.3,404.3 651.7,414.1 652.2,423.9 652.0,433.6 651.7,443.4 651.9,443.4 634.8,443.4 634.8,446.0 595.5,465.5" fill="none" stroke="#ff0000" stroke-width="0.6" stroke-opacity="0.36" stroke-linejoin="miter" stroke-miterlimit="2"/>
<polyline points="555.5,465.5 560.6,536.5 545.7,536.5 549.3,581.7" fill="none" stroke="#ff0000" stroke-width="0.6" stroke-opacity="0.36" stroke-linejoin="miter" stroke-miterlimit="2"/>
<polyline points="650.8,394.6 651.2,404.2 651.4,413.8 651.6,423.4 651.2,433.0 651.5,442.6 651.3,442.6 633.8,442.6 633.8,443.5 596.0,454.5" fill="none" stroke="#ff0000" stroke-width="0.6" stroke-opacity="0.36" stroke-linejoin="miter" stroke-miterlimit="2"/>
<polyline points="555.7,454.5 559.0,507.5 541.8,507.5 547.6,581.7" fill="none" stroke="#ff0000" stroke-width="0.6" stroke-opacity="0.36" stroke-linejoin="miter" stroke-miterlimit="2"/>
<polyline points="651.0,394.6 651.2,404.3 651.0,414.0 651.0,423.7 651.3,433.4 650.9,443.1 651.2,443.1 633.5,443.1 633.5,446.0 595.2,460.5" fill="none" stroke="#ff0000" stroke-width="0.6" stroke-opacity="0.36" stroke-linejoin="miter" stroke-miterlimit="2"/>
<polyline points="555.4,460.5 560.5,538.5 541.1,538.5 544.9,581.7" fill="none" stroke="#ff0000" stroke-width="0.6" stroke-opacity="0.36" stroke-linejoin="miter" stroke-miterlimit="2"/>
<polyline points="651.2,394.6 651.7,404.4 652.2,414.2 651.9,424.1 652.1,433.9 652.1,443.8 652.1,443.8 634.0,443.8 634.0,444.5 595.2,458.5" fill="none" stroke="#ff0000" stroke-width="0.6" stroke-opacity="0.36" stroke-linejoin="miter" stroke-miterlimit="2"/>
<polyline points="555.9,458.5 561.2,540.5 545.7,540.5 548.0,581.7" fill="none" stroke="#ff0000" stroke-width="0.6" stroke-opacity="0.36" stroke-linejoin="miter" stroke-miterlimit="2"/>
<polyline points="651.3,394.6 651.4,404.8 651.9,415.0 651.8,425.2 652.0,435.4 652.5,445.6 652.0,445.6 634.5,445.6 634.5,446.0 595.1,466.5" fill="none" stroke="#ff0000" stroke-width="0.6" stroke-opacity="0.36" stroke-linejoin="miter" stroke-miterlimit="2"/>
<polyline points="555.7,466.5 560.0,523.5 547.5,523.5 552.9,581.7" fill="none" stroke="#ff0000" stroke-width="0.6" stroke-opacity="0.36" stroke-linejoin="miter" stroke-miterlimit="2"/>
<polyline points="651.5,394.6 651.9,404.5 651.9,414.5 652.0,424.4 651.9,434.4 652.1,444.4 652.0,444.4 634.0,444.4 634.0,446.1 596.1,458.5" fill="none" stroke="#ff0000" stroke-width="0.6" stroke-opacity="0.36" stroke-linejoin="miter" stroke-miterlimit="2"/>
<polyline points="555.9,458.5 559.5,511.5 542.7,511.5 547.3,581.7" fill="none" stroke="#ff0000" stroke-width="0.6" stroke-opacity="0.36" stroke-linejoin="miter" stroke-miterlimit="2"/>
<polyline points="651.1,394.6 651.0,405.4 651.5,416.3 651.9,427.2 651.3,438.1 652.0,448.9 651.7,448.9 634.2,448.9 634.2,450.4 596.1,468.5" fill="none" stroke="#ff0000" stroke-width="0.6" stroke-opacity="0.36" stroke-linejoin="miter" stroke-miterlimit="2"/>
<polyline points="556.1,468.5 560.6,528.5 547.9,528.5 551.8,581.7" fill="none" stroke="#ff0000" stroke-width="0.6" stroke-opacity="0.36" stroke-linejoin="miter" stroke-miterlimit="2"/>
<polyline points="651.8,394.6 651.6,404.8 651.7,415.0 652.4,425.2 651.9,435.5 652.0,445.7 652.0,445.7 635.1,445.7 635.1,446.1 595.7,459.5" fill="none" stroke="#ff0000" stroke-width="0.6" stroke-opacity="0.36" stroke-linejoin="miter" stroke-miterlimit="2"/>
<polyline points="555.9,459.5 559.2,507.5 547.2,507.5 551.8,581.7" fill="none" stroke="#ff0000" stroke-width="0.6" stroke-opacity="0.36" stroke-linejoin="miter" stroke-miterlimit="2"/>
<polyline points="650.6,394.6 651.4,404.5 651.6,414.4 651.5,424.3 651.2,434.2 651.3,444.2 651.3,444.2 635.3,444.2 635.3,445.1 596.0,462.5" fill="none" stroke="#ff0000" stroke-width="0.6" stroke-opacity="0.36" stroke-linejoin="miter" stroke-miterlimit="2"/>
<polyline points="556.0,462.5 561.0,534.5 541.9,534.5 545.0,581.7" fill="none" stroke="#ff0000" stroke-width="0.6" stroke-opacity="0.36" stroke-linejoin="miter" stroke-miterlimit="2"/>
<polyline points="651.1,394.6 651.8,404.5 651.7,414.4 652.3,424.4 651.6,434.3 652.7,444.2 652.1,444.2 634.2,444.2 634.2,446.1 596.0,464.5" fill="none" stroke="#ff0000" stroke-width="0.6" stroke-opacity="0.36" stroke-linejoin="miter" stroke-miterlimit="2"/>
<polyline points="555.5,464.5 558.7,506.5 544.9,506.5 550.7,581.7" fill="none" stroke="#ff0000" stroke-width="0.6" stroke-opacity="0.36" stroke-linejoin="miter" stroke-miterlimit="2"/>
<polyline points="650.7,394.6 651.6,404.6 651.2,414.7 651.5,424.8 651.7,434.8 651.3,444.9 651.5,444.9 635.4,444.9 635.4,446.8 595.6,464.5" fill="none" stroke="#ff0000" stroke-width="0.6" stroke-opacity="0.36" stroke-linejoin="miter" stroke-miterlimit="2"/>
<polyline points="555.7,464.5 560.5,532.5 543.2,532.5 547.5,581.7" fill="none" stroke="#ff0000" stroke-width="0.6" stroke-opacity="0.36" stroke-linejoin="miter" stroke-miterlimit="2"/>
<polyline points="651.4,394.6 651.5,404.6 651.8,414.7 651.4,424.8 651.8,434.9 652.0,445.0 651.7,445.0 634.1,445.0 634.1,445.4 596.2,458.5" fill="none" stroke="#ff0000" stroke-width="0.6" stroke-opacity="0.36" stroke-linejoin="miter" stroke-miterlimit="2"/>
<polyline points="555.8,458.5 560.6,533.5 543.0,533.5 546.2,581.7" fill="none" stroke="#ff0000" stroke-width="0.6" stroke-opacity="0.36" stroke-linejoin="miter" stroke-miterlimit="2"/>
<polyline points="650.8,394.6 651.1,404.1 651.7,413.7 651.4,423.3 651.8,432.8 651.6,442.4 651.6,442.4 633.7,442.4 633.7,445.8 595.2,458.5" fill="none" stroke="#ff0000" stroke-width="0.6" stroke-opacity="0.36" stroke-linejoin="miter" stroke-miterlimit="2"/>
<polyline points="555.4,458.5 560.9,543.5 541.7,543.5 544.9,581.7" fill="none" stroke="#ff0000" stroke-width="0.6" stroke-opacity="0.36" stroke-linejoin="miter" stroke-miterlimit="2"/>
<polyline points="595.7,457.5 555.5,457.5" fill="none" stroke="#ff0000" stroke-width="1.0" stroke-opacity="0.2" stroke-linejoin="miter" stroke-miterlimit="2"/>
<polyline points="595.6,454.5 555.9,454.5" fill="none" stroke="#ff0000" stroke-width="1.0" stroke-opacity="0.2" stroke-linejoin="miter" stroke-miterlimit="2"/>
<polyline points="596.0,460.5 555.7,460.5" fill="none" stroke="#ff0000" stroke-width="1.0" stroke-opacity="0.2" stroke-linejoin="miter" stroke-miterlimit="2"/>
<polyline points="595.8,462.5 556.0,462.5" fill="none" stroke="#ff0000" stroke-width="1.0" stroke-opacity="0.2" stroke-linejoin="miter" stroke-miterlimit="2"/>
<polyline points="596.2,464.5 556.2,464.5" fill="none" stroke="#ff0000" stroke-width="1.0" stroke-opacity="0.2" stroke-linejoin="miter" stroke-miterlimit="2"/>
<polyline points="596.1,457.5 556.1,457.5" fill="none" stroke="#ff0000" stroke-width="1.0" stroke-opacity="0.2" stroke-linejoin="miter" stroke-miterlimit="2"/>
<polyline points="596.1,462.5 555.7,462.5" fill="none" stroke="#ff0000" stroke-width="1.0" stroke-opacity="0.2" stroke-linejoin="miter" stroke-miterlimit="2"/>
<polyline points="596.2,459.5 555.9,459.5" fill="none" stroke="#ff0000" stroke-width="1.0" stroke-opacity="0.2" stroke-linejoin="miter" stroke-miterlimit="2"/>
<polyline points="595.6,453.5 555.5,453.5" fill="none" stroke="#ff0000" stroke-width="1.0" stroke-opacity="0.2" stroke-linejoin="miter" stroke-miterlimit="2"/>
<polyline points="595.9,459.5 556.2,459.5" fill="none" stroke="#ff0000" stroke-width="1.0" stroke-opacity="0.2" stroke-linejoin="miter" stroke-miterlimit="2"/>
<polyline points="596.1,455.5 555.4,455.5" fill="none" stroke="#ff0000" stroke-width="1.0" stroke-opacity="0.2" stroke-linejoin="miter" stroke-miterlimit="2"/>
<polyline points="595.0,459.5 556.0,459.5" fill="none" stroke="#ff0000" stroke-width="1.0" stroke-opacity="0.2" stroke-linejoin="miter" stroke-miterlimit="2"/>
<polyline points="594.9,464.5 556.1,464.5" fill="none" stroke="#ff0000" stroke-width="1.0" stroke-opacity="0.2" stroke-linejoin="miter" stroke-miterlimit="2"/>
<polyline points="595.8,458.5 556.0,458.5" fill="none" stroke="#ff0000" stroke-width="1.0" stroke-opacity="0.2" stroke-linejoin="miter" stroke-miterlimit="2"/>
<polyline points="595.8,464.5 555.8,464.5" fill="none" stroke="#ff0000" stroke-width="1.0" stroke-opacity="0.2" stroke-linejoin="miter" stroke-miterlimit="2"/>
<polyline points="596.4,456.5 556.0,456.5" fill="none" stroke="#ff0000" stroke-width="1.0" stroke-opacity="0.2" stroke-linejoin="miter" stroke-miterlimit="2"/>
<polyline points="595.0,466.5 555.9,466.5" fill="none" stroke="#ff0000" stroke-width="1.0" stroke-opacity="0.2" stroke-linejoin="miter" stroke-miterlimit="2"/>
<polyline points="596.1,455.5 555.8,455.5" fill="none" stroke="#ff0000" stroke-width="1.0" stroke-opacity="0.2" stroke-linejoin="miter" stroke-miterlimit="2"/>
<polyline points="595.2,462.5 555.7,462.5" fill="none" stroke="#ff0000" stroke-width="1.0" stroke-opacity="0.2" stroke-linejoin="miter" stroke-miterlimit="2"/>
<polyline points="596.5,470.5 556.0,470.5" fill="none" stroke="#ff0000" stroke-width="1.0" stroke-opacity="0.2" stroke-linejoin="miter" stroke-miterlimit="2"/>
<polyline points="596.5,470.5 555.8,470.5" fill="none" stroke="#ff0000" stroke-width="1.0" stroke-opacity="0.2" stroke-linejoin="miter" stroke-miterlimit="2"/>
<polyline points="595.8,456.5 555.9,456.5" fill="none" stroke="#ff0000" stroke-width="1.0" stroke-opacity="0.2" stroke-linejoin="miter" stroke-miterlimit="2"/>
<polyline points="595.5,458.5 555.4,458.5" fill="none" stroke="#ff0000" stroke-width="1.0" stroke-opacity="0.2" stroke-linejoin="miter" stroke-miterlimit="2"/>
<polyline points="596.1,455.5 555.7,455.5" fill="none" stroke="#ff0000" stroke-width="1.0" stroke-opacity="0.2" stroke-linejoin="miter" stroke-miterlimit="2"/>
<polyline points="595.3,455.5 556.3,455.5" fill="none" stroke="#ff0000" stroke-width="1.0" stroke-opacity="0.2" stroke-linejoin="miter" stroke-miterlimit="2"/>
<polyline points="595.2,457.5 555.3,457.5" fill="none" stroke="#ff0000" stroke-width="1.0" stroke-opacity="0.2" stroke-linejoin="miter" stroke-miterlimit="2"/>
<polyline points="596.1,464.5 555.5,464.5" fill="none" stroke="#ff0000" stroke-width="1.0" stroke-opacity="0.2" stroke-linejoin="miter" stroke-miterlimit="2"/>
<polyline points="595.9,462.5 555.9,462.5" fill="none" stroke="#ff0000" stroke-width="1.0" stroke-opacity="0.2" stroke-linejoin="miter" stroke-miterlimit="2"/>
<polyline points="595.3,458.5 556.1,458.5" fill="none" stroke="#ff0000" stroke-width="1.0" stroke-opacity="0.2" stroke-linejoin="miter" stroke-miterlimit="2"/>
<polyline points="595.2,461.5 556.1,461.5" fill="none" stroke="#ff0000" stroke-width="1.0" stroke-opacity="0.2" stroke-linejoin="miter" stroke-miterlimit="2"/>
<polyline points="595.0,461.5 556.1,461.5" fill="none" stroke="#ff0000" stroke-width="1.0" stroke-opacity="0.2" stroke-linejoin="miter" stroke-miterlimit="2"/>
<polyline points="595.7,469.5 556.1,469.5" fill="none" stroke="#ff0000" stroke-width="1.0" stroke-opacity="0.2" stroke-linejoin="miter" stroke-miterlimit="2"/>
<polyline points="595.5,462.5 555.4,462.5" fill="none" stroke="#ff0000" stroke-width="1.0" stroke-opacity="0.2" stroke-linejoin="miter" stroke-miterlimit="2"/>
<polyline points="595.2,464.5 556.3,464.5" fill="none" stroke="#ff0000" stroke-width="1.0" stroke-opacity="0.2" stroke-linejoin="miter" stroke-miterlimit="2"/>
<polyline points="595.2,453.5 555.6,453.5" fill="none" stroke="#ff0000" stroke-width="1.0" stroke-opacity="0.2" stroke-linejoin="miter" stroke-miterlimit="2"/>
<polyline points="596.0,455.5 556.1,455.5" fill="none" stroke="#ff0000" stroke-width="1.0" stroke-opacity="0.2" stroke-linejoin="miter" stroke-miterlimit="2"/>
<polyline points="595.6,456.5 556.3,456.5" fill="none" stroke="#ff0000" stroke-width="1.0" stroke-opacity="0.2" stroke-linejoin="miter" stroke-miterlimit="2"/>
<polyline points="596.5,455.5 555.4,455.5" fill="none" stroke="#ff0000" stroke-width="1.0" stroke-opacity="0.2" stroke-linejoin="miter" stroke-miterlimit="2"/>
<polyline points="595.2,454.5 555.9,454.5" fill="none" stroke="#ff0000" stroke-width="1.0" stroke-opacity="0.2" stroke-linejoin="miter" stroke-miterlimit="2"/>
<polyline points="596.0,462.5 555.3,462.5" fill="none" stroke="#ff0000" stroke-width="1.0" stroke-opacity="0.2" stroke-linejoin="miter" stroke-miterlimit="2"/>
<polyline points="596.1,461.5 556.1,461.5" fill="none" stroke="#ff0000" stroke-width="1.0" stroke-opacity="0.2" stroke-linejoin="miter" stroke-miterlimit="2"/>
<polyline points="595.4,464.5 556.2,464.5" fill="none" stroke="#ff0000" stroke-width="1.0" stroke-opacity="0.2" stroke-linejoin="miter" stroke-miterlimit="2"/>
<polyline points="595.4,463.5 555.9,463.5" fill="none" stroke="#ff0000" stroke-width="1.0" stroke-opacity="0.2" stroke-linejoin="miter" stroke-miterlimit="2"/>
<polyline points="594.9,454.5 555.5,454.5" fill="none" stroke="#ff0000" stroke-width="1.0" stroke-opacity="0.2" stroke-linejoin="miter" stroke-miterlimit="2"/>
<polyline points="596.1,465.5 556.2,465.5" fill="none" stroke="#ff0000" stroke-width="1.0" stroke-opacity="0.2" stroke-linejoin="miter" stroke-miterlimit="2"/>
<polyline points="595.3,461.5 556.2,461.5" fill="none" stroke="#ff0000" stroke-width="1.0" stroke-opacity="0.2" stroke-linejoin="miter" stroke-miterlimit="2"/>
<polyline points="596.4,464.5 555.5,464.5" fill="none" stroke="#ff0000" stroke-width="1.0" stroke-opacity="0.2" stroke-linejoin="miter" stroke-miterlimit="2"/>
<polyline points="595.5,465.5 555.5,465.5" fill="none" stroke="#ff0000" stroke-width="1.0" stroke-opacity="0.2" stroke-linejoin="miter" stroke-miterlimit="2"/>
<polyline points="596.0,454.5 555.7,454.5" fill="none" stroke="#ff0000" stroke-width="1.0" stroke-opacity="0.2" stroke-linejoin="miter" stroke-miterlimit="2"/>
<polyline points="595.2,460.5 555.4,460.5" fill="none" stroke="#ff0000" stroke-width="1.0" stroke-opacity="0.2" stroke-linejoin="miter" stroke-miterlimit="2"/>
<polyline points="595.2,458.5 555.9,458.5" fill="none" stroke="#ff0000" stroke-width="1.0" stroke-opacity="0.2" stroke-linejoin="miter" stroke-miterlimit="2"/>
<polyline points="595.1,466.5 555.7,466.5" fill="none" stroke="#ff0000" stroke-width="1.0" stroke-opacity="0.2" stroke-linejoin="miter" stroke-miterlimit="2"/>
<polyline points="596.1,458.5 555.9,458.5" fill="none" stroke="#ff0000" stroke-width="1.0" stroke-opacity="0.2" stroke-linejoin="miter" stroke-miterlimit="2"/>
<polyline points="596.1,468.5 556.1,468.5" fill="none" stroke="#ff0000" stroke-width="1.0" stroke-opacity="0.2" stroke-linejoin="miter" stroke-miterlimit="2"/>
<polyline points="595.7,459.5 555.9,459.5" fill="none" stroke="#ff0000" stroke-width="1.0" stroke-opacity="0.2" stroke-linejoin="miter" stroke-miterlimit="2"/>
<polyline points="596.0,462.5 556.0,462.5" fill="none" stroke="#ff0000" stroke-width="1.0" stroke-opacity="0.2" stroke-linejoin="miter" stroke-miterlimit="2"/>
<polyline points="596.0,464.5 555.5,464.5" fill="none" stroke="#ff0000" stroke-width="1.0" stroke-opacity="0.2" stroke-linejoin="miter" stroke-miterlimit="2"/>
<polyline points="595.6,464.5 555.7,464.5" fill="none" stroke="#ff0000" stroke-width="1.0" stroke-opacity="0.2" stroke-linejoin="miter" stroke-miterlimit="2"/>
<polyline points="596.2,458.5 555.8,458.5" fill="none" stroke="#ff0000" stroke-width="1.0" stroke-opacity="0.2" stroke-linejoin="miter" stroke-miterlimit="2"/>
<polyline points="595.2,458.5 555.4,458.5" fill="none" stroke="#ff0000" stroke-width="1.0" stroke-opacity="0.2" stroke-linejoin="miter" stroke-miterlimit="2"/>
</g>
<polyline points="428.4,280.6 428.4,328.6" fill="none" stroke="#0000ff" stroke-width="0.8" stroke-opacity="0.3" stroke-linejoin="miter" stroke-miterlimit="2"/>
<polyline points="428.4,453.0 428.4,581.7" fill="none" stroke="#0000ff" stroke-width="0.8" stroke-opacity="0.3" stroke-linejoin="miter" stroke-miterlimit="2"/>
<text transform="translate(-0.50,17.90) scale(1.03,1)" text-anchor="start" font-size="22" font-weight="bold" stroke="#000" stroke-width="0.7">a</text>
<text transform="translate(342.10,18.10) scale(1.03,1)" text-anchor="start" font-size="22" font-weight="bold" stroke="#000" stroke-width="0.7">b</text>
<text transform="translate(-0.10,395.70) scale(1.07,1)" text-anchor="start" font-size="22" font-weight="bold" stroke="#000" stroke-width="0.7">c</text>
<text transform="translate(341.90,395.20) scale(1.03,1)" text-anchor="start" font-size="22" font-weight="bold" stroke="#000" stroke-width="0.7">d</text>
<text transform="translate(-0.50,641.40) scale(1.09,1)" text-anchor="start" font-size="22" font-weight="bold" stroke="#000" stroke-width="0.7">e</text>
<text transform="translate(348.10,642.10) scale(1.03,1)" text-anchor="start" font-size="22" font-weight="bold" stroke="#000" stroke-width="0.7">f</text>
<path d="M69.10,21.70 V328.90 H314.80" fill="none" stroke="#1e1e1e" stroke-width="1.6" stroke-linecap="square"/>
<line x1="69.10" y1="84.80" x2="76.10" y2="84.80" stroke="#1e1e1e" stroke-width="1.6" />
<text transform="translate(62.60,91.80) scale(1.03,1)" text-anchor="end" font-size="16" font-weight="normal" >3,000</text>
<line x1="69.10" y1="166.00" x2="76.10" y2="166.00" stroke="#1e1e1e" stroke-width="1.6" />
<text transform="translate(62.60,173.00) scale(1.03,1)" text-anchor="end" font-size="16" font-weight="normal" >2,500</text>
<line x1="69.10" y1="247.90" x2="76.10" y2="247.90" stroke="#1e1e1e" stroke-width="1.6" />
<text transform="translate(62.60,254.90) scale(1.03,1)" text-anchor="end" font-size="16" font-weight="normal" >2,000</text>
<text transform="translate(62.60,335.60) scale(1.03,1)" text-anchor="end" font-size="16" font-weight="normal" >1,500</text>
<line x1="80.60" y1="328.90" x2="80.60" y2="322.40" stroke="#1e1e1e" stroke-width="1.6" />
<text transform="translate(80.60,347.20) scale(1.03,1)" text-anchor="middle" font-size="16" font-weight="normal" >0</text>
<line x1="139.20" y1="328.90" x2="139.20" y2="322.40" stroke="#1e1e1e" stroke-width="1.6" />
<text transform="translate(138.80,347.20) scale(1.03,1)" text-anchor="middle" font-size="16" font-weight="normal" >2,500</text>
<line x1="197.70" y1="328.90" x2="197.70" y2="322.40" stroke="#1e1e1e" stroke-width="1.6" />
<text transform="translate(197.40,347.20) scale(1.03,1)" text-anchor="middle" font-size="16" font-weight="normal" >5,000</text>
<line x1="256.30" y1="328.90" x2="256.30" y2="322.40" stroke="#1e1e1e" stroke-width="1.6" />
<text transform="translate(254.10,347.20) scale(1.03,1)" text-anchor="middle" font-size="16" font-weight="normal" >7,500</text>
<line x1="314.80" y1="328.90" x2="314.80" y2="322.40" stroke="#1e1e1e" stroke-width="1.6" />
<text transform="translate(199.40,369.90) scale(0.985,1)" text-anchor="middle" font-size="16"><tspan font-style="italic">V</tspan><tspan font-size="11.5" dy="3.6">P</tspan><tspan dy="-3.6"> or </tspan><tspan font-style="italic">V</tspan><tspan font-size="11.5" dy="3.6">S</tspan><tspan dy="-3.6"> (m s</tspan><tspan font-size="11.5" dy="-5.5">−1</tspan><tspan dy="5.5">)</tspan></text>
<text transform="translate(13.80,175.20) rotate(-90) scale(1.0,1.02)" x="0" y="0" text-anchor="middle" font-size="16">Radius (km)</text>
<path d="M417.00,21.70 V328.90 H662.70" fill="none" stroke="#1e1e1e" stroke-width="1.6" stroke-linecap="square"/>
<line x1="417.00" y1="84.80" x2="424.00" y2="84.80" stroke="#1e1e1e" stroke-width="1.6" />
<text transform="translate(408.80,91.80) scale(1.03,1)" text-anchor="end" font-size="16" font-weight="normal" >3,000</text>
<line x1="417.00" y1="166.00" x2="424.00" y2="166.00" stroke="#1e1e1e" stroke-width="1.6" />
<text transform="translate(408.80,173.00) scale(1.03,1)" text-anchor="end" font-size="16" font-weight="normal" >2,500</text>
<line x1="417.00" y1="247.90" x2="424.00" y2="247.90" stroke="#1e1e1e" stroke-width="1.6" />
<text transform="translate(408.80,254.90) scale(1.03,1)" text-anchor="end" font-size="16" font-weight="normal" >2,000</text>
<text transform="translate(408.80,335.60) scale(1.03,1)" text-anchor="end" font-size="16" font-weight="normal" >1,500</text>
<line x1="428.50" y1="328.90" x2="428.50" y2="322.40" stroke="#1e1e1e" stroke-width="1.6" />
<text transform="translate(425.70,347.20) scale(1.03,1)" text-anchor="middle" font-size="16" font-weight="normal" >0</text>
<line x1="487.10" y1="328.90" x2="487.10" y2="322.40" stroke="#1e1e1e" stroke-width="1.6" />
<text transform="translate(483.35,347.20) scale(1.03,1)" text-anchor="middle" font-size="16" font-weight="normal" >2,500</text>
<line x1="545.60" y1="328.90" x2="545.60" y2="322.40" stroke="#1e1e1e" stroke-width="1.6" />
<text transform="translate(542.10,347.20) scale(1.03,1)" text-anchor="middle" font-size="16" font-weight="normal" >5,000</text>
<line x1="604.20" y1="328.90" x2="604.20" y2="322.40" stroke="#1e1e1e" stroke-width="1.6" />
<text transform="translate(599.20,347.20) scale(1.03,1)" text-anchor="middle" font-size="16" font-weight="normal" >7,500</text>
<line x1="662.70" y1="328.90" x2="662.70" y2="322.40" stroke="#1e1e1e" stroke-width="1.6" />
<text transform="translate(547.30,369.90) scale(0.985,1)" text-anchor="middle" font-size="16"><tspan font-style="italic">V</tspan><tspan font-size="11.5" dy="3.6">P</tspan><tspan dy="-3.6"> or </tspan><tspan font-style="italic">V</tspan><tspan font-size="11.5" dy="3.6">S</tspan><tspan dy="-3.6"> (m s</tspan><tspan font-size="11.5" dy="-5.5">−1</tspan><tspan dy="5.5">)</tspan></text>
<text transform="translate(353.80,175.20) rotate(-90) scale(1.0,1.02)" x="0" y="0" text-anchor="middle" font-size="16">Radius (km)</text>
<text transform="translate(315.80,347.20) scale(1.03,1)" text-anchor="middle" font-size="16" font-weight="normal" >10,000</text>
<text transform="translate(659.70,347.20) scale(1.03,1)" text-anchor="middle" font-size="16" font-weight="normal" >10,000</text>
<path d="M69.10,397.90 V582.10 H314.80" fill="none" stroke="#1e1e1e" stroke-width="1.6" stroke-linecap="square"/>
<line x1="69.10" y1="397.20" x2="76.10" y2="397.20" stroke="#1e1e1e" stroke-width="1.6" />
<text transform="translate(62.60,404.80) scale(1.03,1)" text-anchor="end" font-size="16" font-weight="normal" >1,900</text>
<line x1="69.10" y1="450.20" x2="76.10" y2="450.20" stroke="#1e1e1e" stroke-width="1.6" />
<text transform="translate(62.60,457.80) scale(1.03,1)" text-anchor="end" font-size="16" font-weight="normal" >1,800</text>
<line x1="69.10" y1="503.10" x2="76.10" y2="503.10" stroke="#1e1e1e" stroke-width="1.6" />
<text transform="translate(62.60,510.70) scale(1.03,1)" text-anchor="end" font-size="16" font-weight="normal" >1,700</text>
<line x1="69.10" y1="556.00" x2="76.10" y2="556.00" stroke="#1e1e1e" stroke-width="1.6" />
<text transform="translate(62.60,563.60) scale(1.03,1)" text-anchor="end" font-size="16" font-weight="normal" >1,600</text>
<line x1="80.60" y1="582.10" x2="80.60" y2="575.60" stroke="#1e1e1e" stroke-width="1.6" />
<text transform="translate(80.60,600.70) scale(1.03,1)" text-anchor="middle" font-size="16" font-weight="normal" >0</text>
<line x1="139.20" y1="582.10" x2="139.20" y2="575.60" stroke="#1e1e1e" stroke-width="1.6" />
<text transform="translate(138.80,600.70) scale(1.03,1)" text-anchor="middle" font-size="16" font-weight="normal" >2,500</text>
<line x1="197.70" y1="582.10" x2="197.70" y2="575.60" stroke="#1e1e1e" stroke-width="1.6" />
<text transform="translate(197.40,600.70) scale(1.03,1)" text-anchor="middle" font-size="16" font-weight="normal" >5,000</text>
<line x1="256.30" y1="582.10" x2="256.30" y2="575.60" stroke="#1e1e1e" stroke-width="1.6" />
<text transform="translate(254.10,600.70) scale(1.03,1)" text-anchor="middle" font-size="16" font-weight="normal" >7,500</text>
<line x1="314.80" y1="582.10" x2="314.80" y2="575.60" stroke="#1e1e1e" stroke-width="1.6" />
<text transform="translate(199.40,622.50) scale(0.985,1)" text-anchor="middle" font-size="16"><tspan font-style="italic">V</tspan><tspan font-size="11.5" dy="3.6">P</tspan><tspan dy="-3.6"> or </tspan><tspan font-style="italic">V</tspan><tspan font-size="11.5" dy="3.6">S</tspan><tspan dy="-3.6"> (m s</tspan><tspan font-size="11.5" dy="-5.5">−1</tspan><tspan dy="5.5">)</tspan></text>
<text transform="translate(13.80,483.40) rotate(-90) scale(1.0,1.02)" x="0" y="0" text-anchor="middle" font-size="16">Radius (km)</text>
<path d="M417.00,397.90 V582.10 H662.70" fill="none" stroke="#1e1e1e" stroke-width="1.6" stroke-linecap="square"/>
<line x1="417.00" y1="397.20" x2="424.00" y2="397.20" stroke="#1e1e1e" stroke-width="1.6" />
<text transform="translate(408.80,404.80) scale(1.03,1)" text-anchor="end" font-size="16" font-weight="normal" >1,900</text>
<line x1="417.00" y1="450.20" x2="424.00" y2="450.20" stroke="#1e1e1e" stroke-width="1.6" />
<text transform="translate(408.80,457.80) scale(1.03,1)" text-anchor="end" font-size="16" font-weight="normal" >1,800</text>
<line x1="417.00" y1="503.10" x2="424.00" y2="503.10" stroke="#1e1e1e" stroke-width="1.6" />
<text transform="translate(408.80,510.70) scale(1.03,1)" text-anchor="end" font-size="16" font-weight="normal" >1,700</text>
<line x1="417.00" y1="556.00" x2="424.00" y2="556.00" stroke="#1e1e1e" stroke-width="1.6" />
<text transform="translate(408.80,563.60) scale(1.03,1)" text-anchor="end" font-size="16" font-weight="normal" >1,600</text>
<line x1="428.50" y1="582.10" x2="428.50" y2="575.60" stroke="#1e1e1e" stroke-width="1.6" />
<text transform="translate(425.70,600.70) scale(1.03,1)" text-anchor="middle" font-size="16" font-weight="normal" >0</text>
<line x1="487.10" y1="582.10" x2="487.10" y2="575.60" stroke="#1e1e1e" stroke-width="1.6" />
<text transform="translate(483.35,600.70) scale(1.03,1)" text-anchor="middle" font-size="16" font-weight="normal" >2,500</text>
<line x1="545.60" y1="582.10" x2="545.60" y2="575.60" stroke="#1e1e1e" stroke-width="1.6" />
<text transform="translate(542.10,600.70) scale(1.03,1)" text-anchor="middle" font-size="16" font-weight="normal" >5,000</text>
<line x1="604.20" y1="582.10" x2="604.20" y2="575.60" stroke="#1e1e1e" stroke-width="1.6" />
<text transform="translate(599.20,600.70) scale(1.03,1)" text-anchor="middle" font-size="16" font-weight="normal" >7,500</text>
<line x1="662.70" y1="582.10" x2="662.70" y2="575.60" stroke="#1e1e1e" stroke-width="1.6" />
<text transform="translate(547.30,622.50) scale(0.985,1)" text-anchor="middle" font-size="16"><tspan font-style="italic">V</tspan><tspan font-size="11.5" dy="3.6">P</tspan><tspan dy="-3.6"> or </tspan><tspan font-style="italic">V</tspan><tspan font-size="11.5" dy="3.6">S</tspan><tspan dy="-3.6"> (m s</tspan><tspan font-size="11.5" dy="-5.5">−1</tspan><tspan dy="5.5">)</tspan></text>
<text transform="translate(353.80,483.40) rotate(-90) scale(1.0,1.02)" x="0" y="0" text-anchor="middle" font-size="16">Radius (km)</text>
<text transform="translate(315.80,600.70) scale(1.03,1)" text-anchor="middle" font-size="16" font-weight="normal" >10,000</text>
<text transform="translate(659.70,600.70) scale(1.03,1)" text-anchor="middle" font-size="16" font-weight="normal" >10,000</text>
<text transform="translate(79.50,254.90) scale(1.03,1)" text-anchor="start" font-size="16" font-weight="normal" >Without a BML</text>
<text transform="translate(438.60,254.90) scale(1.03,1)" text-anchor="start" font-size="16" font-weight="normal" >With a BML</text>
<text transform="translate(84.20,418.60) scale(1.043,1)" text-anchor="start" font-size="16" font-weight="normal" >CMB range</text>
<line x1="126.6" y1="431.2" x2="126.6" y2="446.09999999999997" stroke="#000" stroke-width="1.6"/>
<path d="M126.6,422.9 L122.69999999999999,432.2 L126.6,431.4 L130.5,432.2 Z" fill="#000"/>
<path d="M126.6,454.4 L122.69999999999999,445.09999999999997 L126.6,445.9 L130.5,445.09999999999997 Z" fill="#000"/>
<text transform="translate(464.00,418.60) scale(1.044,1)" text-anchor="middle" font-size="16" font-weight="normal" >Mushy</text>
<text transform="translate(464.00,438.40) scale(1.057,1)" text-anchor="middle" font-size="16" font-weight="normal" >BML range</text>
<line x1="452.8" y1="448.7" x2="452.8" y2="463.2" stroke="#000" stroke-width="1.6"/>
<path d="M452.8,440.4 L448.90000000000003,449.7 L452.8,448.9 L456.7,449.7 Z" fill="#000"/>
<path d="M452.8,471.5 L448.90000000000003,462.2 L452.8,463.0 L456.7,462.2 Z" fill="#000"/>
<text transform="translate(430.20,534.90) scale(1.043,1)" text-anchor="start" font-size="16" font-weight="normal" >CMB range</text>
<line x1="521" y1="516.0" x2="521" y2="544.4000000000001" stroke="#000" stroke-width="1.6"/>
<path d="M521,507.7 L517.1,517.0 L521,516.2 L524.9,517.0 Z" fill="#000"/>
<path d="M521,552.7 L517.1,543.4000000000001 L521,544.2 L524.9,543.4000000000001 Z" fill="#000"/>
<text transform="translate(622.00,497.50) scale(1.04,1)" text-anchor="middle" font-size="16" font-weight="normal" >Fully molten</text>
<text transform="translate(622.00,516.80) scale(1.057,1)" text-anchor="middle" font-size="16" font-weight="normal" >BML range</text>
<line x1="573.2" y1="457.90000000000003" x2="573.2" y2="545.6" stroke="#000" stroke-width="1.6"/>
<path d="M573.2,449.6 L569.3000000000001,458.90000000000003 L573.2,458.1 L577.1,458.90000000000003 Z" fill="#000"/>
<path d="M573.2,553.9 L569.3000000000001,544.6 L573.2,545.4 L577.1,544.6 Z" fill="#000"/>
<path d="M69.20,643.70 V827.90 H314.80" fill="none" stroke="#1e1e1e" stroke-width="1.6" stroke-linecap="square"/>
<path d="M418.00,643.70 V827.90 H664.20" fill="none" stroke="#1e1e1e" stroke-width="1.6" stroke-linecap="square"/>
<path d="M225.00,828.1 V826.90 H227.40 V828.1Z M227.40,828.1 V826.90 H229.80 V828.1Z" fill="rgb(162,44,239)" fill-opacity="0.55"/>
<path d="M229.80,828.1 V823.10 H232.17 V828.1Z M232.17,828.1 V814.20 H234.54 V828.1Z M234.54,828.1 V802.10 H236.91 V828.1Z M236.91,828.1 V804.80 H239.28 V828.1Z M239.28,828.1 V782.20 H241.65 V828.1Z M241.65,828.1 V766.20 H244.02 V828.1Z M244.02,828.1 V759.60 H246.39 V828.1Z M246.39,828.1 V752.40 H248.76 V828.1Z M248.76,828.1 V732.00 H251.13 V828.1Z M251.13,828.1 V712.40 H253.50 V828.1Z M253.50,828.1 V726.90 H255.87 V828.1Z M255.87,828.1 V730.10 H258.24 V828.1Z M258.24,828.1 V747.30 H260.61 V828.1Z M260.61,828.1 V767.60 H262.98 V828.1Z M262.98,828.1 V777.10 H265.35 V828.1Z M265.35,828.1 V791.30 H267.72 V828.1Z M267.72,828.1 V807.70 H270.09 V828.1Z M270.09,828.1 V813.00 H272.46 V828.1Z M272.46,828.1 V821.10 H274.83 V828.1Z M274.83,828.1 V821.10 H277.20 V828.1Z M277.20,828.1 V825.00 H279.57 V828.1Z M279.57,828.1 V824.10 H281.94 V828.1Z M281.94,828.1 V827.00 H284.31 V828.1Z" fill="rgb(162,44,239)" fill-opacity="0.55"/>
<path d="M84.10,828.1 V809.70 H86.50 V828.1Z M86.50,828.1 V804.60 H88.90 V828.1Z M88.90,828.1 V798.50 H91.30 V828.1Z M91.30,828.1 V796.20 H93.70 V828.1Z M93.70,828.1 V779.90 H96.10 V828.1Z M96.10,828.1 V774.80 H98.50 V828.1Z M98.50,828.1 V806.80 H100.90 V828.1Z M100.90,828.1 V794.10 H103.30 V828.1Z M103.30,828.1 V793.00 H105.70 V828.1Z M105.70,828.1 V779.90 H108.10 V828.1Z M108.10,828.1 V755.20 H110.50 V828.1Z M110.50,828.1 V714.20 H112.90 V828.1Z M112.90,828.1 V717.10 H115.30 V828.1Z M115.30,828.1 V775.80 H117.70 V828.1Z M117.70,828.1 V765.60 H120.10 V828.1Z M120.10,828.1 V795.20 H122.50 V828.1Z M122.50,828.1 V805.60 H124.90 V828.1Z M124.90,828.1 V817.10 H127.30 V828.1Z M127.30,828.1 V797.40 H129.70 V828.1Z M129.70,828.1 V794.10 H132.10 V828.1Z M132.10,828.1 V803.60 H134.50 V828.1Z M134.50,828.1 V814.90 H136.90 V828.1Z M136.90,828.1 V818.90 H139.30 V828.1Z M139.30,828.1 V818.90 H141.70 V828.1Z M141.70,828.1 V823.10 H144.10 V828.1Z M144.10,828.1 V824.20 H146.50 V828.1Z M146.50,828.1 V808.80 H148.90 V828.1Z M148.90,828.1 V809.80 H151.30 V828.1Z M151.30,828.1 V806.90 H153.70 V828.1Z M153.70,828.1 V821.10 H156.10 V828.1Z M156.10,828.1 V824.20 H158.50 V828.1Z" fill="rgb(255,13,13)" fill-opacity="0.55"/>
<path d="M79.60,828.1 V827.00 H81.85 V828.1Z M81.85,828.1 V827.00 H84.10 V828.1Z" fill="rgb(255,13,13)" fill-opacity="0.55"/>
<path d="M201.30,828.1 V825.30 H203.67 V828.1Z M203.67,828.1 V825.30 H206.04 V828.1Z M206.04,828.1 V812.90 H208.41 V828.1Z M208.41,828.1 V799.60 H210.78 V828.1Z M210.78,828.1 V789.30 H213.15 V828.1Z M213.15,828.1 V748.30 H215.52 V828.1Z M215.52,828.1 V693.20 H217.89 V828.1Z M217.89,828.1 V731.90 H220.26 V828.1Z M220.26,828.1 V674.60 H222.63 V828.1Z M222.63,828.1 V702.20 H225.00 V828.1Z M225.00,828.1 V737.90 H227.37 V828.1Z M227.37,828.1 V719.80 H229.74 V828.1Z M229.74,828.1 V731.90 H232.11 V828.1Z M232.11,828.1 V805.90 H234.48 V828.1Z M234.48,828.1 V805.20 H236.85 V828.1Z M236.85,828.1 V825.30 H239.22 V828.1Z" fill="rgb(13,108,90)" fill-opacity="0.55"/>
<path d="M428.45,828.1 V825.10 H431.56 V828.1Z M431.56,828.1 V826.20 H434.67 V828.1Z M434.67,828.1 V824.40 H437.78 V828.1Z M437.78,828.1 V820.20 H440.89 V828.1Z M440.89,828.1 V820.90 H444.00 V828.1Z M444.00,828.1 V809.00 H447.11 V828.1Z M447.11,828.1 V801.10 H450.22 V828.1Z M450.22,828.1 V796.90 H453.33 V828.1Z M453.33,828.1 V775.10 H456.44 V828.1Z M456.44,828.1 V767.20 H459.55 V828.1Z M459.55,828.1 V736.40 H462.66 V828.1Z M462.66,828.1 V735.00 H465.77 V828.1Z M465.77,828.1 V738.90 H468.88 V828.1Z M468.88,828.1 V712.70 H471.99 V828.1Z M471.99,828.1 V732.20 H475.10 V828.1Z M475.10,828.1 V759.70 H478.21 V828.1Z M478.21,828.1 V761.60 H481.32 V828.1Z M481.32,828.1 V769.20 H484.43 V828.1Z M484.43,828.1 V785.30 H487.54 V828.1Z M487.54,828.1 V801.60 H490.65 V828.1Z M490.65,828.1 V804.20 H493.76 V828.1Z M493.76,828.1 V810.30 H496.87 V828.1Z M496.87,828.1 V824.20 H499.98 V828.1Z M499.98,828.1 V822.20 H503.09 V828.1Z M503.09,828.1 V827.10 H506.20 V828.1Z M509.31,828.1 V827.00 H512.42 V828.1Z" fill="rgb(162,44,239)" fill-opacity="0.55"/>
<path d="M517.90,828.1 V825.20 H520.98 V828.1Z M520.98,828.1 V808.20 H524.06 V828.1Z M524.06,828.1 V812.10 H527.14 V828.1Z M527.14,828.1 V815.00 H530.22 V828.1Z M530.22,828.1 V806.30 H533.30 V828.1Z M533.30,828.1 V811.10 H536.38 V828.1Z M536.38,828.1 V822.30 H539.46 V828.1Z M539.46,828.1 V807.20 H542.54 V828.1Z M542.54,828.1 V785.40 H545.62 V828.1Z M545.62,828.1 V783.50 H548.70 V828.1Z M548.70,828.1 V770.90 H551.78 V828.1Z M551.78,828.1 V763.90 H554.86 V828.1Z M554.86,828.1 V746.50 H557.94 V828.1Z M557.94,828.1 V711.60 H561.02 V828.1Z M561.02,828.1 V745.30 H564.10 V828.1Z M564.10,828.1 V776.30 H567.18 V828.1Z M567.18,828.1 V792.20 H570.26 V828.1Z M570.26,828.1 V790.30 H573.34 V828.1Z M573.34,828.1 V771.20 H576.42 V828.1Z M576.42,828.1 V771.20 H579.50 V828.1Z M579.50,828.1 V773.30 H582.58 V828.1Z M582.58,828.1 V790.30 H585.66 V828.1Z M585.66,828.1 V802.00 H588.74 V828.1Z M588.74,828.1 V807.20 H591.82 V828.1Z M591.82,828.1 V815.10 H594.90 V828.1Z M594.90,828.1 V821.20 H597.98 V828.1Z M597.98,828.1 V821.20 H601.06 V828.1Z M601.06,828.1 V827.00 H604.14 V828.1Z M607.22,828.1 V827.00 H610.30 V828.1Z" fill="rgb(255,13,13)" fill-opacity="0.55"/>
<line x1="69.20" y1="674.60" x2="76.20" y2="674.60" stroke="#1e1e1e" stroke-width="1.6" />
<text transform="translate(62.40,681.60) scale(1.03,1)" text-anchor="end" font-size="16" font-weight="normal" >15</text>
<line x1="69.20" y1="725.70" x2="76.20" y2="725.70" stroke="#1e1e1e" stroke-width="1.6" />
<text transform="translate(62.40,732.70) scale(1.03,1)" text-anchor="end" font-size="16" font-weight="normal" >10</text>
<line x1="69.20" y1="776.60" x2="76.20" y2="776.60" stroke="#1e1e1e" stroke-width="1.6" />
<text transform="translate(62.40,783.60) scale(1.03,1)" text-anchor="end" font-size="16" font-weight="normal" >5</text>
<line x1="77.00" y1="827.90" x2="77.00" y2="821.40" stroke="#1e1e1e" stroke-width="1.6" />
<text transform="translate(77.00,847.50) scale(1.03,1)" text-anchor="middle" font-size="16" font-weight="normal" >1,600</text>
<line x1="156.10" y1="827.90" x2="156.10" y2="821.40" stroke="#1e1e1e" stroke-width="1.6" />
<text transform="translate(158.10,847.50) scale(1.03,1)" text-anchor="middle" font-size="16" font-weight="normal" >1,700</text>
<line x1="235.40" y1="827.90" x2="235.40" y2="821.40" stroke="#1e1e1e" stroke-width="1.6" />
<text transform="translate(244.50,847.50) scale(1.03,1)" text-anchor="middle" font-size="16" font-weight="normal" >1,800</text>
<line x1="314.80" y1="827.90" x2="314.80" y2="821.40" stroke="#1e1e1e" stroke-width="1.6" />
<text transform="translate(314.80,847.50) scale(1.03,1)" text-anchor="middle" font-size="16" font-weight="normal" >1,900</text>
<text transform="translate(13.60,731.90) rotate(-90) scale(1.02,1.02)" x="0" y="0" text-anchor="middle" font-size="16">Frequency (%)</text>
<line x1="418.00" y1="674.60" x2="425.00" y2="674.60" stroke="#1e1e1e" stroke-width="1.6" />
<text transform="translate(407.40,681.60) scale(1.03,1)" text-anchor="end" font-size="16" font-weight="normal" >15</text>
<line x1="418.00" y1="725.70" x2="425.00" y2="725.70" stroke="#1e1e1e" stroke-width="1.6" />
<text transform="translate(407.40,732.70) scale(1.03,1)" text-anchor="end" font-size="16" font-weight="normal" >10</text>
<line x1="418.00" y1="776.60" x2="425.00" y2="776.60" stroke="#1e1e1e" stroke-width="1.6" />
<text transform="translate(407.40,783.60) scale(1.03,1)" text-anchor="end" font-size="16" font-weight="normal" >5</text>
<line x1="418.70" y1="827.90" x2="418.70" y2="821.40" stroke="#1e1e1e" stroke-width="1.6" />
<text transform="translate(420.60,847.50) scale(1.03,1)" text-anchor="middle" font-size="16" font-weight="normal" >6,000</text>
<line x1="495.00" y1="827.90" x2="495.00" y2="821.40" stroke="#1e1e1e" stroke-width="1.6" />
<text transform="translate(496.50,847.50) scale(1.03,1)" text-anchor="middle" font-size="16" font-weight="normal" >6,250</text>
<line x1="571.70" y1="827.90" x2="571.70" y2="821.40" stroke="#1e1e1e" stroke-width="1.6" />
<text transform="translate(571.20,847.50) scale(1.03,1)" text-anchor="middle" font-size="16" font-weight="normal" >6,500</text>
<line x1="648.80" y1="827.90" x2="648.80" y2="821.40" stroke="#1e1e1e" stroke-width="1.6" />
<text transform="translate(647.20,847.50) scale(1.03,1)" text-anchor="middle" font-size="16" font-weight="normal" >6,750</text>
<text transform="translate(354.00,731.90) rotate(-90) scale(1.02,1.02)" x="0" y="0" text-anchor="middle" font-size="16">Frequency (%)</text>
<rect x="83.6" y="650.8" width="15.4" height="10.6" fill="#cc8bf6"/>
<rect x="83.6" y="668.1" width="15.4" height="10.6" fill="#ff7a7a"/>
<rect x="83.6" y="685.2" width="15.4" height="10.6" fill="#7aaea4"/>
<text transform="translate(106,663) scale(1.03,1)" font-size="16"><tspan font-style="italic">R</tspan><tspan font-size="11.5" dy="4.8">c</tspan><tspan dy="-4.8"> (without a BML)</tspan></text>
<text transform="translate(106,679.6) scale(1.03,1)" font-size="16"><tspan font-style="italic">R</tspan><tspan font-size="11.5" dy="4.8">c</tspan><tspan dy="-4.8"> (with a BML)</tspan></text>
<text transform="translate(106,697.1) scale(1.03,1)" font-size="16"><tspan font-style="italic">R</tspan><tspan font-size="11.5" dy="4.8">l</tspan><tspan dy="-4.8"> (with a BML)</tspan></text>
<rect x="447.8" y="665.2" width="15.1" height="10.6" fill="#cc8bf6"/>
<rect x="447.8" y="684.6" width="15.1" height="10.9" fill="#ff7a7a"/>
<text transform="translate(468.20,675.40) scale(1.03,1)" text-anchor="start" font-size="16" font-weight="normal" >Without a BML</text>
<text transform="translate(468.20,694.90) scale(1.03,1)" text-anchor="start" font-size="16" font-weight="normal" >With a BML</text>
<text transform="translate(190.3,872.2) scale(0.995,1)" text-anchor="middle" font-size="16">Real (<tspan font-style="italic">R</tspan><tspan font-size="11.5" dy="4.8">c</tspan><tspan dy="-4.8">) or apparent (</tspan><tspan font-style="italic">R</tspan><tspan font-size="11.5" dy="4.8">l</tspan><tspan dy="-4.8">)</tspan></text>
<text transform="translate(190.30,891.40) scale(1.03,1)" text-anchor="middle" font-size="16" font-weight="normal" >core radius (km)</text>
<text transform="translate(542,869.7) scale(1.024,1)" text-anchor="middle" font-size="16">Average core density, <tspan font-style="italic">ρ</tspan><tspan font-size="11.5" dy="3.8">c</tspan><tspan dy="-3.8"> (kg m</tspan><tspan font-size="11.5" dy="-5.5">−3</tspan><tspan dy="5.5">)</tspan></text>
</svg></body></html>
